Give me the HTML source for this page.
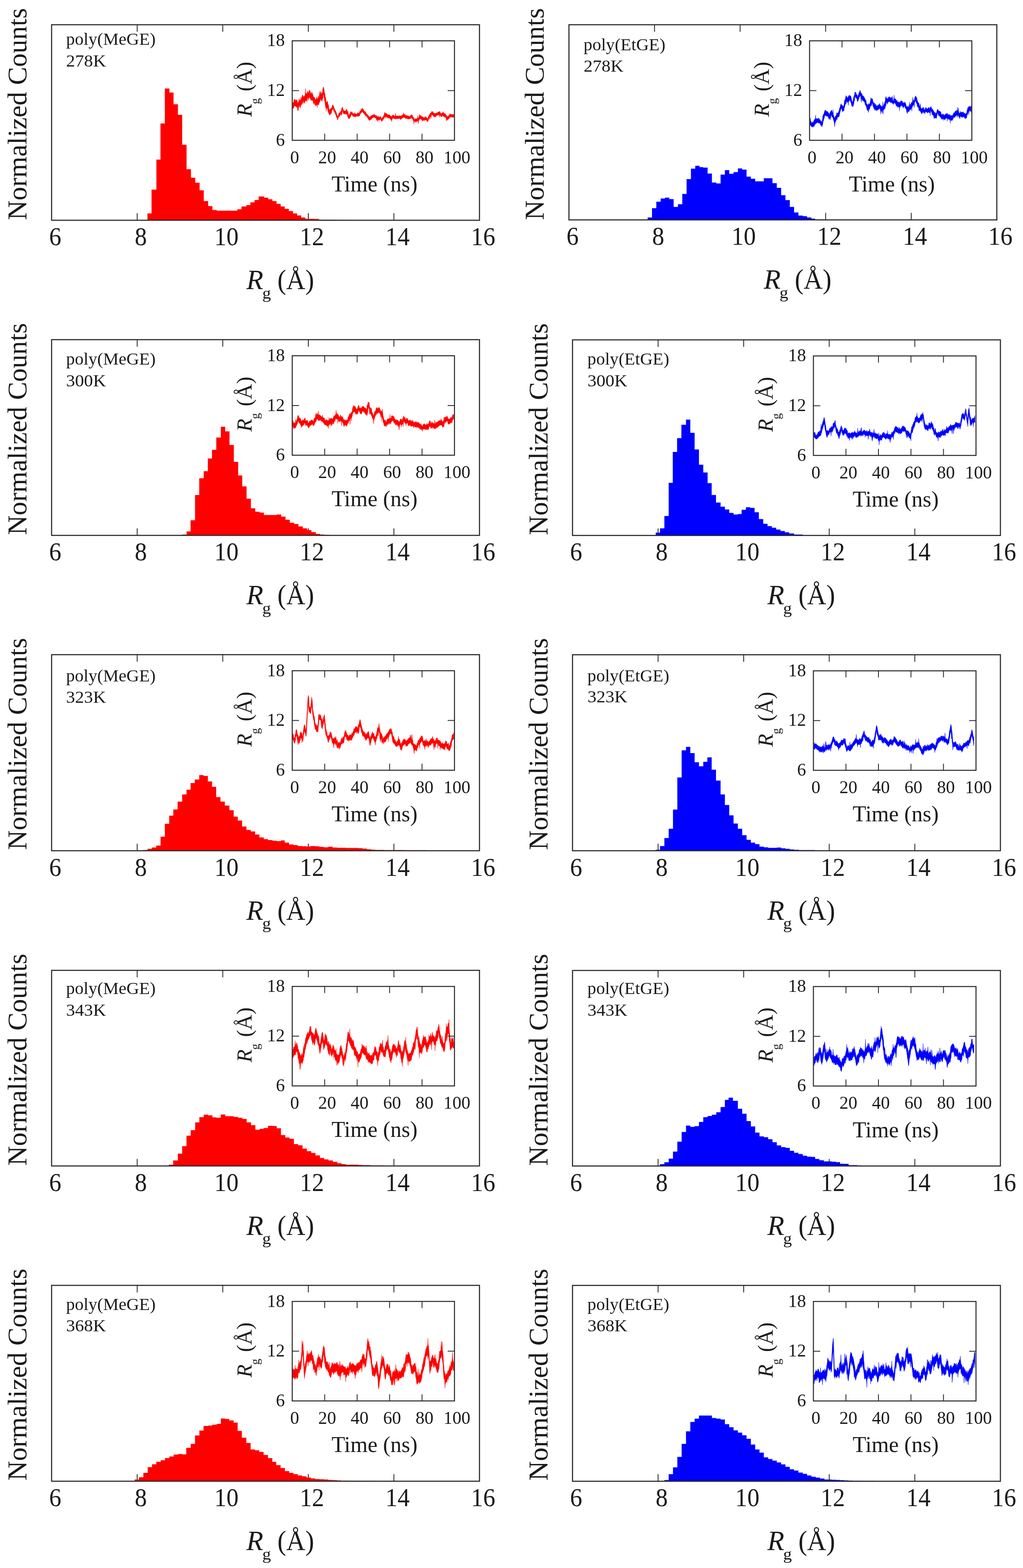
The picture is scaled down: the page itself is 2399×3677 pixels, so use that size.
<!DOCTYPE html>
<html><head><meta charset="utf-8"><title>Rg histograms</title>
<style>html,body{margin:0;padding:0;background:#fff;}body{width:2399px;height:3677px;overflow:hidden;}svg{display:block;}</style>
</head><body>
<svg width="2399" height="3677" viewBox="0 0 2399 3677" font-family="Liberation Serif, Times New Roman, serif" fill="#1a1a1a">
<rect width="2399" height="3677" fill="#fff"/>
<path d="M321.7,516.5v-16.5M321.7,58v16.5M522.4,516.5v-16.5M522.4,58v16.5M723,516.5v-16.5M723,58v16.5M923.7,516.5v-16.5M923.7,58v16.5" stroke="#2b2b2b" stroke-width="2"/>
<path d="M345.8,516.5L345.8,500.4L355.4,500.4L355.4,444.7L366.7,444.7L366.7,374.2L376.3,374.2L376.3,289.5L386.6,289.5L386.6,207.4L397.3,207.4L397.3,217.1L406.9,217.1L406.9,244.4L417.2,244.4L417.2,269.2L427.2,269.2L427.2,339.4L437.5,339.4L437.5,396.7L447.8,396.7L447.8,416.7L457.8,416.7L457.8,428.6L468.1,428.6L468.1,446.3L477.8,446.3L477.8,471.4L488.1,471.4L488.1,483.3L498,483.3L498,492.4L508.3,492.4L508.3,494L518.3,494L518.3,494L528.3,494L528.3,494L538.3,494L538.3,494L548.3,494L548.3,494L556.6,494L556.6,490.7L566.3,490.7L566.3,484.3L577.6,484.3L577.6,481.1L587.2,481.1L587.2,474.6L596.9,474.6L596.9,468.9L606.5,468.9L606.5,460.8L619.4,460.8L619.4,463.4L629.1,463.4L629.1,467.2L638.7,467.2L638.7,471.4L648.4,471.4L648.4,477.9L658.1,477.9L658.1,484.3L667.7,484.3L667.7,489.8L677.4,489.8L677.4,494.9L687,494.9L687,500.4L696.7,500.4L696.7,505.2L706.3,505.2L706.3,510.1L716,510.1L716,513.3L725.7,513.3L725.7,513.2L736,513.2L736,513.5L748,513.5L748,515L770,515L770,515.3L789,515.3L789,515.8L821,515.8L821,516.5Z" fill="#ff0000"/>
<rect x="121" y="58" width="1003.4" height="458.5" fill="none" stroke="#2b2b2b" stroke-width="2.6"/>
<text x="129.5" y="575" font-size="61" text-anchor="middle" textLength="28.5" lengthAdjust="spacingAndGlyphs">6</text>
<text x="330.2" y="575" font-size="61" text-anchor="middle" textLength="28.5" lengthAdjust="spacingAndGlyphs">8</text>
<text x="530.9" y="575" font-size="61" text-anchor="middle" textLength="57" lengthAdjust="spacingAndGlyphs">10</text>
<text x="731.5" y="575" font-size="61" text-anchor="middle" textLength="57" lengthAdjust="spacingAndGlyphs">12</text>
<text x="932.2" y="575" font-size="61" text-anchor="middle" textLength="57" lengthAdjust="spacingAndGlyphs">14</text>
<text x="1132.9" y="575" font-size="61" text-anchor="middle" textLength="57" lengthAdjust="spacingAndGlyphs">16</text>
<text x="577.8" y="678" font-size="65" font-style="italic">R</text>
<text x="614.9" y="699.5" font-size="38" textLength="20.5" lengthAdjust="spacingAndGlyphs">g</text>
<text x="650.6" y="678" font-size="65" textLength="86.2" lengthAdjust="spacingAndGlyphs">(Å)</text>
<text transform="translate(62,515.9) rotate(-90)" font-size="63.7">Normalized Counts</text>
<text x="154.9" y="104.8" font-size="40.5" textLength="210.1" lengthAdjust="spacingAndGlyphs">poly(MeGE)</text>
<text x="155" y="155.5" font-size="40.5" textLength="93.6" lengthAdjust="spacingAndGlyphs">278K</text>
<rect x="685.3" y="95.7" width="380.5" height="233.3" fill="#fff" stroke="none"/>
<path d="M686.6,239.7L687.4,240.5L688.2,242.1L689.0,236.0L689.8,232.5L690.6,232.7L691.4,233.4L692.2,233.8L693.0,236.9L693.8,235.6L694.6,233.0L695.4,235.8L696.2,234.4L697.0,235.6L697.8,239.9L698.6,244.0L699.4,239.6L700.2,239.1L701.0,234.4L701.8,231.0L702.6,236.0L703.4,235.9L704.2,234.9L705.0,232.4L705.8,227.4L706.6,232.9L707.4,230.7L708.2,226.0L709.0,222.8L709.8,222.4L710.6,225.0L711.4,226.1L712.2,226.4L713.0,226.8L713.8,225.5L714.6,223.2L715.4,225.6L716.2,207.5L717.0,220.9L717.8,217.6L718.6,221.3L719.4,218.9L720.2,219.3L721.0,213.5L721.8,217.5L722.6,214.6L723.4,218.3L724.2,219.1L725.0,212.6L725.8,210.6L726.6,214.6L727.4,213.0L728.2,217.7L729.0,218.9L729.8,222.0L730.6,217.0L731.4,216.0L732.2,217.4L733.0,222.8L733.8,220.7L734.6,226.2L735.4,226.8L736.2,226.9L737.0,229.8L737.8,228.1L738.6,230.9L739.4,233.6L740.2,232.8L741.0,233.0L741.8,230.9L742.6,226.5L743.4,230.7L744.2,232.4L745.0,231.0L745.8,227.6L746.6,225.1L747.4,228.2L748.2,228.1L749.0,214.8L749.8,223.5L750.6,222.2L751.4,214.2L752.2,220.0L753.0,215.3L753.8,217.8L754.6,221.5L755.4,219.3L756.2,216.0L757.0,208.4L757.8,204.3L758.6,204.2L759.4,206.7L760.2,210.5L761.0,217.5L761.8,218.4L762.6,227.1L763.4,227.5L764.2,232.2L765.0,238.4L765.8,239.3L766.6,239.8L767.4,239.3L768.2,236.0L769.0,242.9L769.8,246.4L770.6,245.2L771.4,257.4L772.2,257.7L773.0,255.8L773.8,255.8L774.6,257.5L775.4,253.7L776.2,254.4L777.0,253.2L777.8,253.1L778.6,249.7L779.4,246.5L780.2,247.7L781.0,245.4L781.8,249.1L782.6,250.1L783.4,252.7L784.2,254.4L785.0,256.1L785.8,258.6L786.6,259.0L787.4,260.6L788.2,263.3L789.0,264.6L789.8,267.8L790.6,270.0L791.4,272.6L792.2,273.2L793.0,271.2L793.8,268.8L794.6,266.0L795.4,264.7L796.2,264.6L797.0,264.3L797.8,263.5L798.6,260.7L799.4,261.2L800.2,259.1L801.0,256.0L801.8,252.6L802.6,253.0L803.4,250.6L804.2,254.9L805.0,256.7L805.8,258.4L806.6,259.4L807.4,261.3L808.2,259.5L809.0,259.7L809.8,259.2L810.6,260.1L811.4,260.2L812.2,256.9L813.0,255.7L813.8,257.3L814.6,262.7L815.4,263.5L816.2,260.0L817.0,267.5L817.8,270.1L818.6,271.9L819.4,266.3L820.2,268.0L821.0,268.3L821.8,260.9L822.6,265.0L823.4,263.3L824.2,261.8L825.0,262.3L825.8,263.0L826.6,264.9L827.4,265.1L828.2,266.5L829.0,267.3L829.8,265.1L830.6,268.6L831.4,267.1L832.2,263.6L833.0,267.4L833.8,267.6L834.6,267.0L835.4,266.0L836.2,267.9L837.0,267.7L837.8,266.7L838.6,263.9L839.4,264.5L840.2,264.7L841.0,265.9L841.8,266.1L842.6,263.9L843.4,262.2L844.2,260.8L845.0,260.2L845.8,259.3L846.6,255.2L847.4,258.7L848.2,256.8L849.0,253.7L849.8,253.2L850.6,254.9L851.4,256.6L852.2,257.9L853.0,256.9L853.8,259.8L854.6,262.0L855.4,260.8L856.2,261.0L857.0,262.1L857.8,263.9L858.6,264.8L859.4,266.5L860.2,267.2L861.0,269.4L861.8,268.2L862.6,270.2L863.4,270.7L864.2,270.8L865.0,273.8L865.8,275.5L866.6,273.4L867.4,274.0L868.2,273.1L869.0,272.7L869.8,272.4L870.6,270.3L871.4,272.1L872.2,270.1L873.0,270.1L873.8,270.1L874.6,269.3L875.4,270.2L876.2,268.9L877.0,267.4L877.8,267.9L878.6,269.4L879.4,270.2L880.2,269.9L881.0,271.0L881.8,270.8L882.6,271.0L883.4,271.6L884.2,272.3L885.0,273.0L885.8,273.4L886.6,273.3L887.4,274.9L888.2,271.4L889.0,276.2L889.8,274.8L890.6,274.7L891.4,272.9L892.2,273.4L893.0,273.5L893.8,276.6L894.6,278.1L895.4,277.0L896.2,276.9L897.0,274.5L897.8,274.6L898.6,274.3L899.4,271.6L900.2,270.2L901.0,268.2L901.8,263.2L902.6,265.8L903.4,264.5L904.2,265.5L905.0,266.5L905.8,265.8L906.6,266.3L907.4,266.5L908.2,269.6L909.0,267.8L909.8,269.6L910.6,268.9L911.4,269.2L912.2,268.9L913.0,268.8L913.8,269.2L914.6,271.1L915.4,272.5L916.2,272.2L917.0,272.1L917.8,272.6L918.6,273.1L919.4,272.8L920.2,270.2L921.0,270.1L921.8,269.1L922.6,270.8L923.4,270.5L924.2,270.8L925.0,272.5L925.8,273.1L926.6,271.6L927.4,265.7L928.2,270.2L929.0,271.9L929.8,273.3L930.6,271.0L931.4,272.2L932.2,271.0L933.0,271.4L933.8,272.3L934.6,271.8L935.4,271.0L936.2,272.0L937.0,271.3L937.8,271.4L938.6,271.7L939.4,271.7L940.2,272.5L941.0,270.7L941.8,271.4L942.6,270.4L943.4,269.7L944.2,269.9L945.0,268.1L945.8,268.3L946.6,263.9L947.4,268.2L948.2,268.6L949.0,268.8L949.8,268.0L950.6,269.8L951.4,269.9L952.2,271.0L953.0,270.7L953.8,270.6L954.6,272.2L955.4,269.9L956.2,273.1L957.0,272.0L957.8,272.4L958.6,270.8L959.4,272.2L960.2,273.8L961.0,273.6L961.8,272.5L962.6,269.8L963.4,271.9L964.2,269.5L965.0,268.6L965.8,268.8L966.6,270.6L967.4,271.0L968.2,273.9L969.0,275.7L969.8,274.9L970.6,275.5L971.4,279.9L972.2,279.8L973.0,279.3L973.8,277.3L974.6,280.4L975.4,278.0L976.2,280.0L977.0,277.2L977.8,278.4L978.6,279.1L979.4,270.8L980.2,276.7L981.0,277.0L981.8,275.3L982.6,274.9L983.4,267.2L984.2,271.1L985.0,271.5L985.8,270.6L986.6,270.8L987.4,271.0L988.2,274.4L989.0,272.7L989.8,272.5L990.6,273.7L991.4,274.6L992.2,274.4L993.0,275.6L993.8,276.5L994.6,274.8L995.4,276.7L996.2,275.8L997.0,273.1L997.8,273.1L998.6,274.9L999.4,274.0L1000.2,275.1L1001.0,277.0L1001.8,278.5L1002.6,277.5L1003.4,275.9L1004.2,276.0L1005.0,271.9L1005.8,271.7L1006.6,270.2L1007.4,267.7L1008.2,266.6L1009.0,266.5L1009.8,264.3L1010.6,265.0L1011.4,264.6L1012.2,261.4L1013.0,260.9L1013.8,260.7L1014.6,263.1L1015.4,262.9L1016.2,265.2L1017.0,263.8L1017.8,265.3L1018.6,266.2L1019.4,266.5L1020.2,264.9L1021.0,266.0L1021.8,266.0L1022.6,266.1L1023.4,264.6L1024.2,264.7L1025.0,264.5L1025.8,263.6L1026.6,264.1L1027.4,262.9L1028.2,262.0L1029.0,263.3L1029.8,261.5L1030.6,261.0L1031.4,262.2L1032.2,262.2L1033.0,264.5L1033.8,267.8L1034.6,266.6L1035.4,265.6L1036.2,265.0L1037.0,266.0L1037.8,263.8L1038.6,265.0L1039.4,261.5L1040.2,265.1L1041.0,265.6L1041.8,265.2L1042.6,266.8L1043.4,266.6L1044.2,266.1L1045.0,267.8L1045.8,269.4L1046.6,270.1L1047.4,271.4L1048.2,273.2L1049.0,272.6L1049.8,273.6L1050.6,271.9L1051.4,272.6L1052.2,271.2L1053.0,270.2L1053.8,268.6L1054.6,268.4L1055.4,266.6L1056.2,266.8L1057.0,268.9L1057.8,268.7L1058.6,267.1L1059.4,268.3L1060.2,269.2L1061.0,269.1L1061.8,267.6L1062.6,268.6L1063.4,268.7L1064.2,267.3L1064.2,274.5L1063.4,275.5L1062.6,275.2L1061.8,274.9L1061.0,275.5L1060.2,274.9L1059.4,273.9L1058.6,274.8L1057.8,274.2L1057.0,275.3L1056.2,273.9L1055.4,274.7L1054.6,273.9L1053.8,278.7L1053.0,276.3L1052.2,278.1L1051.4,280.0L1050.6,279.7L1049.8,280.9L1049.0,282.3L1048.2,279.9L1047.4,279.0L1046.6,284.2L1045.8,276.0L1045.0,274.2L1044.2,272.8L1043.4,277.0L1042.6,273.1L1041.8,274.0L1041.0,274.4L1040.2,272.3L1039.4,273.1L1038.6,271.0L1037.8,270.3L1037.0,272.8L1036.2,272.2L1035.4,274.0L1034.6,274.4L1033.8,273.0L1033.0,271.3L1032.2,270.9L1031.4,268.1L1030.6,275.0L1029.8,271.4L1029.0,268.4L1028.2,270.2L1027.4,269.8L1026.6,268.9L1025.8,270.7L1025.0,270.4L1024.2,269.9L1023.4,272.0L1022.6,271.8L1021.8,275.3L1021.0,273.3L1020.2,273.5L1019.4,272.8L1018.6,275.5L1017.8,273.9L1017.0,272.7L1016.2,272.4L1015.4,270.3L1014.6,270.7L1013.8,269.7L1013.0,268.5L1012.2,270.0L1011.4,271.9L1010.6,278.4L1009.8,273.6L1009.0,274.0L1008.2,273.7L1007.4,279.8L1006.6,278.0L1005.8,277.4L1005.0,280.5L1004.2,283.4L1003.4,285.5L1002.6,285.6L1001.8,284.3L1001.0,283.2L1000.2,282.5L999.4,281.9L998.6,281.5L997.8,280.7L997.0,281.6L996.2,281.8L995.4,282.9L994.6,282.9L993.8,281.5L993.0,282.4L992.2,282.3L991.4,283.5L990.6,282.2L989.8,284.3L989.0,279.4L988.2,280.7L987.4,279.8L986.6,278.4L985.8,279.0L985.0,279.7L984.2,279.1L983.4,280.9L982.6,283.1L981.8,281.9L981.0,290.3L980.2,284.3L979.4,285.1L978.6,284.8L977.8,283.6L977.0,284.5L976.2,286.6L975.4,285.9L974.6,287.4L973.8,284.5L973.0,284.3L972.2,284.2L971.4,287.2L970.6,291.3L969.8,283.7L969.0,282.6L968.2,279.9L967.4,279.4L966.6,278.3L965.8,277.4L965.0,276.4L964.2,277.6L963.4,277.3L962.6,278.0L961.8,278.2L961.0,279.1L960.2,279.1L959.4,279.5L958.6,277.9L957.8,279.6L957.0,279.1L956.2,279.8L955.4,276.7L954.6,278.6L953.8,277.7L953.0,277.2L952.2,278.3L951.4,277.3L950.6,278.8L949.8,274.8L949.0,276.5L948.2,275.6L947.4,276.2L946.6,274.5L945.8,275.5L945.0,276.2L944.2,277.7L943.4,276.1L942.6,277.0L941.8,279.1L941.0,278.6L940.2,280.7L939.4,280.3L938.6,278.9L937.8,279.0L937.0,277.8L936.2,277.4L935.4,278.6L934.6,278.5L933.8,278.4L933.0,278.8L932.2,278.1L931.4,278.3L930.6,278.3L929.8,278.7L929.0,279.5L928.2,277.7L927.4,278.3L926.6,279.7L925.8,278.2L925.0,278.3L924.2,277.6L923.4,278.6L922.6,276.0L921.8,278.1L921.0,277.5L920.2,276.7L919.4,282.9L918.6,280.0L917.8,285.1L917.0,279.7L916.2,279.8L915.4,280.3L914.6,278.5L913.8,277.8L913.0,275.4L912.2,277.3L911.4,276.1L910.6,277.9L909.8,275.4L909.0,274.6L908.2,276.9L907.4,275.8L906.6,273.9L905.8,273.7L905.0,272.8L904.2,277.9L903.4,272.2L902.6,273.8L901.8,275.1L901.0,277.3L900.2,278.1L899.4,279.0L898.6,280.7L897.8,279.9L897.0,283.3L896.2,283.8L895.4,284.3L894.6,284.5L893.8,282.3L893.0,280.0L892.2,280.1L891.4,279.6L890.6,281.3L889.8,281.2L889.0,283.1L888.2,280.9L887.4,281.0L886.6,280.7L885.8,286.0L885.0,282.2L884.2,280.7L883.4,278.6L882.6,283.1L881.8,277.1L881.0,276.8L880.2,276.0L879.4,277.4L878.6,275.7L877.8,275.0L877.0,274.4L876.2,275.7L875.4,276.4L874.6,275.2L873.8,276.2L873.0,276.3L872.2,277.4L871.4,279.3L870.6,280.0L869.8,280.4L869.0,281.2L868.2,280.4L867.4,282.7L866.6,281.5L865.8,283.1L865.0,281.0L864.2,280.4L863.4,278.8L862.6,276.9L861.8,276.1L861.0,274.9L860.2,274.0L859.4,273.0L858.6,271.5L857.8,270.9L857.0,272.1L856.2,269.9L855.4,269.1L854.6,268.1L853.8,266.5L853.0,265.9L852.2,265.0L851.4,264.5L850.6,263.0L849.8,261.1L849.0,262.6L848.2,263.8L847.4,264.4L846.6,265.3L845.8,264.8L845.0,267.9L844.2,267.7L843.4,271.4L842.6,272.4L841.8,272.5L841.0,271.5L840.2,273.5L839.4,272.0L838.6,272.7L837.8,273.4L837.0,272.1L836.2,273.2L835.4,271.6L834.6,272.3L833.8,274.8L833.0,274.8L832.2,272.5L831.4,273.2L830.6,274.2L829.8,274.1L829.0,272.1L828.2,272.4L827.4,272.3L826.6,272.6L825.8,268.7L825.0,268.6L824.2,269.6L823.4,269.6L822.6,273.0L821.8,273.5L821.0,275.2L820.2,277.2L819.4,277.7L818.6,278.1L817.8,278.4L817.0,277.2L816.2,274.9L815.4,274.4L814.6,270.1L813.8,268.5L813.0,267.4L812.2,268.3L811.4,267.0L810.6,268.5L809.8,266.6L809.0,266.6L808.2,267.3L807.4,268.2L806.6,266.2L805.8,267.4L805.0,265.6L804.2,263.1L803.4,259.3L802.6,260.5L801.8,267.2L801.0,270.6L800.2,269.0L799.4,268.6L798.6,268.1L797.8,269.6L797.0,272.0L796.2,272.0L795.4,274.5L794.6,273.8L793.8,275.7L793.0,276.9L792.2,281.6L791.4,280.6L790.6,277.7L789.8,275.0L789.0,275.2L788.2,272.3L787.4,268.2L786.6,268.5L785.8,265.5L785.0,264.7L784.2,262.2L783.4,261.1L782.6,261.1L781.8,256.7L781.0,254.4L780.2,256.7L779.4,258.0L778.6,258.7L777.8,261.6L777.0,266.1L776.2,267.5L775.4,266.2L774.6,268.2L773.8,268.6L773.0,270.1L772.2,269.0L771.4,265.6L770.6,266.1L769.8,262.8L769.0,261.4L768.2,257.0L767.4,252.7L766.6,254.5L765.8,251.4L765.0,261.2L764.2,253.6L763.4,250.9L762.6,246.3L761.8,238.4L761.0,237.0L760.2,228.1L759.4,228.8L758.6,219.9L757.8,223.8L757.0,232.0L756.2,232.2L755.4,237.9L754.6,236.3L753.8,235.4L753.0,235.7L752.2,233.2L751.4,231.1L750.6,239.0L749.8,237.1L749.0,241.5L748.2,241.6L747.4,246.4L746.6,245.4L745.8,245.3L745.0,245.2L744.2,252.3L743.4,245.0L742.6,244.9L741.8,246.9L741.0,248.9L740.2,248.0L739.4,245.7L738.6,246.0L737.8,244.4L737.0,240.4L736.2,240.5L735.4,244.8L734.6,241.3L733.8,236.0L733.0,236.2L732.2,235.3L731.4,235.2L730.6,232.3L729.8,236.7L729.0,229.9L728.2,234.5L727.4,228.5L726.6,230.6L725.8,224.6L725.0,229.1L724.2,230.6L723.4,234.7L722.6,232.8L721.8,228.7L721.0,228.8L720.2,238.5L719.4,235.1L718.6,236.5L717.8,237.8L717.0,233.8L716.2,236.2L715.4,237.7L714.6,243.0L713.8,239.1L713.0,241.4L712.2,237.2L711.4,237.5L710.6,244.1L709.8,241.0L709.0,236.3L708.2,244.6L707.4,244.3L706.6,246.8L705.8,244.9L705.0,250.0L704.2,254.1L703.4,249.8L702.6,250.5L701.8,244.8L701.0,250.4L700.2,253.0L699.4,259.2L698.6,259.9L697.8,257.6L697.0,251.0L696.2,250.8L695.4,251.8L694.6,250.9L693.8,249.3L693.0,248.0L692.2,250.1L691.4,249.2L690.6,247.3L689.8,248.5L689.0,252.4L688.2,254.1L687.4,254.0L686.6,254.8Z" fill="#ff0000" stroke="#ff0000" stroke-width="0.6"/>
<rect x="685.3" y="95.7" width="380.5" height="233.3" fill="none" stroke="#2b2b2b" stroke-width="2.4"/>
<path d="M761.4,329v-15.5M761.4,95.7v15.5M837.5,329v-15.5M837.5,95.7v15.5M913.6,329v-15.5M913.6,95.7v15.5M989.7,329v-15.5M989.7,95.7v15.5M685.3,212.4h16M1065.8,212.4h-16" stroke="#2b2b2b" stroke-width="2"/>
<text x="691.1" y="382.6" font-size="42" text-anchor="middle">0</text>
<text x="767.2" y="382.6" font-size="42" text-anchor="middle">20</text>
<text x="843.3" y="382.6" font-size="42" text-anchor="middle">40</text>
<text x="919.4" y="382.6" font-size="42" text-anchor="middle">60</text>
<text x="995.5" y="382.6" font-size="42" text-anchor="middle">80</text>
<text x="1071.6" y="382.6" font-size="42" text-anchor="middle">100</text>
<text x="668" y="108.3" font-size="42" text-anchor="end">18</text>
<text x="668" y="225" font-size="42" text-anchor="end">12</text>
<text x="668" y="341.6" font-size="42" text-anchor="end">6</text>
<text x="777.4" y="448.8" font-size="52">Time (ns)</text>
<g transform="translate(590,273.8) rotate(-90)"><text x="0" y="0" font-size="50" font-style="italic">R</text><text x="29.5" y="17.5" font-size="28.5">g</text><text x="59.5" y="0" font-size="50">(Å)</text></g>
<path d="M1534.9,515.7v-16.5M1534.9,58v16.5M1735.6,515.7v-16.5M1735.6,58v16.5M1936.2,515.7v-16.5M1936.2,58v16.5M2136.9,515.7v-16.5M2136.9,58v16.5" stroke="#2b2b2b" stroke-width="2"/>
<path d="M1518.8,515.7L1518.8,509.9L1529,509.9L1529,488.2L1539.1,488.2L1539.1,473.1L1549.3,473.1L1549.3,465.6L1559.4,465.6L1559.4,463.5L1569.5,463.5L1569.5,467L1579.7,467L1579.7,485.3L1589.8,485.3L1589.8,478.9L1600,478.9L1600,454.8L1610.1,454.8L1610.1,420.1L1620.3,420.1L1620.3,395.4L1630.4,395.4L1630.4,388.8L1640.5,388.8L1640.5,392L1649.2,392L1649.2,393.1L1659.4,393.1L1659.4,407L1669.5,407L1669.5,427.9L1679.7,427.9L1679.7,430.2L1689.8,430.2L1689.8,409.4L1699.9,409.4L1699.9,398.9L1710.1,398.9L1710.1,407.6L1720.2,407.6L1720.2,403.6L1730.4,403.6L1730.4,394.9L1740.5,394.9L1740.5,397.8L1750.7,397.8L1750.7,414.3L1760.8,414.3L1760.8,419.2L1770.9,419.2L1770.9,425.3L1781.1,425.3L1781.1,425.3L1791.2,425.3L1791.2,418L1801.4,418L1801.4,418L1811.5,418L1811.5,429.6L1821.6,429.6L1821.6,440.4L1831.8,440.4L1831.8,457.7L1841.9,457.7L1841.9,469.3L1852.1,469.3L1852.1,485.3L1862.2,485.3L1862.2,498.3L1872.4,498.3L1872.4,505.6L1882.5,505.6L1882.5,507L1892.6,507L1892.6,509.9L1902.8,509.9L1902.8,512.8L1911.5,512.8L1911.5,514.8L1934.7,514.8L1934.7,515.7Z" fill="#0000ff"/>
<rect x="1334.2" y="58" width="1003.4" height="457.7" fill="none" stroke="#2b2b2b" stroke-width="2.6"/>
<text x="1342.7" y="574.2" font-size="61" text-anchor="middle" textLength="28.5" lengthAdjust="spacingAndGlyphs">6</text>
<text x="1543.4" y="574.2" font-size="61" text-anchor="middle" textLength="28.5" lengthAdjust="spacingAndGlyphs">8</text>
<text x="1744.1" y="574.2" font-size="61" text-anchor="middle" textLength="57" lengthAdjust="spacingAndGlyphs">10</text>
<text x="1944.7" y="574.2" font-size="61" text-anchor="middle" textLength="57" lengthAdjust="spacingAndGlyphs">12</text>
<text x="2145.4" y="574.2" font-size="61" text-anchor="middle" textLength="57" lengthAdjust="spacingAndGlyphs">14</text>
<text x="2346.1" y="574.2" font-size="61" text-anchor="middle" textLength="57" lengthAdjust="spacingAndGlyphs">16</text>
<text x="1791" y="677.2" font-size="65" font-style="italic">R</text>
<text x="1828.1" y="698.7" font-size="38" textLength="20.5" lengthAdjust="spacingAndGlyphs">g</text>
<text x="1863.8" y="677.2" font-size="65" textLength="86.2" lengthAdjust="spacingAndGlyphs">(Å)</text>
<text transform="translate(1275.2,515.9) rotate(-90)" font-size="63.7">Normalized Counts</text>
<text x="1368.6" y="117.5" font-size="40.5" textLength="191.8" lengthAdjust="spacingAndGlyphs">poly(EtGE)</text>
<text x="1368.7" y="167.9" font-size="40.5" textLength="93.6" lengthAdjust="spacingAndGlyphs">278K</text>
<rect x="1898.5" y="95.7" width="380.5" height="233.3" fill="#fff" stroke="none"/>
<path d="M1899.8,285.9L1900.6,276.8L1901.4,284.3L1902.2,285.5L1903.0,287.2L1903.8,288.5L1904.6,288.3L1905.4,285.2L1906.2,286.0L1907.0,288.0L1907.8,284.8L1908.6,283.6L1909.4,280.2L1910.2,279.7L1911.0,279.3L1911.8,278.9L1912.6,269.7L1913.4,278.9L1914.2,279.4L1915.0,277.4L1915.8,279.8L1916.6,277.6L1917.4,279.2L1918.2,278.3L1919.0,277.1L1919.8,277.5L1920.6,277.6L1921.4,278.6L1922.2,281.8L1923.0,280.1L1923.8,282.5L1924.6,284.0L1925.4,284.3L1926.2,282.8L1927.0,286.7L1927.8,286.2L1928.6,280.7L1929.4,271.0L1930.2,272.0L1931.0,268.0L1931.8,267.1L1932.6,264.9L1933.4,262.1L1934.2,259.4L1935.0,257.6L1935.8,258.2L1936.6,260.9L1937.4,260.9L1938.2,260.8L1939.0,260.3L1939.8,261.5L1940.6,263.7L1941.4,261.6L1942.2,264.8L1943.0,265.6L1943.8,264.5L1944.6,269.4L1945.4,267.9L1946.2,264.8L1947.0,262.8L1947.8,261.0L1948.6,261.0L1949.4,257.9L1950.2,258.7L1951.0,260.1L1951.8,262.7L1952.6,265.3L1953.4,256.9L1954.2,267.3L1955.0,270.9L1955.8,272.9L1956.6,276.3L1957.4,276.9L1958.2,274.3L1959.0,272.4L1959.8,272.3L1960.6,270.4L1961.4,269.5L1962.2,264.1L1963.0,266.5L1963.8,264.6L1964.6,265.8L1965.4,264.9L1966.2,262.2L1967.0,260.8L1967.8,258.3L1968.6,255.1L1969.4,252.5L1970.2,250.5L1971.0,246.2L1971.8,244.5L1972.6,242.9L1973.4,246.6L1974.2,246.4L1975.0,247.5L1975.8,247.1L1976.6,247.4L1977.4,250.6L1978.2,248.9L1979.0,247.3L1979.8,240.5L1980.6,234.2L1981.4,235.8L1982.2,231.6L1983.0,228.2L1983.8,224.7L1984.6,224.2L1985.4,226.6L1986.2,227.2L1987.0,228.9L1987.8,230.7L1988.6,226.6L1989.4,228.1L1990.2,224.1L1991.0,227.1L1991.8,222.1L1992.6,225.4L1993.4,224.1L1994.2,225.0L1995.0,224.9L1995.8,227.5L1996.6,230.2L1997.4,234.6L1998.2,239.2L1999.0,238.7L1999.8,237.6L2000.6,235.6L2001.4,229.4L2002.2,226.2L2003.0,224.2L2003.8,222.3L2004.6,215.6L2005.4,216.0L2006.2,218.2L2007.0,216.0L2007.8,221.1L2008.6,220.7L2009.4,221.2L2010.2,223.5L2011.0,227.9L2011.8,224.9L2012.6,222.5L2013.4,221.9L2014.2,217.4L2015.0,217.5L2015.8,215.1L2016.6,212.0L2017.4,212.3L2018.2,216.1L2019.0,217.4L2019.8,218.7L2020.6,219.3L2021.4,219.8L2022.2,223.5L2023.0,225.3L2023.8,224.1L2024.6,226.9L2025.4,225.1L2026.2,227.9L2027.0,228.6L2027.8,230.0L2028.6,231.9L2029.4,234.2L2030.2,235.0L2031.0,235.2L2031.8,241.8L2032.6,244.9L2033.4,243.7L2034.2,245.1L2035.0,247.0L2035.8,246.6L2036.6,242.1L2037.4,245.4L2038.2,243.4L2039.0,243.8L2039.8,242.7L2040.6,239.0L2041.4,235.6L2042.2,229.3L2043.0,229.5L2043.8,234.1L2044.6,231.5L2045.4,231.4L2046.2,231.8L2047.0,236.9L2047.8,238.8L2048.6,241.5L2049.4,241.5L2050.2,244.2L2051.0,241.1L2051.8,244.2L2052.6,247.4L2053.4,244.2L2054.2,244.2L2055.0,248.0L2055.8,248.7L2056.6,248.3L2057.4,248.4L2058.2,246.7L2059.0,246.7L2059.8,245.6L2060.6,248.7L2061.4,244.1L2062.2,245.4L2063.0,241.8L2063.8,246.7L2064.6,247.5L2065.4,246.6L2066.2,248.6L2067.0,248.7L2067.8,252.1L2068.6,249.0L2069.4,250.2L2070.2,238.7L2071.0,247.6L2071.8,249.8L2072.6,246.4L2073.4,243.2L2074.2,241.7L2075.0,238.4L2075.8,237.8L2076.6,227.2L2077.4,233.3L2078.2,226.1L2079.0,230.2L2079.8,229.8L2080.6,230.4L2081.4,233.3L2082.2,230.8L2083.0,227.6L2083.8,230.5L2084.6,228.3L2085.4,226.1L2086.2,227.8L2087.0,227.8L2087.8,229.6L2088.6,228.4L2089.4,231.1L2090.2,231.0L2091.0,227.1L2091.8,230.4L2092.6,225.5L2093.4,232.5L2094.2,236.5L2095.0,237.2L2095.8,232.0L2096.6,222.7L2097.4,232.2L2098.2,232.6L2099.0,231.1L2099.8,232.1L2100.6,232.0L2101.4,235.0L2102.2,236.1L2103.0,235.0L2103.8,235.7L2104.6,237.9L2105.4,241.3L2106.2,238.8L2107.0,238.8L2107.8,239.3L2108.6,241.1L2109.4,239.3L2110.2,239.0L2111.0,242.6L2111.8,236.4L2112.6,237.1L2113.4,236.2L2114.2,237.5L2115.0,235.8L2115.8,237.2L2116.6,239.6L2117.4,240.9L2118.2,241.7L2119.0,239.2L2119.8,243.3L2120.6,241.1L2121.4,240.3L2122.2,238.5L2123.0,243.3L2123.8,241.8L2124.6,245.5L2125.4,248.8L2126.2,249.9L2127.0,251.5L2127.8,249.6L2128.6,251.4L2129.4,247.7L2130.2,249.5L2131.0,251.8L2131.8,251.6L2132.6,238.9L2133.4,247.2L2134.2,244.0L2135.0,245.5L2135.8,246.2L2136.6,241.0L2137.4,240.2L2138.2,240.0L2139.0,241.2L2139.8,236.8L2140.6,227.7L2141.4,236.2L2142.2,234.2L2143.0,237.6L2143.8,236.0L2144.6,231.5L2145.4,227.8L2146.2,227.3L2147.0,225.3L2147.8,224.7L2148.6,228.6L2149.4,227.9L2150.2,230.5L2151.0,235.5L2151.8,236.7L2152.6,239.6L2153.4,243.1L2154.2,240.4L2155.0,242.4L2155.8,248.6L2156.6,248.0L2157.4,247.8L2158.2,243.0L2159.0,251.9L2159.8,252.4L2160.6,255.3L2161.4,255.2L2162.2,254.1L2163.0,253.6L2163.8,252.7L2164.6,250.9L2165.4,256.7L2166.2,252.0L2167.0,255.3L2167.8,256.3L2168.6,258.6L2169.4,256.5L2170.2,252.8L2171.0,251.8L2171.8,251.7L2172.6,255.5L2173.4,254.2L2174.2,255.0L2175.0,254.9L2175.8,255.1L2176.6,252.9L2177.4,251.7L2178.2,251.7L2179.0,254.2L2179.8,256.1L2180.6,251.9L2181.4,251.7L2182.2,252.6L2183.0,249.1L2183.8,252.5L2184.6,252.7L2185.4,256.6L2186.2,255.7L2187.0,255.0L2187.8,259.4L2188.6,259.0L2189.4,258.9L2190.2,262.0L2191.0,265.1L2191.8,263.1L2192.6,263.0L2193.4,265.4L2194.2,268.5L2195.0,264.4L2195.8,266.5L2196.6,262.1L2197.4,259.0L2198.2,256.3L2199.0,258.5L2199.8,256.3L2200.6,259.2L2201.4,260.4L2202.2,260.5L2203.0,260.5L2203.8,260.3L2204.6,262.7L2205.4,261.7L2206.2,261.8L2207.0,266.0L2207.8,269.0L2208.6,268.6L2209.4,271.5L2210.2,266.5L2211.0,267.4L2211.8,266.9L2212.6,269.0L2213.4,269.6L2214.2,271.1L2215.0,268.6L2215.8,269.9L2216.6,270.1L2217.4,266.2L2218.2,267.3L2219.0,268.6L2219.8,265.0L2220.6,266.5L2221.4,270.7L2222.2,265.2L2223.0,268.1L2223.8,270.2L2224.6,267.9L2225.4,269.6L2226.2,270.7L2227.0,267.8L2227.8,269.8L2228.6,270.1L2229.4,271.1L2230.2,272.5L2231.0,270.5L2231.8,270.7L2232.6,270.3L2233.4,272.7L2234.2,270.6L2235.0,267.0L2235.8,267.6L2236.6,263.6L2237.4,264.2L2238.2,266.4L2239.0,262.4L2239.8,262.0L2240.6,259.5L2241.4,260.3L2242.2,262.5L2243.0,258.7L2243.8,258.6L2244.6,261.0L2245.4,251.0L2246.2,260.5L2247.0,261.4L2247.8,252.7L2248.6,266.2L2249.4,264.5L2250.2,265.0L2251.0,265.8L2251.8,260.7L2252.6,262.5L2253.4,264.4L2254.2,262.3L2255.0,264.9L2255.8,262.4L2256.6,262.9L2257.4,265.1L2258.2,262.4L2259.0,262.1L2259.8,265.1L2260.6,265.3L2261.4,264.6L2262.2,265.6L2263.0,268.0L2263.8,266.9L2264.6,265.7L2265.4,265.8L2266.2,266.8L2267.0,263.5L2267.8,258.7L2268.6,256.3L2269.4,253.2L2270.2,251.3L2271.0,253.4L2271.8,249.2L2272.6,251.2L2273.4,250.2L2274.2,248.3L2275.0,250.0L2275.8,250.2L2276.6,251.1L2277.4,247.8L2277.4,262.8L2276.6,258.4L2275.8,261.5L2275.0,261.5L2274.2,257.5L2273.4,260.4L2272.6,260.0L2271.8,268.4L2271.0,263.3L2270.2,262.8L2269.4,267.2L2268.6,269.6L2267.8,270.3L2267.0,276.4L2266.2,275.8L2265.4,277.6L2264.6,279.4L2263.8,275.3L2263.0,276.2L2262.2,277.8L2261.4,275.5L2260.6,274.0L2259.8,272.4L2259.0,274.9L2258.2,274.0L2257.4,272.4L2256.6,276.5L2255.8,275.3L2255.0,274.8L2254.2,273.5L2253.4,272.9L2252.6,274.2L2251.8,271.0L2251.0,278.9L2250.2,275.5L2249.4,275.8L2248.6,274.6L2247.8,272.6L2247.0,270.8L2246.2,270.5L2245.4,271.6L2244.6,275.8L2243.8,269.1L2243.0,270.1L2242.2,271.2L2241.4,272.7L2240.6,271.9L2239.8,274.8L2239.0,274.7L2238.2,276.5L2237.4,274.2L2236.6,275.2L2235.8,276.0L2235.0,279.9L2234.2,279.5L2233.4,282.3L2232.6,282.8L2231.8,283.7L2231.0,281.5L2230.2,281.5L2229.4,281.1L2228.6,289.3L2227.8,281.2L2227.0,279.8L2226.2,279.0L2225.4,281.7L2224.6,279.1L2223.8,279.1L2223.0,278.9L2222.2,276.0L2221.4,284.3L2220.6,276.8L2219.8,277.6L2219.0,276.6L2218.2,277.6L2217.4,278.7L2216.6,280.4L2215.8,280.6L2215.0,278.9L2214.2,279.6L2213.4,282.7L2212.6,280.6L2211.8,277.0L2211.0,278.8L2210.2,278.3L2209.4,280.9L2208.6,278.8L2207.8,278.3L2207.0,278.2L2206.2,275.9L2205.4,274.3L2204.6,274.6L2203.8,272.4L2203.0,271.3L2202.2,273.1L2201.4,271.1L2200.6,270.7L2199.8,266.3L2199.0,265.6L2198.2,266.3L2197.4,271.7L2196.6,273.8L2195.8,278.0L2195.0,277.5L2194.2,277.1L2193.4,276.4L2192.6,275.6L2191.8,276.4L2191.0,278.7L2190.2,276.7L2189.4,272.8L2188.6,270.7L2187.8,270.1L2187.0,268.9L2186.2,270.1L2185.4,266.3L2184.6,263.4L2183.8,261.0L2183.0,259.3L2182.2,263.7L2181.4,271.8L2180.6,261.5L2179.8,265.3L2179.0,263.9L2178.2,261.8L2177.4,263.2L2176.6,263.0L2175.8,265.8L2175.0,263.4L2174.2,264.0L2173.4,262.9L2172.6,262.8L2171.8,262.9L2171.0,261.3L2170.2,262.1L2169.4,264.9L2168.6,267.4L2167.8,264.3L2167.0,264.6L2166.2,261.3L2165.4,265.7L2164.6,261.7L2163.8,261.7L2163.0,265.4L2162.2,265.0L2161.4,267.5L2160.6,265.7L2159.8,264.2L2159.0,262.5L2158.2,261.4L2157.4,259.8L2156.6,258.7L2155.8,259.2L2155.0,260.7L2154.2,252.9L2153.4,251.1L2152.6,251.9L2151.8,250.9L2151.0,248.7L2150.2,243.0L2149.4,240.4L2148.6,242.9L2147.8,237.1L2147.0,236.4L2146.2,237.4L2145.4,239.4L2144.6,242.4L2143.8,252.4L2143.0,246.8L2142.2,246.0L2141.4,246.0L2140.6,248.5L2139.8,250.6L2139.0,251.8L2138.2,260.6L2137.4,251.4L2136.6,254.7L2135.8,256.7L2135.0,258.2L2134.2,256.1L2133.4,257.7L2132.6,259.5L2131.8,261.7L2131.0,262.7L2130.2,262.2L2129.4,259.1L2128.6,262.5L2127.8,266.6L2127.0,264.5L2126.2,262.5L2125.4,258.1L2124.6,254.8L2123.8,253.1L2123.0,254.9L2122.2,251.2L2121.4,248.9L2120.6,249.5L2119.8,250.9L2119.0,249.3L2118.2,254.0L2117.4,251.5L2116.6,250.3L2115.8,247.7L2115.0,247.8L2114.2,248.4L2113.4,247.9L2112.6,248.2L2111.8,247.9L2111.0,252.2L2110.2,249.1L2109.4,260.5L2108.6,249.1L2107.8,250.6L2107.0,249.5L2106.2,251.5L2105.4,252.1L2104.6,250.7L2103.8,248.9L2103.0,246.6L2102.2,249.6L2101.4,247.6L2100.6,245.5L2099.8,242.5L2099.0,239.9L2098.2,243.7L2097.4,239.2L2096.6,241.6L2095.8,242.4L2095.0,245.3L2094.2,244.0L2093.4,242.9L2092.6,241.6L2091.8,241.8L2091.0,238.2L2090.2,241.1L2089.4,241.2L2088.6,239.7L2087.8,239.3L2087.0,240.2L2086.2,237.2L2085.4,238.5L2084.6,238.4L2083.8,239.5L2083.0,237.8L2082.2,240.9L2081.4,244.4L2080.6,243.1L2079.8,238.1L2079.0,241.5L2078.2,243.4L2077.4,248.5L2076.6,247.6L2075.8,254.3L2075.0,254.1L2074.2,255.1L2073.4,257.4L2072.6,256.7L2071.8,257.6L2071.0,267.7L2070.2,257.5L2069.4,259.6L2068.6,265.8L2067.8,260.9L2067.0,261.1L2066.2,260.0L2065.4,267.8L2064.6,259.7L2063.8,255.7L2063.0,255.0L2062.2,254.1L2061.4,255.9L2060.6,256.3L2059.8,258.1L2059.0,256.0L2058.2,257.5L2057.4,258.8L2056.6,257.5L2055.8,260.7L2055.0,258.4L2054.2,256.0L2053.4,258.1L2052.6,256.6L2051.8,259.7L2051.0,254.2L2050.2,256.3L2049.4,254.3L2048.6,252.5L2047.8,250.3L2047.0,249.2L2046.2,243.0L2045.4,241.4L2044.6,243.8L2043.8,247.3L2043.0,248.1L2042.2,249.2L2041.4,248.5L2040.6,250.2L2039.8,254.4L2039.0,257.0L2038.2,255.2L2037.4,256.1L2036.6,264.1L2035.8,260.1L2035.0,259.4L2034.2,258.9L2033.4,257.0L2032.6,255.5L2031.8,251.1L2031.0,249.3L2030.2,247.7L2029.4,245.4L2028.6,245.2L2027.8,240.4L2027.0,239.1L2026.2,238.8L2025.4,237.3L2024.6,235.9L2023.8,236.4L2023.0,236.4L2022.2,235.0L2021.4,231.6L2020.6,233.3L2019.8,240.2L2019.0,232.7L2018.2,225.9L2017.4,223.1L2016.6,226.8L2015.8,226.3L2015.0,228.5L2014.2,232.2L2013.4,231.9L2012.6,236.2L2011.8,236.5L2011.0,238.8L2010.2,236.9L2009.4,230.1L2008.6,231.1L2007.8,230.9L2007.0,228.1L2006.2,229.2L2005.4,224.4L2004.6,227.8L2003.8,237.0L2003.0,237.7L2002.2,243.9L2001.4,247.2L2000.6,249.9L1999.8,249.7L1999.0,248.8L1998.2,250.0L1997.4,248.7L1996.6,244.5L1995.8,240.7L1995.0,239.0L1994.2,237.7L1993.4,234.6L1992.6,234.3L1991.8,236.2L1991.0,237.9L1990.2,236.1L1989.4,247.6L1988.6,239.2L1987.8,239.1L1987.0,240.4L1986.2,238.6L1985.4,235.0L1984.6,244.2L1983.8,235.6L1983.0,244.0L1982.2,245.6L1981.4,248.6L1980.6,252.5L1979.8,254.5L1979.0,260.7L1978.2,259.9L1977.4,258.9L1976.6,261.0L1975.8,258.0L1975.0,263.0L1974.2,256.1L1973.4,254.7L1972.6,253.3L1971.8,256.8L1971.0,259.2L1970.2,263.4L1969.4,265.4L1968.6,269.9L1967.8,272.6L1967.0,275.0L1966.2,273.4L1965.4,274.3L1964.6,274.3L1963.8,276.6L1963.0,281.4L1962.2,276.7L1961.4,279.5L1960.6,283.0L1959.8,284.5L1959.0,286.4L1958.2,288.8L1957.4,297.4L1956.6,290.6L1955.8,284.7L1955.0,283.5L1954.2,280.1L1953.4,277.4L1952.6,275.1L1951.8,275.1L1951.0,274.8L1950.2,269.4L1949.4,271.4L1948.6,271.6L1947.8,281.3L1947.0,275.5L1946.2,275.8L1945.4,280.1L1944.6,280.3L1943.8,278.5L1943.0,276.0L1942.2,275.9L1941.4,273.0L1940.6,272.6L1939.8,272.2L1939.0,271.5L1938.2,272.9L1937.4,272.0L1936.6,270.4L1935.8,271.7L1935.0,270.0L1934.2,270.6L1933.4,275.8L1932.6,278.0L1931.8,279.7L1931.0,283.8L1930.2,285.6L1929.4,292.5L1928.6,293.2L1927.8,297.5L1927.0,297.1L1926.2,292.7L1925.4,295.2L1924.6,292.4L1923.8,293.1L1923.0,289.6L1922.2,289.6L1921.4,288.5L1920.6,288.4L1919.8,288.6L1919.0,289.3L1918.2,286.2L1917.4,286.8L1916.6,288.0L1915.8,289.2L1915.0,286.3L1914.2,289.4L1913.4,288.6L1912.6,291.2L1911.8,292.0L1911.0,288.4L1910.2,296.4L1909.4,294.6L1908.6,294.2L1907.8,297.3L1907.0,297.4L1906.2,298.3L1905.4,297.0L1904.6,297.6L1903.8,297.8L1903.0,297.5L1902.2,294.9L1901.4,295.0L1900.6,294.0L1899.8,293.8Z" fill="#0000ff" stroke="#0000ff" stroke-width="0.6"/>
<rect x="1898.5" y="95.7" width="380.5" height="233.3" fill="none" stroke="#2b2b2b" stroke-width="2.4"/>
<path d="M1974.6,329v-15.5M1974.6,95.7v15.5M2050.7,329v-15.5M2050.7,95.7v15.5M2126.8,329v-15.5M2126.8,95.7v15.5M2202.9,329v-15.5M2202.9,95.7v15.5M1898.5,212.4h16M2279,212.4h-16" stroke="#2b2b2b" stroke-width="2"/>
<text x="1904.3" y="382.6" font-size="42" text-anchor="middle">0</text>
<text x="1980.4" y="382.6" font-size="42" text-anchor="middle">20</text>
<text x="2056.5" y="382.6" font-size="42" text-anchor="middle">40</text>
<text x="2132.6" y="382.6" font-size="42" text-anchor="middle">60</text>
<text x="2208.7" y="382.6" font-size="42" text-anchor="middle">80</text>
<text x="2284.8" y="382.6" font-size="42" text-anchor="middle">100</text>
<text x="1881.2" y="108.3" font-size="42" text-anchor="end">18</text>
<text x="1881.2" y="225" font-size="42" text-anchor="end">12</text>
<text x="1881.2" y="341.6" font-size="42" text-anchor="end">6</text>
<text x="1990.6" y="448.8" font-size="52">Time (ns)</text>
<g transform="translate(1803.2,273.8) rotate(-90)"><text x="0" y="0" font-size="50" font-style="italic">R</text><text x="29.5" y="17.5" font-size="28.5">g</text><text x="59.5" y="0" font-size="50">(Å)</text></g>
<path d="M321.7,1255.5v-16.5M321.7,796.5v16.5M522.4,1255.5v-16.5M522.4,796.5v16.5M723,1255.5v-16.5M723,796.5v16.5M923.7,1255.5v-16.5M923.7,796.5v16.5" stroke="#2b2b2b" stroke-width="2"/>
<path d="M427.5,1255.5L427.5,1253.5L437.7,1253.5L437.7,1246.2L446.9,1246.2L446.9,1220.1L457.4,1220.1L457.4,1160.7L467.2,1160.7L467.2,1121.6L477.7,1121.6L477.7,1105.1L487.5,1105.1L487.5,1075.3L497.1,1075.3L497.1,1055L507.2,1055L507.2,1026L517.9,1026L517.9,1000.8L528.1,1000.8L528.1,1011.5L538.2,1011.5L538.2,1043.4L548.4,1043.4L548.4,1083.1L558.5,1083.1L558.5,1115L568.1,1115L568.1,1140.5L578.2,1140.5L578.2,1169.4L588.4,1169.4L588.4,1192L598.5,1192L598.5,1199.9L608.6,1199.9L608.6,1201.9L618.8,1201.9L618.8,1207.7L628.9,1207.7L628.9,1207.7L639.1,1207.7L639.1,1207.7L649.2,1207.7L649.2,1206.5L659.3,1206.5L659.3,1211.5L669.5,1211.5L669.5,1218.7L679.6,1218.7L679.6,1225.9L689.8,1225.9L689.8,1228.8L699.9,1228.8L699.9,1234.6L710.1,1234.6L710.1,1239L720.2,1239L720.2,1243.3L730.3,1243.3L730.3,1247.7L740.5,1247.7L740.5,1252L750.6,1252L750.6,1253.5L760.8,1253.5L760.8,1254.3L773.8,1254.3L773.8,1255.5Z" fill="#ff0000"/>
<rect x="121" y="796.5" width="1003.4" height="459" fill="none" stroke="#2b2b2b" stroke-width="2.6"/>
<text x="129.5" y="1314" font-size="61" text-anchor="middle" textLength="28.5" lengthAdjust="spacingAndGlyphs">6</text>
<text x="330.2" y="1314" font-size="61" text-anchor="middle" textLength="28.5" lengthAdjust="spacingAndGlyphs">8</text>
<text x="530.9" y="1314" font-size="61" text-anchor="middle" textLength="57" lengthAdjust="spacingAndGlyphs">10</text>
<text x="731.5" y="1314" font-size="61" text-anchor="middle" textLength="57" lengthAdjust="spacingAndGlyphs">12</text>
<text x="932.2" y="1314" font-size="61" text-anchor="middle" textLength="57" lengthAdjust="spacingAndGlyphs">14</text>
<text x="1132.9" y="1314" font-size="61" text-anchor="middle" textLength="57" lengthAdjust="spacingAndGlyphs">16</text>
<text x="577.8" y="1417" font-size="65" font-style="italic">R</text>
<text x="614.9" y="1438.5" font-size="38" textLength="20.5" lengthAdjust="spacingAndGlyphs">g</text>
<text x="650.6" y="1417" font-size="65" textLength="86.2" lengthAdjust="spacingAndGlyphs">(Å)</text>
<text transform="translate(62,1254.4) rotate(-90)" font-size="63.7">Normalized Counts</text>
<text x="154.9" y="855.3" font-size="40.5" textLength="210.1" lengthAdjust="spacingAndGlyphs">poly(MeGE)</text>
<text x="155" y="905.9" font-size="40.5" textLength="93.6" lengthAdjust="spacingAndGlyphs">300K</text>
<rect x="685.3" y="834.2" width="380.5" height="233.3" fill="#fff" stroke="none"/>
<path d="M686.6,987.7L687.4,986.5L688.2,992.8L689.0,992.7L689.8,989.7L690.6,993.3L691.4,991.9L692.2,993.1L693.0,982.8L693.8,989.1L694.6,988.6L695.4,986.0L696.2,983.3L697.0,981.8L697.8,976.4L698.6,974.4L699.4,973.7L700.2,974.9L701.0,980.4L701.8,978.5L702.6,980.6L703.4,983.0L704.2,979.5L705.0,982.3L705.8,985.5L706.6,986.1L707.4,987.5L708.2,988.3L709.0,985.4L709.8,984.3L710.6,983.9L711.4,986.3L712.2,985.2L713.0,984.9L713.8,981.0L714.6,981.4L715.4,979.3L716.2,984.3L717.0,987.6L717.8,987.7L718.6,985.0L719.4,986.6L720.2,986.3L721.0,985.4L721.8,987.0L722.6,993.8L723.4,991.3L724.2,993.3L725.0,988.3L725.8,987.3L726.6,987.5L727.4,987.3L728.2,986.4L729.0,987.9L729.8,983.6L730.6,986.6L731.4,984.9L732.2,984.3L733.0,985.6L733.8,987.0L734.6,989.1L735.4,985.3L736.2,982.2L737.0,983.0L737.8,979.0L738.6,981.1L739.4,978.4L740.2,969.4L741.0,974.9L741.8,973.6L742.6,969.4L743.4,968.4L744.2,970.3L745.0,973.1L745.8,971.6L746.6,963.5L747.4,973.4L748.2,973.0L749.0,973.2L749.8,972.3L750.6,975.2L751.4,973.9L752.2,974.8L753.0,977.6L753.8,976.5L754.6,978.7L755.4,975.6L756.2,973.3L757.0,978.9L757.8,979.1L758.6,980.9L759.4,978.8L760.2,980.6L761.0,980.6L761.8,984.8L762.6,987.2L763.4,985.6L764.2,983.7L765.0,984.6L765.8,986.7L766.6,983.6L767.4,985.1L768.2,986.0L769.0,986.5L769.8,986.8L770.6,984.9L771.4,978.9L772.2,985.8L773.0,984.2L773.8,980.2L774.6,981.1L775.4,982.0L776.2,983.7L777.0,979.8L777.8,980.5L778.6,982.0L779.4,982.3L780.2,982.9L781.0,980.4L781.8,978.9L782.6,976.0L783.4,975.3L784.2,973.4L785.0,976.6L785.8,975.0L786.6,971.6L787.4,970.9L788.2,961.4L789.0,969.7L789.8,969.9L790.6,972.6L791.4,969.3L792.2,972.5L793.0,972.9L793.8,972.5L794.6,978.7L795.4,975.5L796.2,979.0L797.0,977.5L797.8,976.8L798.6,971.9L799.4,974.8L800.2,976.3L801.0,977.3L801.8,980.0L802.6,975.4L803.4,980.1L804.2,978.7L805.0,981.6L805.8,985.5L806.6,983.3L807.4,986.1L808.2,985.3L809.0,984.1L809.8,985.6L810.6,986.2L811.4,985.6L812.2,984.4L813.0,986.1L813.8,985.6L814.6,983.6L815.4,984.6L816.2,977.8L817.0,977.4L817.8,976.0L818.6,974.3L819.4,970.6L820.2,969.7L821.0,971.9L821.8,970.4L822.6,968.6L823.4,966.8L824.2,967.7L825.0,965.9L825.8,964.2L826.6,957.7L827.4,954.5L828.2,954.5L829.0,950.5L829.8,951.5L830.6,954.1L831.4,953.2L832.2,951.3L833.0,952.8L833.8,959.1L834.6,955.2L835.4,959.2L836.2,959.6L837.0,959.2L837.8,958.2L838.6,955.8L839.4,954.0L840.2,950.4L841.0,949.6L841.8,952.4L842.6,956.3L843.4,956.4L844.2,955.7L845.0,955.8L845.8,958.7L846.6,956.3L847.4,957.9L848.2,954.8L849.0,953.5L849.8,952.7L850.6,954.1L851.4,953.0L852.2,952.0L853.0,953.2L853.8,956.4L854.6,954.9L855.4,957.0L856.2,956.0L857.0,957.7L857.8,957.7L858.6,957.6L859.4,961.4L860.2,958.4L861.0,948.9L861.8,951.0L862.6,945.3L863.4,942.7L864.2,942.7L865.0,943.6L865.8,944.6L866.6,952.1L867.4,955.1L868.2,955.5L869.0,957.2L869.8,957.9L870.6,956.9L871.4,959.1L872.2,964.6L873.0,968.1L873.8,967.4L874.6,971.3L875.4,975.0L876.2,973.7L877.0,971.0L877.8,968.7L878.6,964.1L879.4,965.3L880.2,964.2L881.0,962.0L881.8,958.2L882.6,956.3L883.4,957.2L884.2,954.9L885.0,959.6L885.8,958.2L886.6,955.9L887.4,957.1L888.2,955.5L889.0,957.3L889.8,955.0L890.6,959.2L891.4,959.2L892.2,962.7L893.0,967.1L893.8,963.5L894.6,962.2L895.4,966.5L896.2,964.9L897.0,959.5L897.8,969.8L898.6,975.9L899.4,977.9L900.2,984.1L901.0,982.8L901.8,987.4L902.6,985.3L903.4,985.1L904.2,985.8L905.0,988.9L905.8,990.9L906.6,987.3L907.4,985.0L908.2,982.7L909.0,982.2L909.8,982.2L910.6,982.9L911.4,981.4L912.2,983.0L913.0,981.0L913.8,980.5L914.6,971.5L915.4,982.6L916.2,980.9L917.0,981.4L917.8,974.4L918.6,975.7L919.4,978.6L920.2,974.1L921.0,974.9L921.8,975.2L922.6,977.4L923.4,976.7L924.2,977.0L925.0,980.5L925.8,983.8L926.6,982.5L927.4,984.8L928.2,986.4L929.0,983.5L929.8,984.7L930.6,984.2L931.4,986.2L932.2,986.2L933.0,984.4L933.8,986.0L934.6,987.9L935.4,988.7L936.2,990.8L937.0,987.1L937.8,986.6L938.6,982.2L939.4,983.9L940.2,982.0L941.0,983.0L941.8,983.4L942.6,986.6L943.4,984.2L944.2,980.4L945.0,981.6L945.8,978.3L946.6,975.0L947.4,977.1L948.2,978.8L949.0,981.6L949.8,978.1L950.6,983.4L951.4,982.8L952.2,985.7L953.0,980.4L953.8,980.8L954.6,980.2L955.4,981.7L956.2,982.8L957.0,985.7L957.8,985.4L958.6,988.4L959.4,985.6L960.2,986.3L961.0,985.4L961.8,983.9L962.6,985.3L963.4,988.7L964.2,986.0L965.0,988.6L965.8,988.4L966.6,984.5L967.4,987.2L968.2,989.8L969.0,987.1L969.8,991.4L970.6,991.0L971.4,989.4L972.2,990.6L973.0,989.4L973.8,990.9L974.6,987.4L975.4,989.7L976.2,990.6L977.0,992.8L977.8,988.1L978.6,991.6L979.4,991.2L980.2,990.3L981.0,991.1L981.8,990.1L982.6,991.7L983.4,992.9L984.2,994.4L985.0,993.9L985.8,993.4L986.6,996.2L987.4,995.1L988.2,995.1L989.0,998.9L989.8,999.1L990.6,999.2L991.4,997.3L992.2,996.1L993.0,994.4L993.8,995.5L994.6,993.3L995.4,993.8L996.2,994.5L997.0,996.4L997.8,996.7L998.6,995.0L999.4,996.4L1000.2,995.7L1001.0,992.4L1001.8,997.0L1002.6,994.1L1003.4,994.8L1004.2,996.0L1005.0,992.5L1005.8,991.8L1006.6,990.0L1007.4,985.8L1008.2,987.4L1009.0,986.8L1009.8,990.5L1010.6,993.7L1011.4,993.4L1012.2,989.3L1013.0,991.3L1013.8,989.9L1014.6,991.4L1015.4,994.1L1016.2,992.2L1017.0,991.7L1017.8,993.2L1018.6,995.5L1019.4,984.7L1020.2,995.0L1021.0,993.6L1021.8,989.5L1022.6,991.3L1023.4,992.5L1024.2,989.4L1025.0,992.2L1025.8,988.3L1026.6,989.6L1027.4,988.7L1028.2,986.9L1029.0,986.2L1029.8,989.0L1030.6,985.4L1031.4,984.8L1032.2,988.0L1033.0,987.1L1033.8,981.9L1034.6,985.5L1035.4,987.1L1036.2,983.5L1037.0,988.5L1037.8,988.4L1038.6,987.8L1039.4,989.1L1040.2,986.0L1041.0,977.9L1041.8,983.9L1042.6,979.7L1043.4,978.0L1044.2,977.4L1045.0,978.8L1045.8,978.5L1046.6,976.2L1047.4,978.0L1048.2,977.9L1049.0,975.0L1049.8,978.7L1050.6,982.4L1051.4,981.9L1052.2,981.7L1053.0,982.4L1053.8,984.2L1054.6,981.6L1055.4,981.3L1056.2,980.8L1057.0,977.8L1057.8,981.5L1058.6,980.7L1059.4,976.6L1060.2,979.7L1061.0,976.3L1061.8,972.1L1062.6,971.5L1063.4,971.9L1064.2,972.8L1064.2,983.7L1063.4,982.1L1062.6,982.3L1061.8,985.3L1061.0,984.5L1060.2,991.5L1059.4,987.8L1058.6,992.2L1057.8,990.2L1057.0,992.6L1056.2,991.3L1055.4,992.0L1054.6,994.1L1053.8,994.6L1053.0,995.3L1052.2,993.9L1051.4,994.6L1050.6,994.3L1049.8,989.9L1049.0,987.8L1048.2,987.8L1047.4,987.4L1046.6,987.7L1045.8,992.1L1045.0,991.3L1044.2,989.2L1043.4,988.8L1042.6,993.7L1041.8,994.4L1041.0,1001.7L1040.2,997.9L1039.4,1001.1L1038.6,1000.6L1037.8,1002.4L1037.0,999.8L1036.2,996.4L1035.4,997.8L1034.6,996.2L1033.8,996.7L1033.0,997.6L1032.2,997.8L1031.4,996.3L1030.6,997.0L1029.8,1000.1L1029.0,998.6L1028.2,999.6L1027.4,1001.5L1026.6,1001.7L1025.8,1000.4L1025.0,1003.5L1024.2,1002.3L1023.4,1001.4L1022.6,1004.9L1021.8,1003.3L1021.0,1004.3L1020.2,1006.4L1019.4,1003.6L1018.6,1006.2L1017.8,1004.9L1017.0,1002.7L1016.2,1002.4L1015.4,1004.0L1014.6,1005.6L1013.8,1001.0L1013.0,1000.6L1012.2,1003.4L1011.4,1005.7L1010.6,1004.7L1009.8,1002.9L1009.0,1000.4L1008.2,999.5L1007.4,1001.1L1006.6,999.6L1005.8,1005.2L1005.0,1004.7L1004.2,1008.9L1003.4,1004.6L1002.6,1005.9L1001.8,1008.6L1001.0,1006.9L1000.2,1007.4L999.4,1006.7L998.6,1006.8L997.8,1008.3L997.0,1007.0L996.2,1004.8L995.4,1006.4L994.6,1005.2L993.8,1007.3L993.0,1006.6L992.2,1005.6L991.4,1006.5L990.6,1011.8L989.8,1009.6L989.0,1007.8L988.2,1006.8L987.4,1007.1L986.6,1007.4L985.8,1007.1L985.0,1004.7L984.2,1002.3L983.4,1006.4L982.6,1000.7L981.8,1004.3L981.0,1001.1L980.2,1002.1L979.4,1002.2L978.6,1003.2L977.8,999.2L977.0,1001.0L976.2,1002.7L975.4,1001.4L974.6,1001.7L973.8,1000.6L973.0,1001.7L972.2,999.1L971.4,997.7L970.6,1002.7L969.8,1002.9L969.0,999.5L968.2,999.1L967.4,998.3L966.6,999.3L965.8,999.5L965.0,999.9L964.2,1000.3L963.4,999.9L962.6,998.0L961.8,997.1L961.0,997.3L960.2,996.8L959.4,999.2L958.6,998.3L957.8,998.0L957.0,997.2L956.2,994.1L955.4,991.9L954.6,991.8L953.8,992.1L953.0,994.6L952.2,998.9L951.4,991.1L950.6,993.6L949.8,992.5L949.0,989.8L948.2,990.6L947.4,988.9L946.6,986.1L945.8,1000.8L945.0,991.5L944.2,995.0L943.4,995.6L942.6,996.9L941.8,1001.2L941.0,993.4L940.2,996.8L939.4,994.2L938.6,993.1L937.8,997.9L937.0,996.7L936.2,1008.7L935.4,1003.3L934.6,1000.5L933.8,999.6L933.0,996.4L932.2,994.7L931.4,999.6L930.6,995.8L929.8,995.8L929.0,995.2L928.2,996.2L927.4,997.3L926.6,994.3L925.8,993.3L925.0,992.1L924.2,991.6L923.4,991.3L922.6,988.8L921.8,986.7L921.0,985.7L920.2,987.0L919.4,987.3L918.6,989.7L917.8,987.6L917.0,989.4L916.2,995.2L915.4,993.8L914.6,990.5L913.8,992.9L913.0,994.0L912.2,995.6L911.4,992.4L910.6,991.1L909.8,995.8L909.0,997.5L908.2,995.5L907.4,994.9L906.6,996.8L905.8,1001.5L905.0,998.9L904.2,999.2L903.4,998.0L902.6,999.7L901.8,999.5L901.0,997.4L900.2,996.0L899.4,990.0L898.6,991.5L897.8,984.3L897.0,981.7L896.2,978.1L895.4,988.3L894.6,972.4L893.8,976.4L893.0,979.1L892.2,973.2L891.4,970.9L890.6,970.6L889.8,967.7L889.0,968.0L888.2,966.9L887.4,968.0L886.6,967.3L885.8,968.6L885.0,971.2L884.2,968.7L883.4,967.7L882.6,973.1L881.8,972.4L881.0,973.0L880.2,976.3L879.4,977.0L878.6,980.4L877.8,983.0L877.0,984.9L876.2,994.0L875.4,985.2L874.6,982.0L873.8,982.1L873.0,980.2L872.2,976.5L871.4,976.7L870.6,972.5L869.8,970.6L869.0,970.2L868.2,971.7L867.4,966.2L866.6,972.1L865.8,958.4L865.0,958.7L864.2,955.1L863.4,956.0L862.6,965.9L861.8,969.6L861.0,974.1L860.2,972.5L859.4,974.5L858.6,969.9L857.8,970.6L857.0,971.9L856.2,970.5L855.4,967.5L854.6,966.4L853.8,968.0L853.0,964.5L852.2,966.3L851.4,964.0L850.6,963.4L849.8,965.3L849.0,966.5L848.2,970.4L847.4,970.3L846.6,970.9L845.8,970.6L845.0,970.2L844.2,967.3L843.4,966.7L842.6,965.0L841.8,964.5L841.0,962.6L840.2,961.9L839.4,970.1L838.6,965.3L837.8,972.2L837.0,971.8L836.2,971.5L835.4,970.7L834.6,968.9L833.8,971.5L833.0,968.3L832.2,965.1L831.4,967.0L830.6,964.9L829.8,966.4L829.0,963.5L828.2,969.6L827.4,966.8L826.6,972.8L825.8,977.5L825.0,978.1L824.2,987.2L823.4,977.3L822.6,981.3L821.8,982.7L821.0,995.4L820.2,985.0L819.4,983.5L818.6,987.5L817.8,988.6L817.0,992.7L816.2,992.8L815.4,993.7L814.6,994.3L813.8,998.1L813.0,1000.1L812.2,999.1L811.4,995.4L810.6,998.1L809.8,996.3L809.0,996.2L808.2,996.3L807.4,1001.1L806.6,999.3L805.8,999.1L805.0,993.3L804.2,992.9L803.4,989.3L802.6,988.1L801.8,990.4L801.0,998.5L800.2,987.7L799.4,986.4L798.6,985.4L797.8,990.1L797.0,986.9L796.2,988.0L795.4,988.3L794.6,989.1L793.8,985.9L793.0,981.3L792.2,992.6L791.4,983.5L790.6,982.0L789.8,982.4L789.0,983.1L788.2,982.9L787.4,981.7L786.6,981.8L785.8,986.9L785.0,989.2L784.2,985.9L783.4,988.5L782.6,995.0L781.8,993.0L781.0,993.7L780.2,992.0L779.4,993.2L778.6,997.8L777.8,992.5L777.0,996.6L776.2,999.5L775.4,995.5L774.6,994.1L773.8,992.1L773.0,996.6L772.2,995.1L771.4,997.2L770.6,998.3L769.8,1005.4L769.0,995.6L768.2,999.3L767.4,1000.2L766.6,995.8L765.8,998.8L765.0,997.7L764.2,995.8L763.4,996.3L762.6,997.0L761.8,995.8L761.0,996.2L760.2,993.6L759.4,992.7L758.6,992.7L757.8,988.2L757.0,990.8L756.2,988.7L755.4,988.5L754.6,987.0L753.8,988.2L753.0,986.2L752.2,987.2L751.4,984.4L750.6,984.0L749.8,985.0L749.0,986.6L748.2,987.1L747.4,986.8L746.6,985.6L745.8,984.5L745.0,981.5L744.2,983.9L743.4,980.8L742.6,984.9L741.8,985.6L741.0,988.9L740.2,989.4L739.4,989.3L738.6,992.2L737.8,993.7L737.0,996.2L736.2,997.3L735.4,999.5L734.6,997.8L733.8,996.3L733.0,996.0L732.2,995.2L731.4,994.8L730.6,996.9L729.8,996.0L729.0,997.5L728.2,997.0L727.4,998.8L726.6,999.2L725.8,999.2L725.0,1003.3L724.2,1002.1L723.4,1004.3L722.6,1002.0L721.8,1000.9L721.0,996.8L720.2,998.4L719.4,997.3L718.6,996.8L717.8,998.1L717.0,996.9L716.2,997.5L715.4,992.1L714.6,992.2L713.8,993.0L713.0,995.2L712.2,997.1L711.4,995.3L710.6,998.4L709.8,997.1L709.0,999.5L708.2,1000.0L707.4,1002.3L706.6,1001.8L705.8,995.5L705.0,998.1L704.2,994.3L703.4,993.9L702.6,992.8L701.8,992.1L701.0,991.5L700.2,988.8L699.4,987.4L698.6,988.2L697.8,992.7L697.0,994.7L696.2,995.7L695.4,998.2L694.6,999.3L693.8,1002.8L693.0,1003.8L692.2,1001.0L691.4,1004.6L690.6,1004.5L689.8,1004.3L689.0,1004.5L688.2,1004.9L687.4,999.1L686.6,1001.8Z" fill="#ff0000" stroke="#ff0000" stroke-width="0.6"/>
<rect x="685.3" y="834.2" width="380.5" height="233.3" fill="none" stroke="#2b2b2b" stroke-width="2.4"/>
<path d="M761.4,1067.5v-15.5M761.4,834.2v15.5M837.5,1067.5v-15.5M837.5,834.2v15.5M913.6,1067.5v-15.5M913.6,834.2v15.5M989.7,1067.5v-15.5M989.7,834.2v15.5M685.3,950.9h16M1065.8,950.9h-16" stroke="#2b2b2b" stroke-width="2"/>
<text x="691.1" y="1121.1" font-size="42" text-anchor="middle">0</text>
<text x="767.2" y="1121.1" font-size="42" text-anchor="middle">20</text>
<text x="843.3" y="1121.1" font-size="42" text-anchor="middle">40</text>
<text x="919.4" y="1121.1" font-size="42" text-anchor="middle">60</text>
<text x="995.5" y="1121.1" font-size="42" text-anchor="middle">80</text>
<text x="1071.6" y="1121.1" font-size="42" text-anchor="middle">100</text>
<text x="668" y="846.8" font-size="42" text-anchor="end">18</text>
<text x="668" y="963.5" font-size="42" text-anchor="end">12</text>
<text x="668" y="1080.1" font-size="42" text-anchor="end">6</text>
<text x="777.4" y="1187.3" font-size="52">Time (ns)</text>
<g transform="translate(590,1012.3) rotate(-90)"><text x="0" y="0" font-size="50" font-style="italic">R</text><text x="29.5" y="17.5" font-size="28.5">g</text><text x="59.5" y="0" font-size="50">(Å)</text></g>
<path d="M1543.3,1255.7v-16.5M1543.3,797v16.5M1744,1255.7v-16.5M1744,797v16.5M1944.6,1255.7v-16.5M1944.6,797v16.5M2145.3,1255.7v-16.5M2145.3,797v16.5" stroke="#2b2b2b" stroke-width="2"/>
<path d="M1537.7,1255.7L1537.7,1249L1547.8,1249L1547.8,1238.9L1558,1238.9L1558,1209.9L1568.1,1209.9L1568.1,1132.3L1577.7,1132.3L1577.7,1059.8L1587.8,1059.8L1587.8,1027.4L1597.9,1027.4L1597.9,996.1L1608.7,996.1L1608.7,983.9L1618.8,983.9L1618.8,1014.9L1628.9,1014.9L1628.9,1054L1639.1,1054L1639.1,1089.7L1649.2,1089.7L1649.2,1107.9L1659.4,1107.9L1659.4,1133.1L1668.9,1133.1L1668.9,1160.7L1679.1,1160.7L1679.1,1178.6L1689.8,1178.6L1689.8,1188.2L1699.9,1188.2L1699.9,1194.8L1710.1,1194.8L1710.1,1202.7L1720.2,1202.7L1720.2,1206.4L1730.4,1206.4L1730.4,1205.6L1739.1,1205.6L1739.1,1195.4L1749.2,1195.4L1749.2,1189.6L1759.3,1189.6L1759.3,1191.1L1769.5,1191.1L1769.5,1201.2L1779.6,1201.2L1779.6,1217.2L1789.8,1217.2L1789.8,1228.2L1799.9,1228.2L1799.9,1233.7L1810.1,1233.7L1810.1,1237.4L1820.2,1237.4L1820.2,1241.8L1830.3,1241.8L1830.3,1245.3L1840.5,1245.3L1840.5,1248.2L1850.6,1248.2L1850.6,1251.1L1862.2,1251.1L1862.2,1253.4L1882.5,1253.4L1882.5,1255.7Z" fill="#0000ff"/>
<rect x="1342.6" y="797" width="1003.4" height="458.7" fill="none" stroke="#2b2b2b" stroke-width="2.6"/>
<text x="1351.1" y="1314.2" font-size="61" text-anchor="middle" textLength="28.5" lengthAdjust="spacingAndGlyphs">6</text>
<text x="1551.8" y="1314.2" font-size="61" text-anchor="middle" textLength="28.5" lengthAdjust="spacingAndGlyphs">8</text>
<text x="1752.5" y="1314.2" font-size="61" text-anchor="middle" textLength="57" lengthAdjust="spacingAndGlyphs">10</text>
<text x="1953.1" y="1314.2" font-size="61" text-anchor="middle" textLength="57" lengthAdjust="spacingAndGlyphs">12</text>
<text x="2153.8" y="1314.2" font-size="61" text-anchor="middle" textLength="57" lengthAdjust="spacingAndGlyphs">14</text>
<text x="2354.5" y="1314.2" font-size="61" text-anchor="middle" textLength="57" lengthAdjust="spacingAndGlyphs">16</text>
<text x="1799.4" y="1417.2" font-size="65" font-style="italic">R</text>
<text x="1836.5" y="1438.7" font-size="38" textLength="20.5" lengthAdjust="spacingAndGlyphs">g</text>
<text x="1872.2" y="1417.2" font-size="65" textLength="86.2" lengthAdjust="spacingAndGlyphs">(Å)</text>
<text transform="translate(1283.6,1254.9) rotate(-90)" font-size="63.7">Normalized Counts</text>
<text x="1377.6" y="855.3" font-size="40.5" textLength="191.8" lengthAdjust="spacingAndGlyphs">poly(EtGE)</text>
<text x="1377.7" y="905.9" font-size="40.5" textLength="93.6" lengthAdjust="spacingAndGlyphs">300K</text>
<rect x="1907.5" y="834.7" width="381.3" height="233.3" fill="#fff" stroke="none"/>
<path d="M1908.8,1015.3L1909.6,1012.8L1910.4,1013.9L1911.2,1014.7L1912.0,1016.9L1912.8,1020.4L1913.6,1020.6L1914.4,1021.5L1915.2,1019.1L1916.0,1019.9L1916.8,1016.9L1917.6,1016.6L1918.4,1013.1L1919.2,1013.5L1920.0,1011.9L1920.8,1014.1L1921.6,1010.3L1922.4,1011.2L1923.2,1011.8L1924.0,1009.3L1924.8,1003.6L1925.6,995.1L1926.4,1000.6L1927.2,1000.8L1928.0,994.0L1928.8,992.0L1929.6,988.6L1930.4,986.9L1931.2,984.4L1932.0,980.2L1932.8,978.3L1933.6,981.8L1934.4,986.3L1935.2,992.3L1936.0,997.2L1936.8,999.4L1937.6,1008.0L1938.4,1010.7L1939.2,1009.0L1940.0,1011.8L1940.8,1009.3L1941.6,1009.8L1942.4,1010.0L1943.2,1010.5L1944.0,1010.5L1944.8,1005.6L1945.6,1005.2L1946.4,1003.1L1947.2,1003.5L1948.0,1005.3L1948.8,1000.2L1949.6,1000.1L1950.4,1002.0L1951.2,1000.3L1952.0,1001.4L1952.8,999.4L1953.6,993.7L1954.4,991.3L1955.2,992.4L1956.0,992.8L1956.8,990.6L1957.6,987.5L1958.4,985.0L1959.2,990.8L1960.0,996.7L1960.8,999.5L1961.6,1002.9L1962.4,1003.6L1963.2,1006.3L1964.0,1005.5L1964.8,1007.4L1965.6,1014.0L1966.4,1012.3L1967.2,1014.3L1968.0,1012.3L1968.8,1009.2L1969.6,1007.5L1970.4,1007.2L1971.2,1003.1L1972.0,1000.1L1972.8,998.0L1973.6,999.8L1974.4,1004.4L1975.2,1002.9L1976.0,1009.5L1976.8,1008.2L1977.6,1009.9L1978.4,1009.1L1979.2,1007.6L1980.0,1003.7L1980.8,1005.0L1981.6,1005.0L1982.4,1003.4L1983.2,1006.7L1984.0,1003.7L1984.8,1006.8L1985.6,1007.9L1986.4,1009.4L1987.2,1009.6L1988.0,1014.6L1988.8,1018.1L1989.6,1015.2L1990.4,1015.2L1991.2,1014.4L1992.0,1017.8L1992.8,1014.6L1993.6,1016.8L1994.4,1016.2L1995.2,1016.1L1996.0,1017.1L1996.8,1014.0L1997.6,1015.2L1998.4,1013.1L1999.2,1016.5L2000.0,1013.3L2000.8,1015.0L2001.6,1016.0L2002.4,1013.6L2003.2,1012.4L2004.0,1010.2L2004.8,1011.4L2005.6,1014.3L2006.4,1013.8L2007.2,1015.4L2008.0,1015.1L2008.8,1014.6L2009.6,1017.3L2010.4,1016.0L2011.2,1003.6L2012.0,1014.8L2012.8,1012.8L2013.6,1014.0L2014.4,1009.5L2015.2,1010.7L2016.0,1011.8L2016.8,1011.9L2017.6,1010.3L2018.4,1008.5L2019.2,1004.2L2020.0,1002.4L2020.8,1012.2L2021.6,1012.5L2022.4,1013.0L2023.2,1010.3L2024.0,1011.3L2024.8,1009.9L2025.6,1008.6L2026.4,1008.9L2027.2,1008.5L2028.0,1009.2L2028.8,1010.5L2029.6,1010.2L2030.4,1012.7L2031.2,1010.8L2032.0,1013.1L2032.8,1009.0L2033.6,1011.7L2034.4,1012.7L2035.2,1012.0L2036.0,1010.0L2036.8,1012.1L2037.6,1011.5L2038.4,1012.0L2039.2,1005.5L2040.0,1008.7L2040.8,1012.7L2041.6,1013.4L2042.4,1014.0L2043.2,1014.2L2044.0,1013.9L2044.8,1013.4L2045.6,1013.5L2046.4,1016.9L2047.2,1015.8L2048.0,1015.6L2048.8,1012.8L2049.6,1006.2L2050.4,1014.7L2051.2,1015.9L2052.0,1016.9L2052.8,1014.4L2053.6,1015.1L2054.4,1019.6L2055.2,1017.6L2056.0,1016.4L2056.8,1016.9L2057.6,1018.2L2058.4,1017.4L2059.2,1019.6L2060.0,1022.8L2060.8,1014.7L2061.6,1024.8L2062.4,1022.5L2063.2,1022.2L2064.0,1018.1L2064.8,1018.5L2065.6,1022.1L2066.4,1021.2L2067.2,1019.7L2068.0,1019.7L2068.8,1018.6L2069.6,1015.8L2070.4,1013.8L2071.2,1015.1L2072.0,1014.0L2072.8,1014.3L2073.6,1014.2L2074.4,1015.8L2075.2,1018.1L2076.0,1019.2L2076.8,1019.1L2077.6,1016.5L2078.4,1016.8L2079.2,1017.5L2080.0,1016.3L2080.8,1018.5L2081.6,1009.7L2082.4,1019.0L2083.2,1018.2L2084.0,1018.7L2084.8,1018.3L2085.6,1020.3L2086.4,1017.7L2087.2,1017.7L2088.0,1022.7L2088.8,1018.2L2089.6,1018.9L2090.4,1016.8L2091.2,1012.4L2092.0,1014.1L2092.8,1015.9L2093.6,1012.2L2094.4,1014.5L2095.2,1009.9L2096.0,1011.6L2096.8,1007.9L2097.6,1003.1L2098.4,1004.4L2099.2,1001.7L2100.0,999.6L2100.8,998.9L2101.6,1000.9L2102.4,1000.7L2103.2,1001.0L2104.0,1003.6L2104.8,1003.5L2105.6,1002.3L2106.4,1002.7L2107.2,1006.3L2108.0,1007.1L2108.8,1002.8L2109.6,1002.1L2110.4,1006.0L2111.2,1006.2L2112.0,1006.3L2112.8,1006.8L2113.6,1002.8L2114.4,1004.3L2115.2,1002.4L2116.0,998.4L2116.8,1000.5L2117.6,999.2L2118.4,1000.5L2119.2,998.3L2120.0,1003.1L2120.8,1001.1L2121.6,1000.0L2122.4,1003.6L2123.2,1003.5L2124.0,1004.9L2124.8,1008.4L2125.6,1009.8L2126.4,1010.0L2127.2,1009.7L2128.0,1012.4L2128.8,1009.3L2129.6,1011.0L2130.4,1011.8L2131.2,1011.9L2132.0,1013.9L2132.8,1014.9L2133.6,1016.0L2134.4,1018.2L2135.2,1017.0L2136.0,1012.4L2136.8,1008.1L2137.6,1001.7L2138.4,1000.3L2139.2,1001.0L2140.0,995.6L2140.8,995.4L2141.6,993.1L2142.4,989.7L2143.2,990.4L2144.0,987.4L2144.8,987.2L2145.6,982.0L2146.4,977.8L2147.2,979.7L2148.0,977.5L2148.8,974.4L2149.6,979.1L2150.4,967.9L2151.2,979.0L2152.0,977.0L2152.8,981.5L2153.6,979.5L2154.4,981.4L2155.2,980.7L2156.0,979.9L2156.8,979.0L2157.6,977.4L2158.4,975.0L2159.2,972.0L2160.0,974.5L2160.8,972.5L2161.6,970.0L2162.4,972.3L2163.2,970.4L2164.0,967.0L2164.8,971.7L2165.6,972.0L2166.4,978.9L2167.2,985.0L2168.0,988.7L2168.8,993.4L2169.6,993.4L2170.4,995.8L2171.2,998.8L2172.0,997.6L2172.8,995.8L2173.6,994.8L2174.4,999.8L2175.2,997.2L2176.0,998.7L2176.8,998.1L2177.6,995.4L2178.4,991.0L2179.2,991.8L2180.0,994.8L2180.8,991.4L2181.6,994.7L2182.4,994.4L2183.2,991.0L2184.0,988.3L2184.8,991.4L2185.6,993.3L2186.4,992.1L2187.2,995.7L2188.0,995.5L2188.8,1001.2L2189.6,1002.9L2190.4,1005.0L2191.2,1009.3L2192.0,1009.2L2192.8,1004.9L2193.6,1003.9L2194.4,1010.0L2195.2,1013.6L2196.0,1013.4L2196.8,1014.2L2197.6,1014.6L2198.4,1015.9L2199.2,1017.0L2200.0,1012.4L2200.8,1015.1L2201.6,1013.1L2202.4,1012.8L2203.2,1015.9L2204.0,1013.4L2204.8,1012.2L2205.6,1012.7L2206.4,1009.5L2207.2,1011.0L2208.0,1012.3L2208.8,1011.8L2209.6,1009.1L2210.4,1006.4L2211.2,1007.4L2212.0,1011.9L2212.8,1011.3L2213.6,1010.1L2214.4,1006.1L2215.2,1007.7L2216.0,1009.9L2216.8,1009.1L2217.6,1007.2L2218.4,1006.8L2219.2,1003.2L2220.0,999.6L2220.8,1006.9L2221.6,1002.9L2222.4,1004.3L2223.2,1002.3L2224.0,1005.4L2224.8,1000.8L2225.6,999.7L2226.4,998.8L2227.2,999.8L2228.0,999.4L2228.8,994.8L2229.6,997.5L2230.4,995.9L2231.2,999.0L2232.0,998.8L2232.8,996.7L2233.6,998.6L2234.4,996.5L2235.2,996.4L2236.0,997.9L2236.8,996.3L2237.6,996.3L2238.4,995.6L2239.2,993.7L2240.0,994.0L2240.8,990.1L2241.6,991.0L2242.4,988.9L2243.2,992.3L2244.0,991.7L2244.8,991.5L2245.6,992.7L2246.4,992.1L2247.2,991.7L2248.0,993.4L2248.8,993.0L2249.6,991.3L2250.4,991.9L2251.2,997.5L2252.0,993.1L2252.8,987.5L2253.6,983.1L2254.4,978.1L2255.2,972.3L2256.0,971.4L2256.8,969.7L2257.6,968.8L2258.4,970.6L2259.2,971.2L2260.0,969.6L2260.8,973.9L2261.6,973.5L2262.4,968.7L2263.2,964.2L2264.0,961.0L2264.8,957.8L2265.6,961.4L2266.4,969.6L2267.2,971.0L2268.0,979.4L2268.8,980.3L2269.6,975.8L2270.4,967.6L2271.2,958.8L2272.0,959.4L2272.8,955.9L2273.6,966.6L2274.4,971.7L2275.2,977.4L2276.0,978.0L2276.8,981.6L2277.6,986.4L2278.4,984.1L2279.2,983.9L2280.0,980.7L2280.8,981.1L2281.6,980.8L2282.4,980.0L2283.2,981.5L2284.0,979.9L2284.8,979.0L2285.6,974.4L2286.4,979.9L2286.4,990.6L2285.6,990.5L2284.8,991.2L2284.0,989.9L2283.2,992.5L2282.4,1001.1L2281.6,991.9L2280.8,989.7L2280.0,991.6L2279.2,994.0L2278.4,996.7L2277.6,998.1L2276.8,995.6L2276.0,992.8L2275.2,999.0L2274.4,986.2L2273.6,984.0L2272.8,977.4L2272.0,971.8L2271.2,980.4L2270.4,989.0L2269.6,1000.9L2268.8,995.0L2268.0,990.9L2267.2,986.5L2266.4,982.1L2265.6,975.6L2264.8,974.6L2264.0,971.6L2263.2,978.9L2262.4,984.0L2261.6,986.4L2260.8,982.4L2260.0,983.5L2259.2,982.2L2258.4,980.8L2257.6,981.5L2256.8,979.3L2256.0,985.4L2255.2,989.4L2254.4,992.3L2253.6,999.3L2252.8,999.4L2252.0,1005.2L2251.2,1006.6L2250.4,1004.5L2249.6,1000.3L2248.8,1000.1L2248.0,1001.7L2247.2,1004.8L2246.4,1002.9L2245.6,1005.8L2244.8,1001.6L2244.0,1001.6L2243.2,1002.0L2242.4,1001.6L2241.6,999.6L2240.8,1002.1L2240.0,1004.0L2239.2,1003.1L2238.4,1005.3L2237.6,1009.6L2236.8,1006.3L2236.0,1017.4L2235.2,1007.5L2234.4,1006.4L2233.6,1006.5L2232.8,1017.9L2232.0,1011.4L2231.2,1007.5L2230.4,1007.7L2229.6,1010.8L2228.8,1006.5L2228.0,1010.2L2227.2,1008.7L2226.4,1007.0L2225.6,1010.9L2224.8,1012.7L2224.0,1015.5L2223.2,1014.9L2222.4,1016.0L2221.6,1013.8L2220.8,1016.1L2220.0,1015.9L2219.2,1014.9L2218.4,1014.3L2217.6,1017.2L2216.8,1022.9L2216.0,1018.4L2215.2,1020.2L2214.4,1020.7L2213.6,1020.9L2212.8,1021.5L2212.0,1021.2L2211.2,1018.9L2210.4,1019.5L2209.6,1020.5L2208.8,1022.4L2208.0,1023.1L2207.2,1019.5L2206.4,1022.1L2205.6,1026.8L2204.8,1025.3L2204.0,1025.2L2203.2,1026.3L2202.4,1023.2L2201.6,1024.7L2200.8,1026.1L2200.0,1034.5L2199.2,1024.1L2198.4,1028.1L2197.6,1024.5L2196.8,1025.4L2196.0,1025.0L2195.2,1024.2L2194.4,1020.3L2193.6,1018.6L2192.8,1019.3L2192.0,1017.3L2191.2,1021.3L2190.4,1018.5L2189.6,1015.7L2188.8,1011.8L2188.0,1010.2L2187.2,1007.6L2186.4,1007.0L2185.6,1005.1L2184.8,1001.8L2184.0,1001.5L2183.2,1003.5L2182.4,1006.5L2181.6,1007.2L2180.8,1003.4L2180.0,1004.8L2179.2,1006.2L2178.4,1004.2L2177.6,1004.6L2176.8,1010.2L2176.0,1005.9L2175.2,1010.2L2174.4,1008.4L2173.6,1009.0L2172.8,1004.9L2172.0,1006.8L2171.2,1006.4L2170.4,1009.1L2169.6,1004.0L2168.8,1006.1L2168.0,1003.5L2167.2,999.9L2166.4,996.0L2165.6,990.0L2164.8,982.2L2164.0,981.1L2163.2,982.8L2162.4,990.6L2161.6,983.0L2160.8,986.7L2160.0,984.3L2159.2,987.0L2158.4,986.6L2157.6,988.7L2156.8,990.7L2156.0,990.6L2155.2,991.7L2154.4,992.9L2153.6,991.8L2152.8,990.1L2152.0,990.3L2151.2,988.0L2150.4,987.5L2149.6,990.4L2148.8,989.5L2148.0,989.1L2147.2,991.1L2146.4,991.0L2145.6,996.6L2144.8,999.4L2144.0,1001.4L2143.2,1003.7L2142.4,1002.7L2141.6,1007.5L2140.8,1009.4L2140.0,1015.2L2139.2,1013.9L2138.4,1014.3L2137.6,1017.0L2136.8,1021.4L2136.0,1034.1L2135.2,1027.8L2134.4,1029.4L2133.6,1026.5L2132.8,1026.7L2132.0,1026.8L2131.2,1022.8L2130.4,1020.9L2129.6,1024.3L2128.8,1021.4L2128.0,1027.1L2127.2,1021.0L2126.4,1018.6L2125.6,1026.8L2124.8,1018.7L2124.0,1017.0L2123.2,1012.5L2122.4,1011.1L2121.6,1011.4L2120.8,1009.7L2120.0,1013.4L2119.2,1010.2L2118.4,1012.1L2117.6,1010.7L2116.8,1012.0L2116.0,1009.5L2115.2,1014.5L2114.4,1015.3L2113.6,1015.7L2112.8,1017.0L2112.0,1017.1L2111.2,1017.5L2110.4,1014.2L2109.6,1015.7L2108.8,1016.0L2108.0,1018.3L2107.2,1016.1L2106.4,1014.9L2105.6,1015.1L2104.8,1015.4L2104.0,1013.3L2103.2,1012.9L2102.4,1013.2L2101.6,1014.7L2100.8,1010.1L2100.0,1012.8L2099.2,1011.8L2098.4,1016.5L2097.6,1015.1L2096.8,1018.4L2096.0,1021.0L2095.2,1030.7L2094.4,1024.2L2093.6,1022.7L2092.8,1025.7L2092.0,1026.1L2091.2,1023.1L2090.4,1025.7L2089.6,1029.6L2088.8,1029.6L2088.0,1033.6L2087.2,1038.2L2086.4,1029.7L2085.6,1028.6L2084.8,1031.0L2084.0,1029.7L2083.2,1028.2L2082.4,1027.4L2081.6,1029.0L2080.8,1026.7L2080.0,1028.2L2079.2,1027.1L2078.4,1028.4L2077.6,1030.1L2076.8,1030.7L2076.0,1027.6L2075.2,1027.9L2074.4,1027.0L2073.6,1026.9L2072.8,1024.2L2072.0,1025.9L2071.2,1024.8L2070.4,1024.9L2069.6,1027.6L2068.8,1027.0L2068.0,1031.5L2067.2,1032.9L2066.4,1032.9L2065.6,1030.2L2064.8,1032.3L2064.0,1031.8L2063.2,1032.8L2062.4,1033.8L2061.6,1043.9L2060.8,1033.1L2060.0,1033.1L2059.2,1031.9L2058.4,1027.3L2057.6,1027.4L2056.8,1028.8L2056.0,1029.1L2055.2,1029.9L2054.4,1027.6L2053.6,1028.1L2052.8,1025.7L2052.0,1027.7L2051.2,1027.9L2050.4,1023.2L2049.6,1023.2L2048.8,1025.0L2048.0,1024.5L2047.2,1026.6L2046.4,1027.6L2045.6,1034.4L2044.8,1031.8L2044.0,1022.9L2043.2,1022.5L2042.4,1025.3L2041.6,1021.5L2040.8,1023.4L2040.0,1020.6L2039.2,1019.3L2038.4,1022.0L2037.6,1020.2L2036.8,1023.1L2036.0,1030.3L2035.2,1021.8L2034.4,1021.9L2033.6,1022.2L2032.8,1019.6L2032.0,1022.3L2031.2,1022.0L2030.4,1021.9L2029.6,1019.4L2028.8,1025.7L2028.0,1019.7L2027.2,1019.5L2026.4,1018.9L2025.6,1017.7L2024.8,1018.0L2024.0,1022.5L2023.2,1021.6L2022.4,1020.9L2021.6,1020.7L2020.8,1019.8L2020.0,1022.6L2019.2,1023.4L2018.4,1019.6L2017.6,1021.4L2016.8,1019.9L2016.0,1021.9L2015.2,1021.4L2014.4,1019.7L2013.6,1023.5L2012.8,1024.8L2012.0,1022.4L2011.2,1023.4L2010.4,1026.2L2009.6,1025.8L2008.8,1024.8L2008.0,1026.6L2007.2,1025.6L2006.4,1025.9L2005.6,1022.4L2004.8,1020.5L2004.0,1022.8L2003.2,1023.7L2002.4,1024.8L2001.6,1024.7L2000.8,1025.6L2000.0,1030.3L1999.2,1025.0L1998.4,1025.4L1997.6,1030.3L1996.8,1027.6L1996.0,1025.1L1995.2,1026.4L1994.4,1025.6L1993.6,1025.8L1992.8,1026.8L1992.0,1033.2L1991.2,1028.2L1990.4,1026.6L1989.6,1027.8L1988.8,1028.6L1988.0,1026.7L1987.2,1023.3L1986.4,1022.2L1985.6,1023.6L1984.8,1018.4L1984.0,1018.8L1983.2,1016.8L1982.4,1016.8L1981.6,1016.3L1980.8,1017.0L1980.0,1016.8L1979.2,1021.2L1978.4,1019.0L1977.6,1019.6L1976.8,1021.5L1976.0,1019.2L1975.2,1016.1L1974.4,1015.5L1973.6,1008.9L1972.8,1009.8L1972.0,1013.8L1971.2,1016.2L1970.4,1020.5L1969.6,1020.2L1968.8,1024.3L1968.0,1027.7L1967.2,1029.5L1966.4,1024.1L1965.6,1023.1L1964.8,1021.9L1964.0,1018.8L1963.2,1016.3L1962.4,1015.1L1961.6,1016.9L1960.8,1012.6L1960.0,1009.6L1959.2,1003.8L1958.4,1001.8L1957.6,999.0L1956.8,1002.1L1956.0,1004.6L1955.2,1002.8L1954.4,1005.2L1953.6,1009.4L1952.8,1009.5L1952.0,1013.9L1951.2,1010.7L1950.4,1012.0L1949.6,1013.6L1948.8,1022.7L1948.0,1014.8L1947.2,1012.2L1946.4,1013.4L1945.6,1013.5L1944.8,1017.8L1944.0,1019.2L1943.2,1018.6L1942.4,1020.0L1941.6,1020.0L1940.8,1022.3L1940.0,1023.9L1939.2,1026.6L1938.4,1022.9L1937.6,1020.7L1936.8,1015.4L1936.0,1012.1L1935.2,1009.0L1934.4,1003.4L1933.6,997.8L1932.8,991.5L1932.0,996.2L1931.2,998.0L1930.4,1000.1L1929.6,1004.6L1928.8,1005.5L1928.0,1009.2L1927.2,1012.5L1926.4,1015.3L1925.6,1018.1L1924.8,1021.1L1924.0,1022.5L1923.2,1021.5L1922.4,1021.4L1921.6,1023.5L1920.8,1023.3L1920.0,1025.1L1919.2,1025.7L1918.4,1026.6L1917.6,1027.6L1916.8,1028.9L1916.0,1029.6L1915.2,1028.4L1914.4,1030.2L1913.6,1029.6L1912.8,1028.5L1912.0,1029.0L1911.2,1024.3L1910.4,1027.6L1909.6,1023.7L1908.8,1025.7Z" fill="#0000ff" stroke="#0000ff" stroke-width="0.6"/>
<rect x="1907.5" y="834.7" width="381.3" height="233.3" fill="none" stroke="#2b2b2b" stroke-width="2.4"/>
<path d="M1983.8,1068v-15.5M1983.8,834.7v15.5M2060,1068v-15.5M2060,834.7v15.5M2136.3,1068v-15.5M2136.3,834.7v15.5M2212.5,1068v-15.5M2212.5,834.7v15.5M1907.5,951.4h16M2288.8,951.4h-16" stroke="#2b2b2b" stroke-width="2"/>
<text x="1913.3" y="1121.6" font-size="42" text-anchor="middle">0</text>
<text x="1989.6" y="1121.6" font-size="42" text-anchor="middle">20</text>
<text x="2065.8" y="1121.6" font-size="42" text-anchor="middle">40</text>
<text x="2142.1" y="1121.6" font-size="42" text-anchor="middle">60</text>
<text x="2218.3" y="1121.6" font-size="42" text-anchor="middle">80</text>
<text x="2294.6" y="1121.6" font-size="42" text-anchor="middle">100</text>
<text x="1890.2" y="847.3" font-size="42" text-anchor="end">18</text>
<text x="1890.2" y="964" font-size="42" text-anchor="end">12</text>
<text x="1890.2" y="1080.6" font-size="42" text-anchor="end">6</text>
<text x="1999.6" y="1187.8" font-size="52">Time (ns)</text>
<g transform="translate(1812.2,1012.8) rotate(-90)"><text x="0" y="0" font-size="50" font-style="italic">R</text><text x="29.5" y="17.5" font-size="28.5">g</text><text x="59.5" y="0" font-size="50">(Å)</text></g>
<path d="M321.7,1995v-16.5M321.7,1535.2v16.5M522.4,1995v-16.5M522.4,1535.2v16.5M723,1995v-16.5M723,1535.2v16.5M923.7,1995v-16.5M923.7,1535.2v16.5" stroke="#2b2b2b" stroke-width="2"/>
<path d="M335.9,1995L335.9,1993.3L346.1,1993.3L346.1,1990.4L356.2,1990.4L356.2,1987.5L366.4,1987.5L366.4,1983.1L376.5,1983.1L376.5,1962L386.6,1962L386.6,1931.8L396.8,1931.8L396.8,1912.7L406.4,1912.7L406.4,1898.2L416.5,1898.2L416.5,1879.7L427.2,1879.7L427.2,1862.9L437.4,1862.9L437.4,1851.9L446.9,1851.9L446.9,1836.2L456.8,1836.2L456.8,1828.1L467.2,1828.1L467.2,1817.4L477.3,1817.4L477.3,1819.4L487.5,1819.4L487.5,1832.4L497.3,1832.4L497.3,1844.9L506.9,1844.9L506.9,1869.2L517,1869.2L517,1879.7L527.2,1879.7L527.2,1888.9L537.9,1888.9L537.9,1900L548,1900L548,1915L557.6,1915L557.6,1924.3L567.8,1924.3L567.8,1938.2L577.9,1938.2L577.9,1946.3L588,1946.3L588,1949.8L598.2,1949.8L598.2,1957L608.3,1957L608.3,1963.7L618.5,1963.7L618.5,1967.8L628.6,1967.8L628.6,1970.1L638.7,1970.1L638.7,1971.5L648.9,1971.5L648.9,1972.4L659,1972.4L659,1970.7L667.7,1970.7L667.7,1975.9L677.9,1975.9L677.9,1980.2L688,1980.2L688,1981.7L698.2,1981.7L698.2,1984L708.3,1984L708.3,1984.6L718.4,1984.6L718.4,1985.1L728.6,1985.1L728.6,1984L738.7,1984L738.7,1984.6L748.9,1984.6L748.9,1986L759,1986L759,1986.9L770,1986.9L770,1985.5L780,1985.5L780,1987.5L790,1987.5L790,1988L800,1988L800,1988L810,1988L810,1988.5L820,1988.5L820,1988.5L830,1988.5L830,1988.5L840,1988.5L840,1989L850,1989L850,1990L860,1990L860,1991.5L870,1991.5L870,1992.5L880,1992.5L880,1993L900,1993L900,1993.5L950,1993.5L950,1993.8L1000,1993.8L1000,1994L1040,1994L1040,1994.2L1070,1994.2L1070,1995Z" fill="#ff0000"/>
<rect x="121" y="1535.2" width="1003.4" height="459.8" fill="none" stroke="#2b2b2b" stroke-width="2.6"/>
<text x="129.5" y="2053.5" font-size="61" text-anchor="middle" textLength="28.5" lengthAdjust="spacingAndGlyphs">6</text>
<text x="330.2" y="2053.5" font-size="61" text-anchor="middle" textLength="28.5" lengthAdjust="spacingAndGlyphs">8</text>
<text x="530.9" y="2053.5" font-size="61" text-anchor="middle" textLength="57" lengthAdjust="spacingAndGlyphs">10</text>
<text x="731.5" y="2053.5" font-size="61" text-anchor="middle" textLength="57" lengthAdjust="spacingAndGlyphs">12</text>
<text x="932.2" y="2053.5" font-size="61" text-anchor="middle" textLength="57" lengthAdjust="spacingAndGlyphs">14</text>
<text x="1132.9" y="2053.5" font-size="61" text-anchor="middle" textLength="57" lengthAdjust="spacingAndGlyphs">16</text>
<text x="577.8" y="2156.5" font-size="65" font-style="italic">R</text>
<text x="614.9" y="2178" font-size="38" textLength="20.5" lengthAdjust="spacingAndGlyphs">g</text>
<text x="650.6" y="2156.5" font-size="65" textLength="86.2" lengthAdjust="spacingAndGlyphs">(Å)</text>
<text transform="translate(62,1993.1) rotate(-90)" font-size="63.7">Normalized Counts</text>
<text x="154.9" y="1597.5" font-size="40.5" textLength="210.1" lengthAdjust="spacingAndGlyphs">poly(MeGE)</text>
<text x="155" y="1647.9" font-size="40.5" textLength="93.6" lengthAdjust="spacingAndGlyphs">323K</text>
<rect x="685.3" y="1572.9" width="380.5" height="233.3" fill="#fff" stroke="none"/>
<path d="M686.6,1720.4L687.4,1721.7L688.2,1723.3L689.0,1728.6L689.8,1730.0L690.6,1730.7L691.4,1728.9L692.2,1721.2L693.0,1721.0L693.8,1712.9L694.6,1710.4L695.4,1710.8L696.2,1713.6L697.0,1717.8L697.8,1723.8L698.6,1722.8L699.4,1723.5L700.2,1731.9L701.0,1727.1L701.8,1726.5L702.6,1725.9L703.4,1721.9L704.2,1717.2L705.0,1718.8L705.8,1715.1L706.6,1719.0L707.4,1720.0L708.2,1718.6L709.0,1725.1L709.8,1727.4L710.6,1719.7L711.4,1712.5L712.2,1706.6L713.0,1702.5L713.8,1698.7L714.6,1700.5L715.4,1701.4L716.2,1708.8L717.0,1710.8L717.8,1708.2L718.6,1693.9L719.4,1680.8L720.2,1667.7L721.0,1651.9L721.8,1639.4L722.6,1632.0L723.4,1630.4L724.2,1634.9L725.0,1654.5L725.8,1658.0L726.6,1657.3L727.4,1661.6L728.2,1658.4L729.0,1653.1L729.8,1646.5L730.6,1634.3L731.4,1638.3L732.2,1641.9L733.0,1651.0L733.8,1664.3L734.6,1668.1L735.4,1673.5L736.2,1677.7L737.0,1680.3L737.8,1683.9L738.6,1692.9L739.4,1698.1L740.2,1699.0L741.0,1697.6L741.8,1700.3L742.6,1703.1L743.4,1700.3L744.2,1702.1L745.0,1701.4L745.8,1695.7L746.6,1682.4L747.4,1674.2L748.2,1676.1L749.0,1675.4L749.8,1677.8L750.6,1677.7L751.4,1676.0L752.2,1676.8L753.0,1682.1L753.8,1685.2L754.6,1689.5L755.4,1684.3L756.2,1692.6L757.0,1690.0L757.8,1685.9L758.6,1682.5L759.4,1679.5L760.2,1676.9L761.0,1675.5L761.8,1685.7L762.6,1694.3L763.4,1698.0L764.2,1708.9L765.0,1711.2L765.8,1716.1L766.6,1716.3L767.4,1721.1L768.2,1724.9L769.0,1727.9L769.8,1725.1L770.6,1724.4L771.4,1724.9L772.2,1722.6L773.0,1721.5L773.8,1717.7L774.6,1715.7L775.4,1716.8L776.2,1717.9L777.0,1718.8L777.8,1724.0L778.6,1726.2L779.4,1729.9L780.2,1731.0L781.0,1732.4L781.8,1733.7L782.6,1729.8L783.4,1734.6L784.2,1728.9L785.0,1730.8L785.8,1730.1L786.6,1731.2L787.4,1726.2L788.2,1731.4L789.0,1734.8L789.8,1736.8L790.6,1740.7L791.4,1733.8L792.2,1743.2L793.0,1744.5L793.8,1740.5L794.6,1740.5L795.4,1739.3L796.2,1740.9L797.0,1742.9L797.8,1742.7L798.6,1736.9L799.4,1737.4L800.2,1733.1L801.0,1730.1L801.8,1731.2L802.6,1734.8L803.4,1731.1L804.2,1727.8L805.0,1727.8L805.8,1727.2L806.6,1727.9L807.4,1721.7L808.2,1716.8L809.0,1714.8L809.8,1715.4L810.6,1712.1L811.4,1713.9L812.2,1717.4L813.0,1719.7L813.8,1722.3L814.6,1722.9L815.4,1723.5L816.2,1724.3L817.0,1726.4L817.8,1728.2L818.6,1724.9L819.4,1724.1L820.2,1723.4L821.0,1722.3L821.8,1723.9L822.6,1722.4L823.4,1723.3L824.2,1723.8L825.0,1718.3L825.8,1721.1L826.6,1719.8L827.4,1716.8L828.2,1714.9L829.0,1713.3L829.8,1708.0L830.6,1710.3L831.4,1709.0L832.2,1707.3L833.0,1706.8L833.8,1703.2L834.6,1703.3L835.4,1704.6L836.2,1703.8L837.0,1704.0L837.8,1705.1L838.6,1707.9L839.4,1707.1L840.2,1698.2L841.0,1703.6L841.8,1698.7L842.6,1693.3L843.4,1689.7L844.2,1687.1L845.0,1688.8L845.8,1693.3L846.6,1696.5L847.4,1699.9L848.2,1703.6L849.0,1706.4L849.8,1709.6L850.6,1713.2L851.4,1713.6L852.2,1715.2L853.0,1716.9L853.8,1715.8L854.6,1717.2L855.4,1717.5L856.2,1720.7L857.0,1724.0L857.8,1719.5L858.6,1724.3L859.4,1720.1L860.2,1723.0L861.0,1720.0L861.8,1717.5L862.6,1716.2L863.4,1717.1L864.2,1714.5L865.0,1718.4L865.8,1724.9L866.6,1728.6L867.4,1732.2L868.2,1724.9L869.0,1733.0L869.8,1727.3L870.6,1724.1L871.4,1720.1L872.2,1721.2L873.0,1717.5L873.8,1715.6L874.6,1719.2L875.4,1719.8L876.2,1721.5L877.0,1719.2L877.8,1727.0L878.6,1726.4L879.4,1726.2L880.2,1729.1L881.0,1728.1L881.8,1723.9L882.6,1722.5L883.4,1716.3L884.2,1714.6L885.0,1705.4L885.8,1709.4L886.6,1707.6L887.4,1706.4L888.2,1700.5L889.0,1696.6L889.8,1705.8L890.6,1708.4L891.4,1714.4L892.2,1718.4L893.0,1717.6L893.8,1721.7L894.6,1719.9L895.4,1721.0L896.2,1725.2L897.0,1725.9L897.8,1731.7L898.6,1732.6L899.4,1729.1L900.2,1729.0L901.0,1728.6L901.8,1727.0L902.6,1728.7L903.4,1725.0L904.2,1727.2L905.0,1724.2L905.8,1720.4L906.6,1723.7L907.4,1721.4L908.2,1718.5L909.0,1720.3L909.8,1717.5L910.6,1715.1L911.4,1716.5L912.2,1713.3L913.0,1710.2L913.8,1711.9L914.6,1708.4L915.4,1709.0L916.2,1708.8L917.0,1708.0L917.8,1710.8L918.6,1712.6L919.4,1718.8L920.2,1716.2L921.0,1726.2L921.8,1725.3L922.6,1726.6L923.4,1727.7L924.2,1728.3L925.0,1733.7L925.8,1734.5L926.6,1735.3L927.4,1735.7L928.2,1741.0L929.0,1738.5L929.8,1741.2L930.6,1741.1L931.4,1737.4L932.2,1736.6L933.0,1737.0L933.8,1733.7L934.6,1726.7L935.4,1734.0L936.2,1732.5L937.0,1735.4L937.8,1735.8L938.6,1741.7L939.4,1743.7L940.2,1742.8L941.0,1747.9L941.8,1740.7L942.6,1743.9L943.4,1739.5L944.2,1737.4L945.0,1734.8L945.8,1734.9L946.6,1733.0L947.4,1734.4L948.2,1735.2L949.0,1732.3L949.8,1733.0L950.6,1737.1L951.4,1736.0L952.2,1736.5L953.0,1737.6L953.8,1737.4L954.6,1734.1L955.4,1738.1L956.2,1734.6L957.0,1731.8L957.8,1734.4L958.6,1730.5L959.4,1731.1L960.2,1728.8L961.0,1733.1L961.8,1723.7L962.6,1730.0L963.4,1730.1L964.2,1722.8L965.0,1731.9L965.8,1735.6L966.6,1722.9L967.4,1736.6L968.2,1735.7L969.0,1743.2L969.8,1743.7L970.6,1743.9L971.4,1746.7L972.2,1743.9L973.0,1746.7L973.8,1746.0L974.6,1745.9L975.4,1747.9L976.2,1749.9L977.0,1747.8L977.8,1743.8L978.6,1742.6L979.4,1741.4L980.2,1736.0L981.0,1736.2L981.8,1737.1L982.6,1735.2L983.4,1733.1L984.2,1733.3L985.0,1729.4L985.8,1730.1L986.6,1730.1L987.4,1724.7L988.2,1727.5L989.0,1728.0L989.8,1725.3L990.6,1726.1L991.4,1729.6L992.2,1735.6L993.0,1738.7L993.8,1737.3L994.6,1738.5L995.4,1736.5L996.2,1734.8L997.0,1736.4L997.8,1738.9L998.6,1738.7L999.4,1731.3L1000.2,1738.5L1001.0,1738.7L1001.8,1735.7L1002.6,1738.7L1003.4,1738.8L1004.2,1739.5L1005.0,1741.6L1005.8,1737.8L1006.6,1739.0L1007.4,1736.8L1008.2,1736.9L1009.0,1734.7L1009.8,1733.3L1010.6,1732.0L1011.4,1730.9L1012.2,1732.6L1013.0,1731.6L1013.8,1731.4L1014.6,1726.0L1015.4,1730.8L1016.2,1733.8L1017.0,1735.3L1017.8,1733.0L1018.6,1738.6L1019.4,1737.7L1020.2,1737.0L1021.0,1736.0L1021.8,1735.4L1022.6,1731.5L1023.4,1731.8L1024.2,1730.0L1025.0,1730.1L1025.8,1730.9L1026.6,1735.3L1027.4,1735.8L1028.2,1734.9L1029.0,1735.0L1029.8,1738.2L1030.6,1736.1L1031.4,1737.1L1032.2,1736.8L1033.0,1739.1L1033.8,1741.2L1034.6,1741.3L1035.4,1743.9L1036.2,1745.1L1037.0,1742.7L1037.8,1740.5L1038.6,1743.2L1039.4,1744.5L1040.2,1744.4L1041.0,1744.1L1041.8,1744.5L1042.6,1743.0L1043.4,1743.3L1044.2,1741.4L1045.0,1736.8L1045.8,1738.4L1046.6,1737.4L1047.4,1739.7L1048.2,1743.8L1049.0,1744.9L1049.8,1744.1L1050.6,1744.7L1051.4,1744.6L1052.2,1741.7L1053.0,1751.1L1053.8,1749.1L1054.6,1746.6L1055.4,1745.0L1056.2,1740.7L1057.0,1737.2L1057.8,1736.4L1058.6,1733.1L1059.4,1729.5L1060.2,1723.5L1061.0,1722.2L1061.8,1724.2L1062.6,1721.5L1063.4,1720.8L1064.2,1718.1L1064.2,1732.9L1063.4,1733.9L1062.6,1734.0L1061.8,1735.1L1061.0,1736.2L1060.2,1738.4L1059.4,1740.6L1058.6,1748.9L1057.8,1751.6L1057.0,1752.4L1056.2,1755.7L1055.4,1758.9L1054.6,1760.1L1053.8,1761.1L1053.0,1760.5L1052.2,1759.2L1051.4,1757.5L1050.6,1757.7L1049.8,1755.5L1049.0,1757.2L1048.2,1755.5L1047.4,1753.5L1046.6,1751.9L1045.8,1749.7L1045.0,1750.6L1044.2,1752.8L1043.4,1760.1L1042.6,1755.7L1041.8,1756.1L1041.0,1757.7L1040.2,1756.7L1039.4,1756.6L1038.6,1756.0L1037.8,1754.2L1037.0,1753.0L1036.2,1755.6L1035.4,1755.4L1034.6,1752.5L1033.8,1753.3L1033.0,1750.6L1032.2,1758.8L1031.4,1747.6L1030.6,1749.9L1029.8,1748.0L1029.0,1749.7L1028.2,1746.1L1027.4,1744.4L1026.6,1755.6L1025.8,1745.1L1025.0,1743.1L1024.2,1742.8L1023.4,1744.5L1022.6,1743.2L1021.8,1746.6L1021.0,1752.7L1020.2,1753.2L1019.4,1750.0L1018.6,1748.3L1017.8,1758.6L1017.0,1751.2L1016.2,1746.1L1015.4,1741.1L1014.6,1742.1L1013.8,1743.8L1013.0,1743.3L1012.2,1743.5L1011.4,1745.1L1010.6,1746.3L1009.8,1746.4L1009.0,1748.4L1008.2,1746.9L1007.4,1748.3L1006.6,1746.9L1005.8,1747.5L1005.0,1752.9L1004.2,1752.3L1003.4,1749.3L1002.6,1746.9L1001.8,1748.3L1001.0,1750.2L1000.2,1748.1L999.4,1746.0L998.6,1750.3L997.8,1750.3L997.0,1749.4L996.2,1758.1L995.4,1746.9L994.6,1752.5L993.8,1747.5L993.0,1748.6L992.2,1748.2L991.4,1744.5L990.6,1741.2L989.8,1737.0L989.0,1739.3L988.2,1740.0L987.4,1737.8L986.6,1743.0L985.8,1741.9L985.0,1742.6L984.2,1755.2L983.4,1746.7L982.6,1745.6L981.8,1747.3L981.0,1748.0L980.2,1752.6L979.4,1752.8L978.6,1754.6L977.8,1758.6L977.0,1761.8L976.2,1760.9L975.4,1759.0L974.6,1757.7L973.8,1759.9L973.0,1759.9L972.2,1755.5L971.4,1768.0L970.6,1763.2L969.8,1756.0L969.0,1754.6L968.2,1750.7L967.4,1748.8L966.6,1745.3L965.8,1747.8L965.0,1745.2L964.2,1745.1L963.4,1742.8L962.6,1741.3L961.8,1741.5L961.0,1742.9L960.2,1742.2L959.4,1744.9L958.6,1742.5L957.8,1745.8L957.0,1744.6L956.2,1748.9L955.4,1750.0L954.6,1747.5L953.8,1749.0L953.0,1749.6L952.2,1751.5L951.4,1746.7L950.6,1747.3L949.8,1742.4L949.0,1745.5L948.2,1746.5L947.4,1744.2L946.6,1747.3L945.8,1747.5L945.0,1749.3L944.2,1749.7L943.4,1754.4L942.6,1757.1L941.8,1760.4L941.0,1757.5L940.2,1757.8L939.4,1758.9L938.6,1753.9L937.8,1750.6L937.0,1750.1L936.2,1745.9L935.4,1748.6L934.6,1748.0L933.8,1745.0L933.0,1749.3L932.2,1747.5L931.4,1750.8L930.6,1751.6L929.8,1749.9L929.0,1749.6L928.2,1750.6L927.4,1747.4L926.6,1748.4L925.8,1745.2L925.0,1745.5L924.2,1740.9L923.4,1744.4L922.6,1742.5L921.8,1740.8L921.0,1740.5L920.2,1736.2L919.4,1730.7L918.6,1726.3L917.8,1721.2L917.0,1721.1L916.2,1720.8L915.4,1720.4L914.6,1719.4L913.8,1724.2L913.0,1722.5L912.2,1727.4L911.4,1728.5L910.6,1739.3L909.8,1728.9L909.0,1729.2L908.2,1732.7L907.4,1731.1L906.6,1734.9L905.8,1732.8L905.0,1738.0L904.2,1738.4L903.4,1740.2L902.6,1740.6L901.8,1741.5L901.0,1739.6L900.2,1738.4L899.4,1742.9L898.6,1744.9L897.8,1741.6L897.0,1740.5L896.2,1738.6L895.4,1743.0L894.6,1733.4L893.8,1732.0L893.0,1735.9L892.2,1740.5L891.4,1728.7L890.6,1733.1L889.8,1719.2L889.0,1717.5L888.2,1711.4L887.4,1725.9L886.6,1721.2L885.8,1725.4L885.0,1724.1L884.2,1731.4L883.4,1731.9L882.6,1734.3L881.8,1739.3L881.0,1738.6L880.2,1747.3L879.4,1741.5L878.6,1739.7L877.8,1738.9L877.0,1733.2L876.2,1735.7L875.4,1731.7L874.6,1730.4L873.8,1730.0L873.0,1731.6L872.2,1732.0L871.4,1734.0L870.6,1737.8L869.8,1742.0L869.0,1743.2L868.2,1748.3L867.4,1748.5L866.6,1742.6L865.8,1737.3L865.0,1732.4L864.2,1731.2L863.4,1731.5L862.6,1728.5L861.8,1731.2L861.0,1732.1L860.2,1733.9L859.4,1732.8L858.6,1736.7L857.8,1736.7L857.0,1733.0L856.2,1731.7L855.4,1732.7L854.6,1727.0L853.8,1728.3L853.0,1727.6L852.2,1726.1L851.4,1725.1L850.6,1726.7L849.8,1723.7L849.0,1719.6L848.2,1717.6L847.4,1717.3L846.6,1710.4L845.8,1707.6L845.0,1706.1L844.2,1704.1L843.4,1703.6L842.6,1706.8L841.8,1714.9L841.0,1719.2L840.2,1720.6L839.4,1720.6L838.6,1717.4L837.8,1716.9L837.0,1715.4L836.2,1720.3L835.4,1715.9L834.6,1715.8L833.8,1718.2L833.0,1717.1L832.2,1719.0L831.4,1719.6L830.6,1724.5L829.8,1723.5L829.0,1726.1L828.2,1727.2L827.4,1729.4L826.6,1731.3L825.8,1730.7L825.0,1734.6L824.2,1736.0L823.4,1736.5L822.6,1735.5L821.8,1735.8L821.0,1735.2L820.2,1732.4L819.4,1737.0L818.6,1736.7L817.8,1738.7L817.0,1734.8L816.2,1735.2L815.4,1737.7L814.6,1735.2L813.8,1734.7L813.0,1734.8L812.2,1730.3L811.4,1728.3L810.6,1725.6L809.8,1728.4L809.0,1725.9L808.2,1729.2L807.4,1735.2L806.6,1740.8L805.8,1742.9L805.0,1743.0L804.2,1740.5L803.4,1743.1L802.6,1744.8L801.8,1745.5L801.0,1743.0L800.2,1744.5L799.4,1748.2L798.6,1749.9L797.8,1754.0L797.0,1754.4L796.2,1757.6L795.4,1749.4L794.6,1751.6L793.8,1754.1L793.0,1755.1L792.2,1755.1L791.4,1749.6L790.6,1753.9L789.8,1752.0L789.0,1746.6L788.2,1744.6L787.4,1746.5L786.6,1746.5L785.8,1741.1L785.0,1743.5L784.2,1743.7L783.4,1746.3L782.6,1753.9L781.8,1744.7L781.0,1744.7L780.2,1743.1L779.4,1742.0L778.6,1741.1L777.8,1735.6L777.0,1731.9L776.2,1730.9L775.4,1728.2L774.6,1727.0L773.8,1729.6L773.0,1733.7L772.2,1734.8L771.4,1735.5L770.6,1739.7L769.8,1741.4L769.0,1739.0L768.2,1734.2L767.4,1730.9L766.6,1729.2L765.8,1726.9L765.0,1723.4L764.2,1724.7L763.4,1719.9L762.6,1712.7L761.8,1705.8L761.0,1697.6L760.2,1688.9L759.4,1694.1L758.6,1698.7L757.8,1699.4L757.0,1702.7L756.2,1707.3L755.4,1709.5L754.6,1706.7L753.8,1704.6L753.0,1696.5L752.2,1689.5L751.4,1689.2L750.6,1686.9L749.8,1688.5L749.0,1686.4L748.2,1688.8L747.4,1698.5L746.6,1705.6L745.8,1717.0L745.0,1716.6L744.2,1716.2L743.4,1714.5L742.6,1716.8L741.8,1714.5L741.0,1711.6L740.2,1711.4L739.4,1710.0L738.6,1709.0L737.8,1702.7L737.0,1699.8L736.2,1691.2L735.4,1688.5L734.6,1684.6L733.8,1678.0L733.0,1675.1L732.2,1665.9L731.4,1655.9L730.6,1657.2L729.8,1663.3L729.0,1670.3L728.2,1674.1L727.4,1673.4L726.6,1671.5L725.8,1668.6L725.0,1669.9L724.2,1665.9L723.4,1657.2L722.6,1648.5L721.8,1665.0L721.0,1678.8L720.2,1693.2L719.4,1709.0L718.6,1721.0L717.8,1727.2L717.0,1726.3L716.2,1721.0L715.4,1718.5L714.6,1716.5L713.8,1712.2L713.0,1721.1L712.2,1723.1L711.4,1730.5L710.6,1736.7L709.8,1738.2L709.0,1736.3L708.2,1742.2L707.4,1729.5L706.6,1733.2L705.8,1728.3L705.0,1731.3L704.2,1736.9L703.4,1733.9L702.6,1740.6L701.8,1742.7L701.0,1743.8L700.2,1742.7L699.4,1739.5L698.6,1747.0L697.8,1738.2L697.0,1733.7L696.2,1729.1L695.4,1724.7L694.6,1725.5L693.8,1727.3L693.0,1736.9L692.2,1738.1L691.4,1742.2L690.6,1743.0L689.8,1743.2L689.0,1739.6L688.2,1737.0L687.4,1735.2L686.6,1733.2Z" fill="#ff0000" stroke="#ff0000" stroke-width="0.6"/>
<rect x="685.3" y="1572.9" width="380.5" height="233.3" fill="none" stroke="#2b2b2b" stroke-width="2.4"/>
<path d="M761.4,1806.2v-15.5M761.4,1572.9v15.5M837.5,1806.2v-15.5M837.5,1572.9v15.5M913.6,1806.2v-15.5M913.6,1572.9v15.5M989.7,1806.2v-15.5M989.7,1572.9v15.5M685.3,1689.6h16M1065.8,1689.6h-16" stroke="#2b2b2b" stroke-width="2"/>
<text x="691.1" y="1859.8" font-size="42" text-anchor="middle">0</text>
<text x="767.2" y="1859.8" font-size="42" text-anchor="middle">20</text>
<text x="843.3" y="1859.8" font-size="42" text-anchor="middle">40</text>
<text x="919.4" y="1859.8" font-size="42" text-anchor="middle">60</text>
<text x="995.5" y="1859.8" font-size="42" text-anchor="middle">80</text>
<text x="1071.6" y="1859.8" font-size="42" text-anchor="middle">100</text>
<text x="668" y="1585.5" font-size="42" text-anchor="end">18</text>
<text x="668" y="1702.2" font-size="42" text-anchor="end">12</text>
<text x="668" y="1818.8" font-size="42" text-anchor="end">6</text>
<text x="777.4" y="1926" font-size="52">Time (ns)</text>
<g transform="translate(590,1751) rotate(-90)"><text x="0" y="0" font-size="50" font-style="italic">R</text><text x="29.5" y="17.5" font-size="28.5">g</text><text x="59.5" y="0" font-size="50">(Å)</text></g>
<path d="M1543.3,1995v-16.5M1543.3,1535.4v16.5M1744,1995v-16.5M1744,1535.4v16.5M1944.6,1995v-16.5M1944.6,1535.4v16.5M2145.3,1995v-16.5M2145.3,1535.4v16.5" stroke="#2b2b2b" stroke-width="2"/>
<path d="M1537.7,1995L1537.7,1992.7L1547.8,1992.7L1547.8,1984L1558,1984L1558,1965.2L1568.1,1965.2L1568.1,1943.4L1578.2,1943.4L1578.2,1898.5L1588.4,1898.5L1588.4,1823.2L1598.5,1823.2L1598.5,1759.4L1608.7,1759.4L1608.7,1751.6L1618.8,1751.6L1618.8,1766.1L1628.9,1766.1L1628.9,1787.5L1639.1,1787.5L1639.1,1797.1L1649.2,1797.1L1649.2,1786.4L1658.8,1786.4L1658.8,1775.9L1668.9,1775.9L1668.9,1804.9L1679.1,1804.9L1679.1,1830.4L1689.8,1830.4L1689.8,1862.9L1699.9,1862.9L1699.9,1887.8L1710.1,1887.8L1710.1,1912.1L1720.2,1912.1L1720.2,1931.3L1730.4,1931.3L1730.4,1943.4L1740.5,1943.4L1740.5,1958.5L1750.7,1958.5L1750.7,1969.5L1760.8,1969.5L1760.8,1975.9L1770.9,1975.9L1770.9,1979.6L1781.1,1979.6L1781.1,1985.4L1791.2,1985.4L1791.2,1986.9L1801.4,1986.9L1801.4,1988.3L1811.5,1988.3L1811.5,1988.3L1821.6,1988.3L1821.6,1987.5L1831.8,1987.5L1831.8,1989.2L1841.9,1989.2L1841.9,1990.4L1852.1,1990.4L1852.1,1992.1L1862.2,1992.1L1862.2,1992.7L1873.8,1992.7L1873.8,1993.6L1911.5,1993.6L1911.5,1995Z" fill="#0000ff"/>
<rect x="1342.6" y="1535.4" width="1003.4" height="459.6" fill="none" stroke="#2b2b2b" stroke-width="2.6"/>
<text x="1351.1" y="2053.5" font-size="61" text-anchor="middle" textLength="28.5" lengthAdjust="spacingAndGlyphs">6</text>
<text x="1551.8" y="2053.5" font-size="61" text-anchor="middle" textLength="28.5" lengthAdjust="spacingAndGlyphs">8</text>
<text x="1752.5" y="2053.5" font-size="61" text-anchor="middle" textLength="57" lengthAdjust="spacingAndGlyphs">10</text>
<text x="1953.1" y="2053.5" font-size="61" text-anchor="middle" textLength="57" lengthAdjust="spacingAndGlyphs">12</text>
<text x="2153.8" y="2053.5" font-size="61" text-anchor="middle" textLength="57" lengthAdjust="spacingAndGlyphs">14</text>
<text x="2354.5" y="2053.5" font-size="61" text-anchor="middle" textLength="57" lengthAdjust="spacingAndGlyphs">16</text>
<text x="1799.4" y="2156.5" font-size="65" font-style="italic">R</text>
<text x="1836.5" y="2178" font-size="38" textLength="20.5" lengthAdjust="spacingAndGlyphs">g</text>
<text x="1872.2" y="2156.5" font-size="65" textLength="86.2" lengthAdjust="spacingAndGlyphs">(Å)</text>
<text transform="translate(1283.6,1993.3) rotate(-90)" font-size="63.7">Normalized Counts</text>
<text x="1377.6" y="1597.5" font-size="40.5" textLength="191.8" lengthAdjust="spacingAndGlyphs">poly(EtGE)</text>
<text x="1377.7" y="1647.4" font-size="40.5" textLength="93.6" lengthAdjust="spacingAndGlyphs">323K</text>
<rect x="1907.5" y="1573.1" width="381.3" height="233.3" fill="#fff" stroke="none"/>
<path d="M1908.8,1747.4L1909.6,1741.1L1910.4,1746.1L1911.2,1744.3L1912.0,1743.2L1912.8,1745.0L1913.6,1746.5L1914.4,1743.8L1915.2,1746.5L1916.0,1746.5L1916.8,1747.6L1917.6,1749.7L1918.4,1747.5L1919.2,1749.4L1920.0,1749.7L1920.8,1750.9L1921.6,1751.4L1922.4,1749.5L1923.2,1752.7L1924.0,1751.0L1924.8,1751.9L1925.6,1752.6L1926.4,1751.1L1927.2,1752.9L1928.0,1750.3L1928.8,1748.0L1929.6,1753.0L1930.4,1748.5L1931.2,1754.2L1932.0,1743.4L1932.8,1746.8L1933.6,1755.5L1934.4,1752.7L1935.2,1751.5L1936.0,1739.2L1936.8,1738.6L1937.6,1747.9L1938.4,1746.4L1939.2,1747.6L1940.0,1749.9L1940.8,1747.6L1941.6,1747.0L1942.4,1744.8L1943.2,1747.0L1944.0,1748.7L1944.8,1746.4L1945.6,1745.3L1946.4,1745.9L1947.2,1747.9L1948.0,1743.8L1948.8,1742.1L1949.6,1740.6L1950.4,1739.1L1951.2,1735.6L1952.0,1733.1L1952.8,1729.8L1953.6,1727.9L1954.4,1727.3L1955.2,1728.1L1956.0,1730.9L1956.8,1731.7L1957.6,1734.8L1958.4,1734.6L1959.2,1737.1L1960.0,1738.9L1960.8,1738.2L1961.6,1738.6L1962.4,1736.9L1963.2,1740.5L1964.0,1739.4L1964.8,1741.2L1965.6,1743.9L1966.4,1743.9L1967.2,1743.1L1968.0,1743.1L1968.8,1741.9L1969.6,1741.4L1970.4,1740.4L1971.2,1739.7L1972.0,1737.9L1972.8,1735.1L1973.6,1734.8L1974.4,1736.5L1975.2,1737.0L1976.0,1735.5L1976.8,1735.3L1977.6,1734.6L1978.4,1731.8L1979.2,1731.7L1980.0,1733.9L1980.8,1731.8L1981.6,1735.3L1982.4,1731.9L1983.2,1740.4L1984.0,1745.5L1984.8,1746.0L1985.6,1751.5L1986.4,1753.8L1987.2,1749.1L1988.0,1749.2L1988.8,1747.9L1989.6,1749.6L1990.4,1747.6L1991.2,1749.5L1992.0,1750.8L1992.8,1739.8L1993.6,1748.4L1994.4,1748.4L1995.2,1745.2L1996.0,1745.2L1996.8,1748.1L1997.6,1744.5L1998.4,1743.1L1999.2,1743.5L2000.0,1741.2L2000.8,1740.1L2001.6,1738.4L2002.4,1738.8L2003.2,1736.2L2004.0,1735.7L2004.8,1732.8L2005.6,1733.6L2006.4,1730.2L2007.2,1733.8L2008.0,1722.1L2008.8,1732.1L2009.6,1733.8L2010.4,1734.9L2011.2,1733.6L2012.0,1734.7L2012.8,1734.8L2013.6,1737.1L2014.4,1734.9L2015.2,1730.9L2016.0,1732.4L2016.8,1732.0L2017.6,1735.5L2018.4,1733.2L2019.2,1731.4L2020.0,1732.9L2020.8,1727.6L2021.6,1725.6L2022.4,1724.1L2023.2,1721.7L2024.0,1720.9L2024.8,1714.2L2025.6,1718.4L2026.4,1718.2L2027.2,1713.4L2028.0,1723.7L2028.8,1722.3L2029.6,1723.5L2030.4,1724.7L2031.2,1725.9L2032.0,1727.4L2032.8,1727.4L2033.6,1728.0L2034.4,1730.2L2035.2,1728.8L2036.0,1730.8L2036.8,1730.6L2037.6,1727.8L2038.4,1732.5L2039.2,1732.5L2040.0,1734.9L2040.8,1733.4L2041.6,1736.0L2042.4,1739.4L2043.2,1741.9L2044.0,1738.5L2044.8,1739.6L2045.6,1735.4L2046.4,1736.6L2047.2,1735.0L2048.0,1737.7L2048.8,1735.6L2049.6,1732.1L2050.4,1729.8L2051.2,1726.4L2052.0,1719.6L2052.8,1715.8L2053.6,1711.7L2054.4,1706.2L2055.2,1700.8L2056.0,1702.6L2056.8,1703.9L2057.6,1707.4L2058.4,1712.5L2059.2,1716.5L2060.0,1720.4L2060.8,1724.2L2061.6,1724.6L2062.4,1724.9L2063.2,1722.7L2064.0,1721.6L2064.8,1723.1L2065.6,1725.1L2066.4,1721.6L2067.2,1726.6L2068.0,1727.6L2068.8,1726.2L2069.6,1729.4L2070.4,1728.3L2071.2,1731.0L2072.0,1732.9L2072.8,1730.8L2073.6,1730.0L2074.4,1728.9L2075.2,1729.2L2076.0,1730.8L2076.8,1731.4L2077.6,1731.3L2078.4,1732.7L2079.2,1734.4L2080.0,1735.5L2080.8,1735.5L2081.6,1736.5L2082.4,1740.1L2083.2,1739.4L2084.0,1738.8L2084.8,1737.8L2085.6,1735.8L2086.4,1735.3L2087.2,1736.1L2088.0,1732.5L2088.8,1733.3L2089.6,1736.6L2090.4,1733.4L2091.2,1736.9L2092.0,1736.8L2092.8,1735.1L2093.6,1734.4L2094.4,1735.5L2095.2,1733.0L2096.0,1729.8L2096.8,1726.6L2097.6,1726.9L2098.4,1728.9L2099.2,1730.5L2100.0,1729.3L2100.8,1731.9L2101.6,1733.5L2102.4,1733.7L2103.2,1734.6L2104.0,1738.5L2104.8,1738.5L2105.6,1739.3L2106.4,1741.9L2107.2,1739.9L2108.0,1737.7L2108.8,1741.2L2109.6,1734.7L2110.4,1737.3L2111.2,1735.2L2112.0,1734.5L2112.8,1740.0L2113.6,1738.8L2114.4,1739.8L2115.2,1739.6L2116.0,1740.0L2116.8,1736.8L2117.6,1740.9L2118.4,1738.9L2119.2,1744.9L2120.0,1745.1L2120.8,1737.4L2121.6,1743.5L2122.4,1741.8L2123.2,1746.6L2124.0,1746.8L2124.8,1747.2L2125.6,1745.7L2126.4,1745.0L2127.2,1750.2L2128.0,1749.4L2128.8,1747.9L2129.6,1747.9L2130.4,1747.5L2131.2,1749.7L2132.0,1750.7L2132.8,1752.2L2133.6,1754.4L2134.4,1752.3L2135.2,1748.1L2136.0,1750.0L2136.8,1751.6L2137.6,1750.9L2138.4,1748.1L2139.2,1746.8L2140.0,1747.0L2140.8,1745.4L2141.6,1747.2L2142.4,1745.8L2143.2,1749.2L2144.0,1746.9L2144.8,1746.0L2145.6,1747.1L2146.4,1745.0L2147.2,1733.3L2148.0,1744.5L2148.8,1741.7L2149.6,1741.3L2150.4,1743.4L2151.2,1741.0L2152.0,1739.0L2152.8,1741.8L2153.6,1743.4L2154.4,1731.9L2155.2,1742.6L2156.0,1742.1L2156.8,1746.1L2157.6,1748.6L2158.4,1748.0L2159.2,1750.7L2160.0,1751.4L2160.8,1752.7L2161.6,1756.2L2162.4,1756.9L2163.2,1757.9L2164.0,1754.2L2164.8,1749.6L2165.6,1752.4L2166.4,1750.3L2167.2,1750.8L2168.0,1747.0L2168.8,1749.4L2169.6,1746.4L2170.4,1750.5L2171.2,1751.1L2172.0,1748.6L2172.8,1749.4L2173.6,1751.6L2174.4,1746.9L2175.2,1745.6L2176.0,1749.7L2176.8,1750.6L2177.6,1746.6L2178.4,1748.5L2179.2,1747.7L2180.0,1747.9L2180.8,1745.4L2181.6,1747.3L2182.4,1745.4L2183.2,1744.0L2184.0,1745.9L2184.8,1744.1L2185.6,1741.4L2186.4,1743.8L2187.2,1742.2L2188.0,1743.8L2188.8,1745.7L2189.6,1744.6L2190.4,1744.4L2191.2,1747.4L2192.0,1746.7L2192.8,1749.5L2193.6,1748.3L2194.4,1745.2L2195.2,1740.3L2196.0,1741.2L2196.8,1731.5L2197.6,1739.4L2198.4,1733.7L2199.2,1731.2L2200.0,1729.9L2200.8,1729.7L2201.6,1732.2L2202.4,1729.3L2203.2,1729.9L2204.0,1727.8L2204.8,1729.2L2205.6,1730.5L2206.4,1725.4L2207.2,1727.0L2208.0,1725.8L2208.8,1726.1L2209.6,1728.9L2210.4,1726.6L2211.2,1724.8L2212.0,1727.0L2212.8,1727.2L2213.6,1726.6L2214.4,1727.4L2215.2,1730.3L2216.0,1719.0L2216.8,1728.1L2217.6,1731.9L2218.4,1732.5L2219.2,1731.8L2220.0,1732.1L2220.8,1733.3L2221.6,1734.7L2222.4,1735.6L2223.2,1732.7L2224.0,1732.5L2224.8,1726.8L2225.6,1723.4L2226.4,1713.9L2227.2,1712.0L2228.0,1707.7L2228.8,1703.7L2229.6,1698.1L2230.4,1700.6L2231.2,1703.3L2232.0,1712.3L2232.8,1717.3L2233.6,1726.9L2234.4,1737.8L2235.2,1742.1L2236.0,1740.8L2236.8,1740.8L2237.6,1740.5L2238.4,1742.1L2239.2,1740.4L2240.0,1739.3L2240.8,1738.4L2241.6,1741.6L2242.4,1741.9L2243.2,1746.0L2244.0,1746.6L2244.8,1744.2L2245.6,1746.2L2246.4,1746.4L2247.2,1745.6L2248.0,1750.1L2248.8,1750.4L2249.6,1751.9L2250.4,1742.9L2251.2,1745.5L2252.0,1747.8L2252.8,1749.4L2253.6,1748.3L2254.4,1749.4L2255.2,1751.1L2256.0,1749.9L2256.8,1748.0L2257.6,1746.8L2258.4,1747.7L2259.2,1742.4L2260.0,1743.8L2260.8,1743.1L2261.6,1742.0L2262.4,1743.0L2263.2,1742.9L2264.0,1742.6L2264.8,1739.7L2265.6,1739.9L2266.4,1739.7L2267.2,1738.8L2268.0,1738.2L2268.8,1735.6L2269.6,1736.3L2270.4,1739.1L2271.2,1735.5L2272.0,1734.5L2272.8,1734.9L2273.6,1729.5L2274.4,1728.5L2275.2,1726.7L2276.0,1722.0L2276.8,1722.2L2277.6,1718.1L2278.4,1713.2L2279.2,1710.7L2280.0,1713.1L2280.8,1716.6L2281.6,1722.3L2282.4,1727.0L2283.2,1727.7L2284.0,1732.0L2284.0,1743.5L2283.2,1749.3L2282.4,1738.1L2281.6,1735.2L2280.8,1732.2L2280.0,1729.8L2279.2,1723.3L2278.4,1727.3L2277.6,1729.6L2276.8,1733.9L2276.0,1737.4L2275.2,1743.0L2274.4,1739.1L2273.6,1743.8L2272.8,1744.0L2272.0,1750.1L2271.2,1747.8L2270.4,1747.9L2269.6,1748.3L2268.8,1745.1L2268.0,1755.5L2267.2,1750.4L2266.4,1749.4L2265.6,1747.6L2264.8,1749.9L2264.0,1751.8L2263.2,1750.5L2262.4,1752.2L2261.6,1751.8L2260.8,1752.1L2260.0,1754.5L2259.2,1754.2L2258.4,1756.7L2257.6,1762.6L2256.8,1761.0L2256.0,1758.3L2255.2,1764.3L2254.4,1760.5L2253.6,1759.4L2252.8,1760.3L2252.0,1758.3L2251.2,1757.6L2250.4,1758.6L2249.6,1760.6L2248.8,1758.9L2248.0,1759.2L2247.2,1757.3L2246.4,1760.3L2245.6,1758.5L2244.8,1756.2L2244.0,1758.3L2243.2,1757.1L2242.4,1753.2L2241.6,1752.1L2240.8,1750.0L2240.0,1750.1L2239.2,1750.1L2238.4,1752.3L2237.6,1750.6L2236.8,1751.3L2236.0,1750.9L2235.2,1753.0L2234.4,1759.0L2233.6,1744.7L2232.8,1741.4L2232.0,1730.5L2231.2,1732.4L2230.4,1716.3L2229.6,1716.3L2228.8,1719.9L2228.0,1722.3L2227.2,1729.3L2226.4,1733.6L2225.6,1740.1L2224.8,1744.0L2224.0,1743.6L2223.2,1744.4L2222.4,1747.5L2221.6,1746.6L2220.8,1745.6L2220.0,1742.7L2219.2,1742.6L2218.4,1742.3L2217.6,1739.9L2216.8,1739.8L2216.0,1738.1L2215.2,1740.2L2214.4,1742.0L2213.6,1739.9L2212.8,1736.5L2212.0,1734.9L2211.2,1737.6L2210.4,1739.1L2209.6,1737.2L2208.8,1736.1L2208.0,1735.7L2207.2,1735.6L2206.4,1737.6L2205.6,1738.3L2204.8,1739.6L2204.0,1738.1L2203.2,1738.6L2202.4,1742.5L2201.6,1741.7L2200.8,1741.0L2200.0,1743.8L2199.2,1745.9L2198.4,1745.7L2197.6,1751.2L2196.8,1751.3L2196.0,1754.1L2195.2,1755.3L2194.4,1758.3L2193.6,1759.9L2192.8,1757.0L2192.0,1764.8L2191.2,1756.2L2190.4,1757.0L2189.6,1753.9L2188.8,1755.2L2188.0,1753.7L2187.2,1752.5L2186.4,1754.5L2185.6,1754.2L2184.8,1755.7L2184.0,1758.9L2183.2,1757.1L2182.4,1756.1L2181.6,1759.3L2180.8,1758.4L2180.0,1759.1L2179.2,1759.7L2178.4,1760.2L2177.6,1757.1L2176.8,1760.0L2176.0,1759.9L2175.2,1755.6L2174.4,1758.3L2173.6,1758.5L2172.8,1760.8L2172.0,1761.4L2171.2,1761.8L2170.4,1759.5L2169.6,1759.4L2168.8,1760.1L2168.0,1762.2L2167.2,1763.9L2166.4,1768.6L2165.6,1762.8L2164.8,1771.2L2164.0,1766.0L2163.2,1769.7L2162.4,1767.3L2161.6,1768.1L2160.8,1766.9L2160.0,1762.7L2159.2,1762.1L2158.4,1759.6L2157.6,1758.8L2156.8,1757.4L2156.0,1756.1L2155.2,1751.7L2154.4,1751.2L2153.6,1754.9L2152.8,1754.1L2152.0,1751.5L2151.2,1752.4L2150.4,1754.0L2149.6,1752.4L2148.8,1753.4L2148.0,1753.6L2147.2,1755.0L2146.4,1753.0L2145.6,1757.7L2144.8,1756.3L2144.0,1757.1L2143.2,1760.0L2142.4,1755.9L2141.6,1767.1L2140.8,1755.4L2140.0,1758.5L2139.2,1756.9L2138.4,1766.4L2137.6,1762.1L2136.8,1761.1L2136.0,1759.0L2135.2,1760.9L2134.4,1763.8L2133.6,1765.6L2132.8,1760.6L2132.0,1757.7L2131.2,1760.1L2130.4,1758.2L2129.6,1757.0L2128.8,1760.0L2128.0,1758.7L2127.2,1759.8L2126.4,1754.3L2125.6,1756.0L2124.8,1760.3L2124.0,1757.6L2123.2,1754.2L2122.4,1753.6L2121.6,1755.5L2120.8,1755.1L2120.0,1755.1L2119.2,1754.4L2118.4,1750.9L2117.6,1754.2L2116.8,1755.0L2116.0,1753.5L2115.2,1751.5L2114.4,1750.5L2113.6,1748.4L2112.8,1750.2L2112.0,1746.4L2111.2,1744.6L2110.4,1747.4L2109.6,1748.3L2108.8,1750.1L2108.0,1748.8L2107.2,1749.5L2106.4,1750.7L2105.6,1750.5L2104.8,1749.8L2104.0,1747.7L2103.2,1747.3L2102.4,1745.9L2101.6,1746.5L2100.8,1742.4L2100.0,1743.6L2099.2,1741.4L2098.4,1738.8L2097.6,1740.7L2096.8,1739.2L2096.0,1740.9L2095.2,1742.5L2094.4,1745.5L2093.6,1746.6L2092.8,1746.2L2092.0,1748.9L2091.2,1747.6L2090.4,1745.5L2089.6,1745.3L2088.8,1744.6L2088.0,1745.6L2087.2,1746.9L2086.4,1748.1L2085.6,1745.8L2084.8,1750.6L2084.0,1750.8L2083.2,1751.9L2082.4,1750.1L2081.6,1746.9L2080.8,1748.2L2080.0,1748.6L2079.2,1746.3L2078.4,1744.2L2077.6,1744.0L2076.8,1741.4L2076.0,1742.9L2075.2,1741.9L2074.4,1738.6L2073.6,1738.8L2072.8,1742.6L2072.0,1743.1L2071.2,1738.9L2070.4,1742.5L2069.6,1743.2L2068.8,1741.3L2068.0,1738.5L2067.2,1738.7L2066.4,1733.2L2065.6,1735.5L2064.8,1734.2L2064.0,1735.5L2063.2,1735.7L2062.4,1735.8L2061.6,1734.4L2060.8,1733.3L2060.0,1736.4L2059.2,1729.5L2058.4,1726.6L2057.6,1724.0L2056.8,1723.4L2056.0,1713.6L2055.2,1717.6L2054.4,1720.5L2053.6,1725.5L2052.8,1733.0L2052.0,1737.3L2051.2,1742.7L2050.4,1743.6L2049.6,1745.1L2048.8,1745.9L2048.0,1755.2L2047.2,1750.2L2046.4,1750.0L2045.6,1749.3L2044.8,1751.5L2044.0,1749.9L2043.2,1749.8L2042.4,1751.2L2041.6,1748.6L2040.8,1745.9L2040.0,1750.3L2039.2,1742.4L2038.4,1744.0L2037.6,1741.4L2036.8,1740.0L2036.0,1739.6L2035.2,1741.5L2034.4,1741.4L2033.6,1739.1L2032.8,1739.1L2032.0,1736.2L2031.2,1737.2L2030.4,1736.0L2029.6,1738.6L2028.8,1733.0L2028.0,1733.4L2027.2,1729.5L2026.4,1728.0L2025.6,1727.1L2024.8,1729.2L2024.0,1734.8L2023.2,1737.8L2022.4,1738.5L2021.6,1739.2L2020.8,1741.6L2020.0,1744.6L2019.2,1743.2L2018.4,1745.3L2017.6,1753.8L2016.8,1743.7L2016.0,1746.2L2015.2,1746.0L2014.4,1745.8L2013.6,1745.7L2012.8,1746.4L2012.0,1746.4L2011.2,1751.6L2010.4,1746.6L2009.6,1744.5L2008.8,1741.6L2008.0,1740.8L2007.2,1742.9L2006.4,1744.1L2005.6,1743.5L2004.8,1746.1L2004.0,1746.6L2003.2,1748.0L2002.4,1748.3L2001.6,1749.2L2000.8,1750.7L2000.0,1750.8L1999.2,1754.2L1998.4,1755.7L1997.6,1755.2L1996.8,1757.8L1996.0,1757.2L1995.2,1759.5L1994.4,1760.4L1993.6,1761.9L1992.8,1761.0L1992.0,1761.1L1991.2,1759.4L1990.4,1758.0L1989.6,1758.4L1988.8,1757.9L1988.0,1759.5L1987.2,1760.0L1986.4,1761.2L1985.6,1763.6L1984.8,1758.7L1984.0,1758.1L1983.2,1752.4L1982.4,1752.2L1981.6,1747.3L1980.8,1746.1L1980.0,1745.1L1979.2,1742.3L1978.4,1742.0L1977.6,1744.5L1976.8,1746.9L1976.0,1748.0L1975.2,1747.5L1974.4,1747.1L1973.6,1747.4L1972.8,1746.2L1972.0,1749.1L1971.2,1751.3L1970.4,1752.9L1969.6,1753.6L1968.8,1753.7L1968.0,1754.9L1967.2,1755.6L1966.4,1760.0L1965.6,1754.1L1964.8,1752.6L1964.0,1751.6L1963.2,1751.6L1962.4,1749.1L1961.6,1749.2L1960.8,1748.0L1960.0,1748.9L1959.2,1748.7L1958.4,1748.3L1957.6,1747.0L1956.8,1746.2L1956.0,1740.9L1955.2,1739.5L1954.4,1738.9L1953.6,1739.8L1952.8,1743.6L1952.0,1743.5L1951.2,1747.7L1950.4,1748.8L1949.6,1754.8L1948.8,1753.6L1948.0,1762.1L1947.2,1757.1L1946.4,1753.6L1945.6,1755.3L1944.8,1758.4L1944.0,1759.6L1943.2,1759.9L1942.4,1755.7L1941.6,1756.4L1940.8,1756.6L1940.0,1758.6L1939.2,1757.4L1938.4,1757.1L1937.6,1760.8L1936.8,1759.3L1936.0,1757.0L1935.2,1760.3L1934.4,1763.1L1933.6,1764.2L1932.8,1761.4L1932.0,1761.0L1931.2,1764.3L1930.4,1766.2L1929.6,1761.8L1928.8,1760.8L1928.0,1763.0L1927.2,1764.6L1926.4,1762.6L1925.6,1762.1L1924.8,1764.2L1924.0,1763.4L1923.2,1762.1L1922.4,1760.8L1921.6,1764.5L1920.8,1760.4L1920.0,1761.0L1919.2,1759.7L1918.4,1757.9L1917.6,1758.6L1916.8,1758.0L1916.0,1758.4L1915.2,1756.3L1914.4,1755.2L1913.6,1755.6L1912.8,1754.6L1912.0,1752.7L1911.2,1755.4L1910.4,1758.0L1909.6,1756.9L1908.8,1756.5Z" fill="#0000ff" stroke="#0000ff" stroke-width="0.6"/>
<rect x="1907.5" y="1573.1" width="381.3" height="233.3" fill="none" stroke="#2b2b2b" stroke-width="2.4"/>
<path d="M1983.8,1806.4v-15.5M1983.8,1573.1v15.5M2060,1806.4v-15.5M2060,1573.1v15.5M2136.3,1806.4v-15.5M2136.3,1573.1v15.5M2212.5,1806.4v-15.5M2212.5,1573.1v15.5M1907.5,1689.8h16M2288.8,1689.8h-16" stroke="#2b2b2b" stroke-width="2"/>
<text x="1913.3" y="1860" font-size="42" text-anchor="middle">0</text>
<text x="1989.6" y="1860" font-size="42" text-anchor="middle">20</text>
<text x="2065.8" y="1860" font-size="42" text-anchor="middle">40</text>
<text x="2142.1" y="1860" font-size="42" text-anchor="middle">60</text>
<text x="2218.3" y="1860" font-size="42" text-anchor="middle">80</text>
<text x="2294.6" y="1860" font-size="42" text-anchor="middle">100</text>
<text x="1890.2" y="1585.7" font-size="42" text-anchor="end">18</text>
<text x="1890.2" y="1702.4" font-size="42" text-anchor="end">12</text>
<text x="1890.2" y="1819" font-size="42" text-anchor="end">6</text>
<text x="1999.6" y="1926.2" font-size="52">Time (ns)</text>
<g transform="translate(1812.2,1751.2) rotate(-90)"><text x="0" y="0" font-size="50" font-style="italic">R</text><text x="29.5" y="17.5" font-size="28.5">g</text><text x="59.5" y="0" font-size="50">(Å)</text></g>
<path d="M321.7,2734.2v-16.5M321.7,2275.5v16.5M522.4,2734.2v-16.5M522.4,2275.5v16.5M723,2734.2v-16.5M723,2275.5v16.5M923.7,2734.2v-16.5M923.7,2275.5v16.5" stroke="#2b2b2b" stroke-width="2"/>
<path d="M395.9,2734.2L395.9,2731.3L406.1,2731.3L406.1,2721.2L417.1,2721.2L417.1,2705.2L427.2,2705.2L427.2,2687.8L437.4,2687.8L437.4,2663.2L447.2,2663.2L447.2,2650.2L457.7,2650.2L457.7,2631.9L467.5,2631.9L467.5,2619.7L477.7,2619.7L477.7,2613.9L487.8,2613.9L487.8,2615.4L498.2,2615.4L498.2,2620.3L507.5,2620.3L507.5,2621.2L517.6,2621.2L517.6,2613.4L528.4,2613.4L528.4,2617.4L537.9,2617.4L537.9,2617.4L548.1,2617.4L548.1,2619.2L558.2,2619.2L558.2,2621.2L568.4,2621.2L568.4,2624.1L578.5,2624.1L578.5,2631.9L588.6,2631.9L588.6,2638.6L598.8,2638.6L598.8,2649.3L608.9,2649.3L608.9,2647.3L618.2,2647.3L618.2,2645.2L628.6,2645.2L628.6,2640L638.5,2640L638.5,2640.6L648.9,2640.6L648.9,2645.8L658.8,2645.8L658.8,2661.8L668.9,2661.8L668.9,2667.6L679,2667.6L679,2670.5L689.2,2670.5L689.2,2682.9L699.3,2682.9L699.3,2685.8L709.5,2685.8L709.5,2693.6L719.6,2693.6L719.6,2699.4L730,2699.4L730,2703.8L739.9,2703.8L739.9,2709.6L750.3,2709.6L750.3,2715.4L760.2,2715.4L760.2,2718.8L770.3,2718.8L770.3,2721.2L780.5,2721.2L780.5,2724.6L790.9,2724.6L790.9,2727.8L801,2727.8L801,2729.9L811.2,2729.9L811.2,2731.3L830,2731.3L830,2731.2L840,2731.2L840,2731.7L850,2731.7L850,2732.2L870,2732.2L870,2732.7L900,2732.7L900,2733.2L950,2733.2L950,2733.5L990,2733.5L990,2734.2Z" fill="#ff0000"/>
<rect x="121" y="2275.5" width="1003.4" height="458.7" fill="none" stroke="#2b2b2b" stroke-width="2.6"/>
<text x="129.5" y="2792.7" font-size="61" text-anchor="middle" textLength="28.5" lengthAdjust="spacingAndGlyphs">6</text>
<text x="330.2" y="2792.7" font-size="61" text-anchor="middle" textLength="28.5" lengthAdjust="spacingAndGlyphs">8</text>
<text x="530.9" y="2792.7" font-size="61" text-anchor="middle" textLength="57" lengthAdjust="spacingAndGlyphs">10</text>
<text x="731.5" y="2792.7" font-size="61" text-anchor="middle" textLength="57" lengthAdjust="spacingAndGlyphs">12</text>
<text x="932.2" y="2792.7" font-size="61" text-anchor="middle" textLength="57" lengthAdjust="spacingAndGlyphs">14</text>
<text x="1132.9" y="2792.7" font-size="61" text-anchor="middle" textLength="57" lengthAdjust="spacingAndGlyphs">16</text>
<text x="577.8" y="2895.7" font-size="65" font-style="italic">R</text>
<text x="614.9" y="2917.2" font-size="38" textLength="20.5" lengthAdjust="spacingAndGlyphs">g</text>
<text x="650.6" y="2895.7" font-size="65" textLength="86.2" lengthAdjust="spacingAndGlyphs">(Å)</text>
<text transform="translate(62,2733.4) rotate(-90)" font-size="63.7">Normalized Counts</text>
<text x="154.9" y="2331" font-size="40.5" textLength="210.1" lengthAdjust="spacingAndGlyphs">poly(MeGE)</text>
<text x="155" y="2382" font-size="40.5" textLength="93.6" lengthAdjust="spacingAndGlyphs">343K</text>
<rect x="685.3" y="2313.2" width="380.5" height="233.3" fill="#fff" stroke="none"/>
<path d="M686.6,2461.3L687.4,2461.2L688.2,2455.0L689.0,2457.6L689.8,2454.8L690.6,2453.5L691.4,2455.5L692.2,2440.4L693.0,2447.2L693.8,2450.7L694.6,2449.9L695.4,2445.4L696.2,2444.9L697.0,2450.4L697.8,2451.2L698.6,2459.1L699.4,2461.2L700.2,2460.4L701.0,2466.5L701.8,2468.8L702.6,2467.3L703.4,2471.6L704.2,2472.9L705.0,2477.1L705.8,2475.4L706.6,2471.3L707.4,2478.4L708.2,2469.5L709.0,2474.5L709.8,2473.1L710.6,2467.4L711.4,2453.2L712.2,2461.3L713.0,2456.6L713.8,2448.2L714.6,2446.7L715.4,2445.0L716.2,2435.8L717.0,2434.0L717.8,2433.1L718.6,2428.3L719.4,2424.7L720.2,2426.7L721.0,2419.9L721.8,2421.8L722.6,2424.3L723.4,2424.3L724.2,2420.2L725.0,2418.7L725.8,2414.7L726.6,2407.9L727.4,2407.4L728.2,2406.0L729.0,2408.0L729.8,2418.0L730.6,2420.0L731.4,2419.5L732.2,2422.1L733.0,2421.5L733.8,2424.4L734.6,2424.8L735.4,2422.9L736.2,2428.2L737.0,2427.5L737.8,2426.2L738.6,2421.2L739.4,2414.9L740.2,2412.2L741.0,2410.6L741.8,2414.0L742.6,2417.8L743.4,2421.4L744.2,2425.4L745.0,2423.0L745.8,2430.0L746.6,2431.1L747.4,2428.1L748.2,2435.7L749.0,2447.2L749.8,2447.4L750.6,2450.6L751.4,2444.2L752.2,2439.4L753.0,2432.7L753.8,2430.3L754.6,2423.5L755.4,2421.0L756.2,2420.2L757.0,2422.9L757.8,2429.1L758.6,2434.0L759.4,2440.1L760.2,2441.2L761.0,2438.2L761.8,2430.6L762.6,2424.6L763.4,2424.0L764.2,2428.7L765.0,2427.9L765.8,2428.5L766.6,2435.7L767.4,2434.6L768.2,2447.7L769.0,2445.0L769.8,2441.4L770.6,2452.7L771.4,2442.2L772.2,2449.7L773.0,2450.9L773.8,2448.1L774.6,2447.5L775.4,2453.8L776.2,2452.3L777.0,2458.7L777.8,2463.6L778.6,2458.4L779.4,2458.6L780.2,2453.4L781.0,2450.0L781.8,2452.0L782.6,2454.0L783.4,2455.8L784.2,2460.3L785.0,2462.2L785.8,2462.8L786.6,2463.8L787.4,2467.2L788.2,2459.0L789.0,2471.9L789.8,2471.0L790.6,2471.8L791.4,2474.9L792.2,2474.0L793.0,2473.6L793.8,2473.5L794.6,2474.3L795.4,2472.3L796.2,2466.9L797.0,2457.6L797.8,2457.2L798.6,2452.5L799.4,2451.1L800.2,2452.8L801.0,2457.4L801.8,2458.5L802.6,2465.2L803.4,2466.4L804.2,2477.6L805.0,2473.0L805.8,2482.1L806.6,2475.4L807.4,2473.8L808.2,2469.2L809.0,2468.3L809.8,2470.3L810.6,2460.7L811.4,2456.9L812.2,2446.6L813.0,2447.2L813.8,2438.2L814.6,2430.5L815.4,2423.8L816.2,2419.5L817.0,2419.3L817.8,2422.0L818.6,2426.5L819.4,2427.7L820.2,2412.4L821.0,2430.2L821.8,2432.5L822.6,2431.9L823.4,2432.7L824.2,2434.2L825.0,2441.4L825.8,2436.8L826.6,2443.4L827.4,2438.3L828.2,2443.4L829.0,2440.2L829.8,2446.3L830.6,2450.6L831.4,2458.9L832.2,2454.2L833.0,2455.2L833.8,2459.9L834.6,2458.3L835.4,2462.6L836.2,2463.4L837.0,2469.4L837.8,2465.6L838.6,2465.7L839.4,2472.0L840.2,2472.2L841.0,2475.1L841.8,2471.5L842.6,2471.1L843.4,2471.6L844.2,2470.8L845.0,2467.5L845.8,2463.9L846.6,2460.4L847.4,2460.0L848.2,2456.5L849.0,2447.9L849.8,2451.1L850.6,2453.5L851.4,2450.8L852.2,2455.9L853.0,2452.3L853.8,2453.9L854.6,2457.6L855.4,2456.8L856.2,2453.4L857.0,2456.9L857.8,2460.3L858.6,2459.9L859.4,2451.7L860.2,2465.5L861.0,2470.8L861.8,2466.3L862.6,2472.5L863.4,2470.4L864.2,2469.6L865.0,2473.5L865.8,2468.5L866.6,2475.0L867.4,2472.8L868.2,2477.7L869.0,2475.8L869.8,2474.2L870.6,2475.2L871.4,2474.2L872.2,2477.1L873.0,2473.1L873.8,2471.0L874.6,2468.7L875.4,2470.5L876.2,2466.9L877.0,2465.7L877.8,2459.7L878.6,2454.9L879.4,2453.4L880.2,2456.6L881.0,2457.2L881.8,2455.6L882.6,2464.4L883.4,2466.4L884.2,2465.0L885.0,2468.7L885.8,2476.7L886.6,2467.5L887.4,2468.4L888.2,2466.6L889.0,2455.1L889.8,2455.4L890.6,2453.3L891.4,2448.2L892.2,2446.5L893.0,2445.5L893.8,2452.0L894.6,2448.3L895.4,2450.7L896.2,2446.2L897.0,2439.1L897.8,2453.5L898.6,2455.2L899.4,2455.5L900.2,2464.1L901.0,2463.3L901.8,2461.8L902.6,2458.0L903.4,2452.1L904.2,2452.0L905.0,2446.6L905.8,2442.4L906.6,2445.9L907.4,2442.9L908.2,2441.4L909.0,2439.1L909.8,2428.0L910.6,2442.6L911.4,2452.3L912.2,2452.1L913.0,2461.5L913.8,2459.5L914.6,2462.4L915.4,2459.9L916.2,2471.2L917.0,2466.8L917.8,2464.4L918.6,2464.0L919.4,2459.7L920.2,2452.9L921.0,2451.6L921.8,2449.6L922.6,2449.1L923.4,2447.7L924.2,2453.2L925.0,2448.4L925.8,2452.4L926.6,2452.2L927.4,2452.0L928.2,2458.1L929.0,2456.8L929.8,2457.5L930.6,2461.7L931.4,2458.3L932.2,2453.7L933.0,2449.1L933.8,2442.8L934.6,2439.1L935.4,2445.2L936.2,2450.7L937.0,2449.6L937.8,2451.3L938.6,2449.7L939.4,2456.1L940.2,2462.1L941.0,2464.3L941.8,2464.4L942.6,2469.3L943.4,2468.0L944.2,2464.3L945.0,2464.0L945.8,2461.2L946.6,2453.1L947.4,2452.4L948.2,2442.8L949.0,2439.6L949.8,2442.7L950.6,2441.7L951.4,2431.7L952.2,2446.9L953.0,2448.4L953.8,2456.1L954.6,2461.2L955.4,2462.2L956.2,2466.7L957.0,2472.0L957.8,2469.8L958.6,2473.9L959.4,2469.6L960.2,2472.3L961.0,2470.4L961.8,2468.0L962.6,2470.3L963.4,2468.9L964.2,2464.1L965.0,2464.5L965.8,2459.9L966.6,2458.1L967.4,2454.6L968.2,2457.1L969.0,2444.7L969.8,2448.5L970.6,2443.0L971.4,2444.5L972.2,2439.4L973.0,2435.7L973.8,2430.8L974.6,2425.3L975.4,2418.6L976.2,2414.2L977.0,2414.0L977.8,2407.4L978.6,2409.5L979.4,2416.7L980.2,2425.2L981.0,2434.1L981.8,2436.4L982.6,2429.5L983.4,2439.5L984.2,2443.4L985.0,2445.9L985.8,2449.6L986.6,2450.2L987.4,2447.3L988.2,2452.2L989.0,2456.6L989.8,2443.4L990.6,2438.9L991.4,2437.6L992.2,2432.7L993.0,2427.3L993.8,2432.7L994.6,2432.3L995.4,2432.4L996.2,2430.6L997.0,2431.3L997.8,2430.5L998.6,2437.4L999.4,2436.4L1000.2,2442.0L1001.0,2445.2L1001.8,2446.1L1002.6,2444.4L1003.4,2441.4L1004.2,2441.2L1005.0,2439.0L1005.8,2426.5L1006.6,2432.5L1007.4,2429.5L1008.2,2433.8L1009.0,2428.6L1009.8,2423.4L1010.6,2427.5L1011.4,2431.2L1012.2,2432.4L1013.0,2428.2L1013.8,2420.1L1014.6,2423.9L1015.4,2429.6L1016.2,2429.5L1017.0,2428.4L1017.8,2429.3L1018.6,2431.5L1019.4,2433.3L1020.2,2433.5L1021.0,2429.8L1021.8,2427.6L1022.6,2425.2L1023.4,2416.8L1024.2,2418.3L1025.0,2416.6L1025.8,2417.8L1026.6,2411.0L1027.4,2408.5L1028.2,2406.4L1029.0,2401.4L1029.8,2405.5L1030.6,2413.4L1031.4,2417.7L1032.2,2423.7L1033.0,2427.1L1033.8,2427.9L1034.6,2432.4L1035.4,2437.2L1036.2,2438.2L1037.0,2429.3L1037.8,2440.0L1038.6,2441.8L1039.4,2447.3L1040.2,2445.9L1041.0,2448.0L1041.8,2445.7L1042.6,2442.9L1043.4,2435.5L1044.2,2424.7L1045.0,2422.7L1045.8,2416.5L1046.6,2400.5L1047.4,2407.9L1048.2,2409.8L1049.0,2407.0L1049.8,2405.7L1050.6,2399.0L1051.4,2400.8L1052.2,2399.6L1053.0,2391.1L1053.8,2416.4L1054.6,2421.7L1055.4,2432.6L1056.2,2435.6L1057.0,2446.5L1057.8,2445.3L1058.6,2432.2L1059.4,2437.8L1060.2,2434.9L1061.0,2440.8L1061.8,2434.0L1062.6,2432.3L1063.4,2441.7L1064.2,2444.7L1064.2,2458.1L1063.4,2458.7L1062.6,2457.0L1061.8,2456.1L1061.0,2453.4L1060.2,2455.2L1059.4,2459.0L1058.6,2455.6L1057.8,2459.6L1057.0,2462.8L1056.2,2463.1L1055.4,2458.7L1054.6,2446.6L1053.8,2443.5L1053.0,2432.0L1052.2,2423.7L1051.4,2422.7L1050.6,2425.5L1049.8,2425.3L1049.0,2430.7L1048.2,2440.6L1047.4,2432.5L1046.6,2435.5L1045.8,2443.2L1045.0,2443.2L1044.2,2446.5L1043.4,2458.7L1042.6,2462.9L1041.8,2467.0L1041.0,2466.3L1040.2,2464.3L1039.4,2463.5L1038.6,2458.1L1037.8,2456.9L1037.0,2454.5L1036.2,2456.5L1035.4,2453.0L1034.6,2450.1L1033.8,2448.3L1033.0,2446.8L1032.2,2445.9L1031.4,2436.7L1030.6,2435.3L1029.8,2431.6L1029.0,2423.1L1028.2,2421.3L1027.4,2432.5L1026.6,2432.6L1025.8,2436.7L1025.0,2441.9L1024.2,2439.1L1023.4,2440.9L1022.6,2442.3L1021.8,2451.8L1021.0,2448.4L1020.2,2464.3L1019.4,2445.1L1018.6,2449.3L1017.8,2450.4L1017.0,2443.3L1016.2,2444.2L1015.4,2441.4L1014.6,2440.7L1013.8,2442.8L1013.0,2446.2L1012.2,2461.9L1011.4,2443.7L1010.6,2445.1L1009.8,2451.2L1009.0,2442.8L1008.2,2450.1L1007.4,2447.7L1006.6,2448.8L1005.8,2454.3L1005.0,2454.6L1004.2,2459.6L1003.4,2460.4L1002.6,2461.5L1001.8,2468.1L1001.0,2464.4L1000.2,2466.4L999.4,2459.4L998.6,2457.2L997.8,2453.8L997.0,2450.3L996.2,2450.1L995.4,2451.6L994.6,2450.7L993.8,2457.2L993.0,2452.4L992.2,2456.6L991.4,2457.9L990.6,2464.6L989.8,2467.5L989.0,2472.5L988.2,2468.8L987.4,2468.8L986.6,2468.4L985.8,2469.2L985.0,2467.5L984.2,2467.2L983.4,2481.6L982.6,2463.2L981.8,2455.4L981.0,2456.6L980.2,2448.3L979.4,2439.8L978.6,2436.9L977.8,2424.9L977.0,2436.2L976.2,2436.3L975.4,2438.0L974.6,2442.9L973.8,2462.3L973.0,2453.8L972.2,2459.2L971.4,2461.0L970.6,2464.4L969.8,2468.4L969.0,2469.9L968.2,2472.9L967.4,2474.6L966.6,2475.9L965.8,2478.7L965.0,2484.2L964.2,2486.4L963.4,2487.6L962.6,2487.4L961.8,2488.1L961.0,2489.2L960.2,2489.1L959.4,2490.3L958.6,2486.8L957.8,2484.8L957.0,2499.0L956.2,2487.8L955.4,2485.2L954.6,2480.4L953.8,2473.0L953.0,2473.5L952.2,2465.9L951.4,2468.9L950.6,2459.4L949.8,2457.8L949.0,2466.0L948.2,2469.5L947.4,2473.6L946.6,2477.7L945.8,2481.7L945.0,2483.3L944.2,2490.2L943.4,2501.8L942.6,2485.9L941.8,2492.8L941.0,2484.5L940.2,2482.9L939.4,2477.4L938.6,2468.9L937.8,2467.6L937.0,2469.9L936.2,2467.5L935.4,2465.7L934.6,2465.5L933.8,2461.3L933.0,2464.4L932.2,2474.6L931.4,2475.8L930.6,2474.5L929.8,2480.1L929.0,2471.6L928.2,2474.5L927.4,2468.1L926.6,2468.0L925.8,2469.1L925.0,2466.5L924.2,2466.1L923.4,2464.8L922.6,2468.4L921.8,2469.4L921.0,2470.9L920.2,2476.5L919.4,2484.5L918.6,2482.6L917.8,2486.4L917.0,2492.5L916.2,2487.1L915.4,2488.9L914.6,2487.2L913.8,2479.4L913.0,2480.5L912.2,2474.7L911.4,2469.3L910.6,2465.5L909.8,2460.2L909.0,2460.6L908.2,2459.5L907.4,2461.1L906.6,2464.6L905.8,2459.0L905.0,2466.3L904.2,2478.7L903.4,2472.8L902.6,2479.7L901.8,2477.2L901.0,2478.2L900.2,2478.0L899.4,2476.6L898.6,2473.7L897.8,2472.4L897.0,2464.7L896.2,2467.8L895.4,2465.7L894.6,2469.2L893.8,2468.2L893.0,2463.0L892.2,2463.1L891.4,2472.8L890.6,2471.1L889.8,2477.8L889.0,2478.7L888.2,2488.0L887.4,2487.3L886.6,2484.6L885.8,2500.0L885.0,2490.1L884.2,2485.8L883.4,2485.2L882.6,2483.6L881.8,2475.6L881.0,2473.4L880.2,2475.6L879.4,2473.5L878.6,2473.0L877.8,2478.2L877.0,2486.2L876.2,2485.4L875.4,2485.9L874.6,2487.6L873.8,2493.1L873.0,2494.2L872.2,2496.0L871.4,2494.2L870.6,2494.6L869.8,2493.4L869.0,2492.6L868.2,2492.9L867.4,2491.8L866.6,2491.0L865.8,2491.0L865.0,2489.4L864.2,2487.7L863.4,2492.7L862.6,2484.6L861.8,2483.0L861.0,2486.3L860.2,2483.4L859.4,2484.0L858.6,2481.3L857.8,2478.6L857.0,2473.0L856.2,2474.8L855.4,2473.8L854.6,2474.7L853.8,2470.2L853.0,2473.1L852.2,2471.0L851.4,2470.9L850.6,2467.0L849.8,2469.2L849.0,2470.0L848.2,2472.7L847.4,2479.7L846.6,2479.5L845.8,2482.7L845.0,2485.0L844.2,2482.8L843.4,2489.3L842.6,2490.8L841.8,2486.1L841.0,2491.3L840.2,2487.5L839.4,2502.6L838.6,2481.3L837.8,2482.3L837.0,2487.0L836.2,2479.9L835.4,2481.0L834.6,2475.5L833.8,2475.7L833.0,2476.8L832.2,2469.4L831.4,2475.9L830.6,2472.0L829.8,2464.1L829.0,2461.1L828.2,2462.1L827.4,2462.6L826.6,2459.8L825.8,2459.3L825.0,2456.3L824.2,2458.9L823.4,2451.8L822.6,2452.7L821.8,2453.3L821.0,2446.6L820.2,2446.6L819.4,2446.9L818.6,2441.5L817.8,2441.9L817.0,2440.3L816.2,2441.3L815.4,2446.3L814.6,2456.4L813.8,2462.8L813.0,2467.0L812.2,2470.2L811.4,2477.9L810.6,2483.8L809.8,2488.0L809.0,2483.8L808.2,2483.6L807.4,2491.9L806.6,2495.4L805.8,2501.0L805.0,2495.9L804.2,2497.5L803.4,2487.1L802.6,2481.4L801.8,2481.9L801.0,2476.4L800.2,2474.4L799.4,2471.9L798.6,2476.9L797.8,2480.6L797.0,2481.9L796.2,2488.3L795.4,2489.9L794.6,2491.9L793.8,2493.0L793.0,2492.2L792.2,2496.9L791.4,2491.2L790.6,2489.4L789.8,2498.6L789.0,2486.3L788.2,2486.3L787.4,2488.8L786.6,2483.2L785.8,2485.9L785.0,2477.2L784.2,2480.0L783.4,2474.3L782.6,2481.0L781.8,2465.9L781.0,2470.3L780.2,2473.0L779.4,2473.1L778.6,2475.3L777.8,2478.1L777.0,2475.0L776.2,2471.8L775.4,2472.3L774.6,2463.7L773.8,2462.9L773.0,2476.0L772.2,2471.2L771.4,2472.5L770.6,2472.4L769.8,2467.5L769.0,2463.9L768.2,2462.9L767.4,2452.3L766.6,2452.3L765.8,2449.2L765.0,2447.5L764.2,2451.0L763.4,2445.1L762.6,2447.6L761.8,2453.1L761.0,2456.6L760.2,2457.1L759.4,2461.4L758.6,2460.5L757.8,2447.3L757.0,2445.1L756.2,2440.3L755.4,2448.6L754.6,2446.0L753.8,2448.4L753.0,2457.6L752.2,2458.7L751.4,2465.6L750.6,2469.8L749.8,2470.6L749.0,2463.6L748.2,2457.5L747.4,2449.4L746.6,2452.3L745.8,2448.9L745.0,2448.3L744.2,2442.3L743.4,2439.3L742.6,2438.7L741.8,2433.0L741.0,2434.7L740.2,2436.2L739.4,2441.4L738.6,2446.8L737.8,2449.2L737.0,2451.7L736.2,2448.2L735.4,2444.3L734.6,2445.0L733.8,2445.1L733.0,2450.4L732.2,2442.9L731.4,2439.4L730.6,2439.4L729.8,2431.0L729.0,2426.8L728.2,2424.9L727.4,2428.7L726.6,2429.7L725.8,2429.7L725.0,2435.0L724.2,2434.4L723.4,2437.1L722.6,2439.6L721.8,2438.8L721.0,2443.9L720.2,2445.9L719.4,2447.5L718.6,2448.2L717.8,2453.0L717.0,2455.4L716.2,2461.1L715.4,2461.8L714.6,2468.3L713.8,2471.6L713.0,2479.6L712.2,2477.8L711.4,2487.0L710.6,2488.0L709.8,2490.7L709.0,2494.3L708.2,2492.0L707.4,2494.3L706.6,2489.3L705.8,2491.7L705.0,2495.1L704.2,2507.6L703.4,2508.0L702.6,2494.1L701.8,2488.0L701.0,2494.2L700.2,2481.4L699.4,2483.7L698.6,2478.9L697.8,2471.8L697.0,2465.2L696.2,2466.9L695.4,2466.1L694.6,2466.9L693.8,2468.3L693.0,2474.2L692.2,2470.4L691.4,2474.6L690.6,2473.6L689.8,2472.7L689.0,2477.8L688.2,2475.0L687.4,2480.5L686.6,2481.6Z" fill="#ff0000" stroke="#ff0000" stroke-width="0.6"/>
<rect x="685.3" y="2313.2" width="380.5" height="233.3" fill="none" stroke="#2b2b2b" stroke-width="2.4"/>
<path d="M761.4,2546.5v-15.5M761.4,2313.2v15.5M837.5,2546.5v-15.5M837.5,2313.2v15.5M913.6,2546.5v-15.5M913.6,2313.2v15.5M989.7,2546.5v-15.5M989.7,2313.2v15.5M685.3,2429.8h16M1065.8,2429.8h-16" stroke="#2b2b2b" stroke-width="2"/>
<text x="691.1" y="2600.1" font-size="42" text-anchor="middle">0</text>
<text x="767.2" y="2600.1" font-size="42" text-anchor="middle">20</text>
<text x="843.3" y="2600.1" font-size="42" text-anchor="middle">40</text>
<text x="919.4" y="2600.1" font-size="42" text-anchor="middle">60</text>
<text x="995.5" y="2600.1" font-size="42" text-anchor="middle">80</text>
<text x="1071.6" y="2600.1" font-size="42" text-anchor="middle">100</text>
<text x="668" y="2325.8" font-size="42" text-anchor="end">18</text>
<text x="668" y="2442.4" font-size="42" text-anchor="end">12</text>
<text x="668" y="2559.1" font-size="42" text-anchor="end">6</text>
<text x="777.4" y="2666.3" font-size="52">Time (ns)</text>
<g transform="translate(590,2491.3) rotate(-90)"><text x="0" y="0" font-size="50" font-style="italic">R</text><text x="29.5" y="17.5" font-size="28.5">g</text><text x="59.5" y="0" font-size="50">(Å)</text></g>
<path d="M1543.3,2734.3v-16.5M1543.3,2275.8v16.5M1744,2734.3v-16.5M1744,2275.8v16.5M1944.6,2734.3v-16.5M1944.6,2275.8v16.5M2145.3,2734.3v-16.5M2145.3,2275.8v16.5" stroke="#2b2b2b" stroke-width="2"/>
<path d="M1547.8,2734.3L1547.8,2730L1558,2730L1558,2725.6L1568.1,2725.6L1568.1,2716.9L1578.2,2716.9L1578.2,2700.4L1588.4,2700.4L1588.4,2677.2L1598.5,2677.2L1598.5,2654.6L1608.7,2654.6L1608.7,2639.5L1618.8,2639.5L1618.8,2642.4L1628.9,2642.4L1628.9,2640.7L1639.1,2640.7L1639.1,2630.9L1649.2,2630.9L1649.2,2619.8L1659.4,2619.8L1659.4,2616.9L1669.5,2616.9L1669.5,2614L1679.7,2614L1679.7,2608.2L1689.8,2608.2L1689.8,2596.1L1699.9,2596.1L1699.9,2579.3L1708.6,2579.3L1708.6,2574.1L1718.8,2574.1L1718.8,2581.6L1730.4,2581.6L1730.4,2600.1L1740.5,2600.1L1740.5,2611.7L1750.7,2611.7L1750.7,2629.1L1760.8,2629.1L1760.8,2641.6L1770.9,2641.6L1770.9,2656.1L1781.1,2656.1L1781.1,2664.8L1791.2,2664.8L1791.2,2666.8L1801.4,2666.8L1801.4,2671.4L1811.5,2671.4L1811.5,2678.4L1821.6,2678.4L1821.6,2685.9L1831.8,2685.9L1831.8,2690L1841.9,2690L1841.9,2691.7L1852.1,2691.7L1852.1,2698.7L1862.2,2698.7L1862.2,2703.3L1872.4,2703.3L1872.4,2706.2L1882.5,2706.2L1882.5,2710.2L1892.6,2710.2L1892.6,2712.6L1902.8,2712.6L1902.8,2713.1L1911.5,2713.1L1911.5,2717.8L1921.6,2717.8L1921.6,2720.7L1931.8,2720.7L1931.8,2723.6L1950,2723.6L1950,2724.3L1960,2724.3L1960,2725.3L1970,2725.3L1970,2729.1L1980,2729.1L1980,2729.3L1990,2729.3L1990,2732.3L2000,2732.3L2000,2732.3L2010,2732.3L2010,2732.8L2020,2732.8L2020,2733.5L2040,2733.5L2040,2733.7L2060,2733.7L2060,2734.3Z" fill="#0000ff"/>
<rect x="1342.6" y="2275.8" width="1003.4" height="458.5" fill="none" stroke="#2b2b2b" stroke-width="2.6"/>
<text x="1351.1" y="2792.8" font-size="61" text-anchor="middle" textLength="28.5" lengthAdjust="spacingAndGlyphs">6</text>
<text x="1551.8" y="2792.8" font-size="61" text-anchor="middle" textLength="28.5" lengthAdjust="spacingAndGlyphs">8</text>
<text x="1752.5" y="2792.8" font-size="61" text-anchor="middle" textLength="57" lengthAdjust="spacingAndGlyphs">10</text>
<text x="1953.1" y="2792.8" font-size="61" text-anchor="middle" textLength="57" lengthAdjust="spacingAndGlyphs">12</text>
<text x="2153.8" y="2792.8" font-size="61" text-anchor="middle" textLength="57" lengthAdjust="spacingAndGlyphs">14</text>
<text x="2354.5" y="2792.8" font-size="61" text-anchor="middle" textLength="57" lengthAdjust="spacingAndGlyphs">16</text>
<text x="1799.4" y="2895.8" font-size="65" font-style="italic">R</text>
<text x="1836.5" y="2917.3" font-size="38" textLength="20.5" lengthAdjust="spacingAndGlyphs">g</text>
<text x="1872.2" y="2895.8" font-size="65" textLength="86.2" lengthAdjust="spacingAndGlyphs">(Å)</text>
<text transform="translate(1283.6,2733.7) rotate(-90)" font-size="63.7">Normalized Counts</text>
<text x="1377.6" y="2331" font-size="40.5" textLength="191.8" lengthAdjust="spacingAndGlyphs">poly(EtGE)</text>
<text x="1377.7" y="2381.7" font-size="40.5" textLength="93.6" lengthAdjust="spacingAndGlyphs">343K</text>
<rect x="1907.5" y="2313.5" width="381.3" height="233.3" fill="#fff" stroke="none"/>
<path d="M1908.8,2480.8L1909.6,2477.0L1910.4,2480.0L1911.2,2476.1L1912.0,2476.0L1912.8,2472.8L1913.6,2469.4L1914.4,2470.4L1915.2,2473.7L1916.0,2473.7L1916.8,2467.5L1917.6,2470.0L1918.4,2469.3L1919.2,2468.2L1920.0,2457.4L1920.8,2468.3L1921.6,2459.4L1922.4,2455.4L1923.2,2457.7L1924.0,2457.3L1924.8,2464.6L1925.6,2467.0L1926.4,2468.5L1927.2,2473.3L1928.0,2470.6L1928.8,2466.0L1929.6,2462.6L1930.4,2455.9L1931.2,2450.3L1932.0,2449.0L1932.8,2449.5L1933.6,2443.1L1934.4,2444.8L1935.2,2458.1L1936.0,2460.0L1936.8,2466.4L1937.6,2470.3L1938.4,2472.3L1939.2,2459.9L1940.0,2466.3L1940.8,2468.7L1941.6,2467.2L1942.4,2465.6L1943.2,2462.6L1944.0,2461.3L1944.8,2461.8L1945.6,2454.4L1946.4,2462.1L1947.2,2462.9L1948.0,2461.3L1948.8,2465.5L1949.6,2464.8L1950.4,2474.8L1951.2,2473.8L1952.0,2476.1L1952.8,2473.3L1953.6,2460.2L1954.4,2472.8L1955.2,2478.6L1956.0,2473.9L1956.8,2476.3L1957.6,2476.4L1958.4,2477.2L1959.2,2478.9L1960.0,2475.6L1960.8,2476.9L1961.6,2473.8L1962.4,2473.9L1963.2,2473.3L1964.0,2478.1L1964.8,2480.3L1965.6,2481.6L1966.4,2481.4L1967.2,2480.8L1968.0,2478.4L1968.8,2484.3L1969.6,2488.2L1970.4,2485.4L1971.2,2488.7L1972.0,2490.6L1972.8,2490.5L1973.6,2490.7L1974.4,2485.4L1975.2,2482.8L1976.0,2481.3L1976.8,2480.9L1977.6,2485.1L1978.4,2479.5L1979.2,2477.4L1980.0,2475.6L1980.8,2478.0L1981.6,2475.7L1982.4,2472.7L1983.2,2469.2L1984.0,2465.8L1984.8,2462.0L1985.6,2448.9L1986.4,2457.8L1987.2,2461.3L1988.0,2456.1L1988.8,2461.3L1989.6,2464.9L1990.4,2470.0L1991.2,2471.0L1992.0,2467.9L1992.8,2465.0L1993.6,2472.3L1994.4,2466.9L1995.2,2469.4L1996.0,2466.7L1996.8,2469.9L1997.6,2465.7L1998.4,2464.8L1999.2,2459.9L2000.0,2458.6L2000.8,2460.1L2001.6,2462.4L2002.4,2456.9L2003.2,2453.7L2004.0,2460.6L2004.8,2460.4L2005.6,2466.7L2006.4,2469.0L2007.2,2475.2L2008.0,2478.3L2008.8,2481.3L2009.6,2473.3L2010.4,2476.2L2011.2,2474.2L2012.0,2471.8L2012.8,2469.7L2013.6,2472.1L2014.4,2465.8L2015.2,2460.9L2016.0,2461.0L2016.8,2461.2L2017.6,2455.2L2018.4,2458.9L2019.2,2457.4L2020.0,2459.7L2020.8,2458.4L2021.6,2458.8L2022.4,2462.2L2023.2,2462.3L2024.0,2465.2L2024.8,2465.7L2025.6,2461.2L2026.4,2466.8L2027.2,2467.2L2028.0,2464.5L2028.8,2458.6L2029.6,2437.1L2030.4,2459.7L2031.2,2458.7L2032.0,2456.3L2032.8,2454.6L2033.6,2453.3L2034.4,2453.6L2035.2,2447.2L2036.0,2446.0L2036.8,2450.8L2037.6,2454.1L2038.4,2447.1L2039.2,2456.1L2040.0,2456.3L2040.8,2456.5L2041.6,2461.1L2042.4,2457.6L2043.2,2461.9L2044.0,2452.8L2044.8,2456.2L2045.6,2460.0L2046.4,2462.5L2047.2,2459.9L2048.0,2450.8L2048.8,2449.4L2049.6,2445.1L2050.4,2442.7L2051.2,2446.7L2052.0,2433.0L2052.8,2447.3L2053.6,2442.6L2054.4,2443.4L2055.2,2439.1L2056.0,2433.6L2056.8,2433.1L2057.6,2431.7L2058.4,2437.0L2059.2,2433.0L2060.0,2430.4L2060.8,2435.2L2061.6,2439.5L2062.4,2438.7L2063.2,2438.3L2064.0,2430.6L2064.8,2420.0L2065.6,2414.6L2066.4,2406.3L2067.2,2412.5L2068.0,2411.8L2068.8,2416.1L2069.6,2425.7L2070.4,2427.3L2071.2,2435.0L2072.0,2438.5L2072.8,2451.9L2073.6,2455.3L2074.4,2456.3L2075.2,2460.1L2076.0,2470.6L2076.8,2474.7L2077.6,2473.1L2078.4,2472.2L2079.2,2476.8L2080.0,2478.9L2080.8,2482.2L2081.6,2482.3L2082.4,2475.9L2083.2,2476.0L2084.0,2482.2L2084.8,2477.4L2085.6,2479.2L2086.4,2478.3L2087.2,2477.2L2088.0,2470.6L2088.8,2475.3L2089.6,2472.5L2090.4,2471.9L2091.2,2469.2L2092.0,2462.6L2092.8,2461.0L2093.6,2459.6L2094.4,2448.7L2095.2,2455.7L2096.0,2456.7L2096.8,2458.5L2097.6,2456.9L2098.4,2451.4L2099.2,2454.5L2100.0,2450.7L2100.8,2450.6L2101.6,2446.1L2102.4,2443.8L2103.2,2436.5L2104.0,2432.0L2104.8,2430.7L2105.6,2429.8L2106.4,2431.6L2107.2,2432.7L2108.0,2432.9L2108.8,2431.4L2109.6,2433.3L2110.4,2437.3L2111.2,2435.7L2112.0,2435.2L2112.8,2433.3L2113.6,2429.5L2114.4,2433.2L2115.2,2432.0L2116.0,2429.0L2116.8,2431.6L2117.6,2432.7L2118.4,2433.4L2119.2,2430.7L2120.0,2438.0L2120.8,2437.6L2121.6,2438.9L2122.4,2442.1L2123.2,2439.6L2124.0,2436.9L2124.8,2438.7L2125.6,2443.9L2126.4,2450.4L2127.2,2452.0L2128.0,2457.2L2128.8,2458.2L2129.6,2469.0L2130.4,2468.6L2131.2,2461.8L2132.0,2470.1L2132.8,2460.2L2133.6,2458.7L2134.4,2450.9L2135.2,2444.6L2136.0,2439.1L2136.8,2439.7L2137.6,2441.2L2138.4,2438.9L2139.2,2436.1L2140.0,2436.2L2140.8,2431.2L2141.6,2431.2L2142.4,2434.5L2143.2,2438.0L2144.0,2433.7L2144.8,2440.8L2145.6,2432.8L2146.4,2443.8L2147.2,2448.2L2148.0,2449.0L2148.8,2458.5L2149.6,2461.9L2150.4,2465.9L2151.2,2468.7L2152.0,2466.4L2152.8,2469.7L2153.6,2473.5L2154.4,2464.6L2155.2,2464.4L2156.0,2462.8L2156.8,2457.9L2157.6,2461.0L2158.4,2461.5L2159.2,2464.3L2160.0,2464.0L2160.8,2469.8L2161.6,2464.7L2162.4,2464.0L2163.2,2468.8L2164.0,2466.1L2164.8,2447.3L2165.6,2469.2L2166.4,2463.9L2167.2,2461.9L2168.0,2463.9L2168.8,2463.4L2169.6,2457.1L2170.4,2464.9L2171.2,2465.9L2172.0,2469.5L2172.8,2463.7L2173.6,2465.7L2174.4,2465.1L2175.2,2463.8L2176.0,2455.0L2176.8,2469.5L2177.6,2469.4L2178.4,2472.4L2179.2,2465.9L2180.0,2467.6L2180.8,2465.7L2181.6,2468.5L2182.4,2468.9L2183.2,2460.7L2184.0,2475.6L2184.8,2475.0L2185.6,2462.9L2186.4,2473.7L2187.2,2478.3L2188.0,2477.1L2188.8,2477.7L2189.6,2478.0L2190.4,2479.3L2191.2,2475.8L2192.0,2474.4L2192.8,2476.1L2193.6,2477.4L2194.4,2480.7L2195.2,2477.8L2196.0,2472.6L2196.8,2473.7L2197.6,2469.0L2198.4,2471.7L2199.2,2470.3L2200.0,2464.5L2200.8,2468.5L2201.6,2471.4L2202.4,2474.0L2203.2,2470.8L2204.0,2457.0L2204.8,2471.7L2205.6,2468.4L2206.4,2471.3L2207.2,2463.8L2208.0,2467.3L2208.8,2469.6L2209.6,2473.4L2210.4,2471.2L2211.2,2465.2L2212.0,2464.4L2212.8,2462.7L2213.6,2463.8L2214.4,2462.3L2215.2,2465.9L2216.0,2465.3L2216.8,2462.6L2217.6,2468.5L2218.4,2469.2L2219.2,2471.5L2220.0,2475.6L2220.8,2477.9L2221.6,2482.9L2222.4,2477.5L2223.2,2473.2L2224.0,2477.1L2224.8,2476.6L2225.6,2472.6L2226.4,2472.4L2227.2,2468.1L2228.0,2469.8L2228.8,2461.1L2229.6,2453.7L2230.4,2454.9L2231.2,2449.9L2232.0,2450.9L2232.8,2450.4L2233.6,2447.5L2234.4,2448.1L2235.2,2447.6L2236.0,2449.0L2236.8,2450.6L2237.6,2451.8L2238.4,2456.1L2239.2,2459.5L2240.0,2458.7L2240.8,2457.1L2241.6,2459.6L2242.4,2456.4L2243.2,2463.8L2244.0,2460.4L2244.8,2461.2L2245.6,2457.8L2246.4,2462.9L2247.2,2467.6L2248.0,2470.8L2248.8,2469.5L2249.6,2470.7L2250.4,2465.5L2251.2,2467.4L2252.0,2471.7L2252.8,2471.1L2253.6,2471.6L2254.4,2468.4L2255.2,2469.5L2256.0,2460.2L2256.8,2458.7L2257.6,2457.9L2258.4,2455.2L2259.2,2451.8L2260.0,2447.8L2260.8,2444.4L2261.6,2444.5L2262.4,2443.3L2263.2,2450.7L2264.0,2453.9L2264.8,2454.4L2265.6,2458.3L2266.4,2460.5L2267.2,2461.9L2268.0,2462.0L2268.8,2463.7L2269.6,2469.5L2270.4,2465.7L2271.2,2459.5L2272.0,2457.8L2272.8,2459.6L2273.6,2454.5L2274.4,2457.5L2275.2,2454.8L2276.0,2448.6L2276.8,2447.1L2277.6,2446.3L2278.4,2435.9L2279.2,2438.9L2280.0,2436.2L2280.8,2444.8L2281.6,2451.7L2282.4,2449.8L2283.2,2450.1L2284.0,2449.5L2284.0,2470.6L2283.2,2467.3L2282.4,2468.8L2281.6,2466.2L2280.8,2460.7L2280.0,2457.7L2279.2,2455.3L2278.4,2459.9L2277.6,2463.3L2276.8,2466.4L2276.0,2474.5L2275.2,2475.9L2274.4,2477.9L2273.6,2478.2L2272.8,2478.7L2272.0,2479.8L2271.2,2478.1L2270.4,2482.9L2269.6,2494.6L2268.8,2479.9L2268.0,2482.1L2267.2,2482.0L2266.4,2479.5L2265.6,2481.3L2264.8,2477.4L2264.0,2471.0L2263.2,2466.0L2262.4,2468.5L2261.6,2462.5L2260.8,2465.3L2260.0,2478.0L2259.2,2467.9L2258.4,2474.0L2257.6,2475.8L2256.8,2474.1L2256.0,2483.4L2255.2,2486.3L2254.4,2486.5L2253.6,2491.3L2252.8,2488.3L2252.0,2491.0L2251.2,2485.1L2250.4,2486.9L2249.6,2485.2L2248.8,2484.6L2248.0,2484.8L2247.2,2485.9L2246.4,2483.3L2245.6,2484.9L2244.8,2473.4L2244.0,2478.1L2243.2,2478.3L2242.4,2473.4L2241.6,2477.2L2240.8,2477.0L2240.0,2476.3L2239.2,2474.1L2238.4,2479.2L2237.6,2471.3L2236.8,2468.6L2236.0,2467.0L2235.2,2462.8L2234.4,2468.8L2233.6,2466.1L2232.8,2467.2L2232.0,2468.1L2231.2,2468.4L2230.4,2481.1L2229.6,2481.6L2228.8,2488.0L2228.0,2491.8L2227.2,2491.3L2226.4,2490.0L2225.6,2490.7L2224.8,2494.5L2224.0,2495.4L2223.2,2496.2L2222.4,2496.4L2221.6,2503.8L2220.8,2501.5L2220.0,2492.2L2219.2,2489.1L2218.4,2487.1L2217.6,2487.2L2216.8,2479.3L2216.0,2485.2L2215.2,2483.2L2214.4,2479.7L2213.6,2475.8L2212.8,2480.5L2212.0,2479.4L2211.2,2484.0L2210.4,2488.4L2209.6,2491.0L2208.8,2488.7L2208.0,2486.4L2207.2,2483.3L2206.4,2483.6L2205.6,2488.0L2204.8,2491.1L2204.0,2489.4L2203.2,2489.9L2202.4,2488.1L2201.6,2486.5L2200.8,2494.1L2200.0,2485.2L2199.2,2488.5L2198.4,2490.7L2197.6,2487.8L2196.8,2493.2L2196.0,2490.1L2195.2,2494.8L2194.4,2497.8L2193.6,2508.6L2192.8,2506.2L2192.0,2494.9L2191.2,2495.6L2190.4,2494.1L2189.6,2495.3L2188.8,2493.7L2188.0,2497.6L2187.2,2493.1L2186.4,2494.1L2185.6,2492.7L2184.8,2491.2L2184.0,2491.3L2183.2,2487.7L2182.4,2487.1L2181.6,2498.0L2180.8,2483.3L2180.0,2485.3L2179.2,2482.8L2178.4,2486.1L2177.6,2489.5L2176.8,2484.4L2176.0,2488.8L2175.2,2483.8L2174.4,2484.2L2173.6,2478.7L2172.8,2495.4L2172.0,2488.6L2171.2,2483.9L2170.4,2479.8L2169.6,2478.7L2168.8,2481.5L2168.0,2481.0L2167.2,2478.7L2166.4,2483.4L2165.6,2487.9L2164.8,2485.1L2164.0,2487.6L2163.2,2481.1L2162.4,2485.5L2161.6,2486.4L2160.8,2486.0L2160.0,2484.1L2159.2,2481.4L2158.4,2481.3L2157.6,2477.3L2156.8,2478.9L2156.0,2481.3L2155.2,2482.8L2154.4,2484.9L2153.6,2485.9L2152.8,2484.2L2152.0,2484.9L2151.2,2484.9L2150.4,2487.8L2149.6,2480.7L2148.8,2479.3L2148.0,2475.0L2147.2,2469.0L2146.4,2464.4L2145.6,2459.9L2144.8,2459.4L2144.0,2453.6L2143.2,2455.4L2142.4,2450.7L2141.6,2451.3L2140.8,2453.5L2140.0,2452.6L2139.2,2454.7L2138.4,2460.6L2137.6,2458.8L2136.8,2457.5L2136.0,2464.3L2135.2,2469.8L2134.4,2475.2L2133.6,2479.9L2132.8,2482.5L2132.0,2489.8L2131.2,2498.2L2130.4,2499.7L2129.6,2491.3L2128.8,2485.2L2128.0,2482.6L2127.2,2474.9L2126.4,2467.2L2125.6,2465.2L2124.8,2457.3L2124.0,2457.2L2123.2,2457.9L2122.4,2460.0L2121.6,2459.6L2120.8,2452.9L2120.0,2456.9L2119.2,2449.7L2118.4,2449.5L2117.6,2448.4L2116.8,2451.8L2116.0,2448.8L2115.2,2455.3L2114.4,2450.2L2113.6,2451.7L2112.8,2450.7L2112.0,2450.5L2111.2,2453.0L2110.4,2453.4L2109.6,2453.7L2108.8,2445.5L2108.0,2451.8L2107.2,2447.1L2106.4,2448.2L2105.6,2448.9L2104.8,2450.9L2104.0,2455.3L2103.2,2456.8L2102.4,2464.6L2101.6,2480.4L2100.8,2479.3L2100.0,2471.0L2099.2,2467.3L2098.4,2465.8L2097.6,2470.5L2096.8,2471.9L2096.0,2475.8L2095.2,2473.8L2094.4,2479.6L2093.6,2486.0L2092.8,2479.3L2092.0,2481.0L2091.2,2490.3L2090.4,2500.1L2089.6,2487.7L2088.8,2489.6L2088.0,2492.3L2087.2,2495.0L2086.4,2499.1L2085.6,2494.7L2084.8,2495.4L2084.0,2496.2L2083.2,2492.1L2082.4,2491.4L2081.6,2500.5L2080.8,2495.0L2080.0,2494.2L2079.2,2493.2L2078.4,2490.5L2077.6,2490.6L2076.8,2491.8L2076.0,2488.1L2075.2,2484.5L2074.4,2485.0L2073.6,2479.6L2072.8,2473.8L2072.0,2463.3L2071.2,2462.7L2070.4,2454.2L2069.6,2444.8L2068.8,2436.6L2068.0,2437.0L2067.2,2427.8L2066.4,2434.3L2065.6,2441.6L2064.8,2443.9L2064.0,2452.3L2063.2,2456.2L2062.4,2456.6L2061.6,2459.3L2060.8,2454.8L2060.0,2448.2L2059.2,2450.9L2058.4,2469.1L2057.6,2446.1L2056.8,2451.7L2056.0,2451.7L2055.2,2455.5L2054.4,2455.9L2053.6,2461.4L2052.8,2466.1L2052.0,2467.3L2051.2,2463.0L2050.4,2461.8L2049.6,2464.8L2048.8,2465.3L2048.0,2473.2L2047.2,2479.6L2046.4,2479.5L2045.6,2476.3L2044.8,2478.7L2044.0,2484.9L2043.2,2483.6L2042.4,2479.2L2041.6,2476.2L2040.8,2476.3L2040.0,2471.2L2039.2,2470.0L2038.4,2463.7L2037.6,2466.3L2036.8,2468.6L2036.0,2466.6L2035.2,2469.2L2034.4,2467.4L2033.6,2468.6L2032.8,2472.0L2032.0,2474.6L2031.2,2476.8L2030.4,2476.9L2029.6,2475.0L2028.8,2478.9L2028.0,2484.0L2027.2,2481.9L2026.4,2483.6L2025.6,2493.3L2024.8,2483.0L2024.0,2479.1L2023.2,2479.9L2022.4,2480.4L2021.6,2473.6L2020.8,2475.5L2020.0,2477.3L2019.2,2473.3L2018.4,2477.5L2017.6,2472.9L2016.8,2479.7L2016.0,2478.7L2015.2,2480.4L2014.4,2487.0L2013.6,2492.9L2012.8,2490.5L2012.0,2490.5L2011.2,2495.4L2010.4,2497.0L2009.6,2494.2L2008.8,2499.8L2008.0,2499.4L2007.2,2493.7L2006.4,2488.2L2005.6,2484.1L2004.8,2480.6L2004.0,2478.7L2003.2,2477.0L2002.4,2473.1L2001.6,2479.1L2000.8,2477.8L2000.0,2479.7L1999.2,2480.8L1998.4,2485.6L1997.6,2485.4L1996.8,2486.6L1996.0,2485.0L1995.2,2485.3L1994.4,2485.7L1993.6,2489.1L1992.8,2486.2L1992.0,2487.4L1991.2,2486.6L1990.4,2487.4L1989.6,2481.7L1988.8,2478.8L1988.0,2478.4L1987.2,2481.8L1986.4,2479.1L1985.6,2476.7L1984.8,2482.5L1984.0,2487.4L1983.2,2483.6L1982.4,2492.8L1981.6,2494.1L1980.8,2492.2L1980.0,2492.6L1979.2,2497.4L1978.4,2499.4L1977.6,2502.8L1976.8,2496.8L1976.0,2499.2L1975.2,2500.6L1974.4,2504.4L1973.6,2512.7L1972.8,2508.7L1972.0,2512.3L1971.2,2509.5L1970.4,2503.2L1969.6,2502.9L1968.8,2502.8L1968.0,2497.1L1967.2,2501.3L1966.4,2499.4L1965.6,2496.9L1964.8,2496.9L1964.0,2495.1L1963.2,2496.8L1962.4,2490.7L1961.6,2495.8L1960.8,2497.2L1960.0,2497.8L1959.2,2496.6L1958.4,2496.6L1957.6,2496.4L1956.8,2491.3L1956.0,2493.2L1955.2,2490.3L1954.4,2496.1L1953.6,2488.8L1952.8,2490.6L1952.0,2492.5L1951.2,2491.0L1950.4,2486.6L1949.6,2485.5L1948.8,2483.1L1948.0,2481.5L1947.2,2479.3L1946.4,2481.0L1945.6,2474.1L1944.8,2476.6L1944.0,2476.8L1943.2,2480.0L1942.4,2483.1L1941.6,2482.8L1940.8,2486.2L1940.0,2487.1L1939.2,2488.8L1938.4,2491.5L1937.6,2487.2L1936.8,2486.2L1936.0,2485.1L1935.2,2482.8L1934.4,2479.4L1933.6,2464.3L1932.8,2465.8L1932.0,2468.3L1931.2,2474.9L1930.4,2481.2L1929.6,2484.3L1928.8,2490.8L1928.0,2492.0L1927.2,2496.5L1926.4,2493.5L1925.6,2491.4L1924.8,2487.7L1924.0,2481.0L1923.2,2475.6L1922.4,2471.7L1921.6,2475.3L1920.8,2487.3L1920.0,2485.9L1919.2,2486.4L1918.4,2493.0L1917.6,2491.5L1916.8,2490.9L1916.0,2487.6L1915.2,2490.1L1914.4,2482.8L1913.6,2484.7L1912.8,2487.4L1912.0,2492.8L1911.2,2492.5L1910.4,2494.3L1909.6,2495.9L1908.8,2499.6Z" fill="#0000ff" stroke="#0000ff" stroke-width="0.6"/>
<rect x="1907.5" y="2313.5" width="381.3" height="233.3" fill="none" stroke="#2b2b2b" stroke-width="2.4"/>
<path d="M1983.8,2546.8v-15.5M1983.8,2313.5v15.5M2060,2546.8v-15.5M2060,2313.5v15.5M2136.3,2546.8v-15.5M2136.3,2313.5v15.5M2212.5,2546.8v-15.5M2212.5,2313.5v15.5M1907.5,2430.2h16M2288.8,2430.2h-16" stroke="#2b2b2b" stroke-width="2"/>
<text x="1913.3" y="2600.4" font-size="42" text-anchor="middle">0</text>
<text x="1989.6" y="2600.4" font-size="42" text-anchor="middle">20</text>
<text x="2065.8" y="2600.4" font-size="42" text-anchor="middle">40</text>
<text x="2142.1" y="2600.4" font-size="42" text-anchor="middle">60</text>
<text x="2218.3" y="2600.4" font-size="42" text-anchor="middle">80</text>
<text x="2294.6" y="2600.4" font-size="42" text-anchor="middle">100</text>
<text x="1890.2" y="2326.1" font-size="42" text-anchor="end">18</text>
<text x="1890.2" y="2442.8" font-size="42" text-anchor="end">12</text>
<text x="1890.2" y="2559.4" font-size="42" text-anchor="end">6</text>
<text x="1999.6" y="2666.6" font-size="52">Time (ns)</text>
<g transform="translate(1812.2,2491.6) rotate(-90)"><text x="0" y="0" font-size="50" font-style="italic">R</text><text x="29.5" y="17.5" font-size="28.5">g</text><text x="59.5" y="0" font-size="50">(Å)</text></g>
<path d="M321.7,3473.5v-16.5M321.7,3014.2v16.5M522.4,3473.5v-16.5M522.4,3014.2v16.5M723,3473.5v-16.5M723,3014.2v16.5M923.7,3473.5v-16.5M923.7,3014.2v16.5" stroke="#2b2b2b" stroke-width="2"/>
<path d="M315.9,3473.5L315.9,3469.4L326.1,3469.4L326.1,3464.2L336.2,3464.2L336.2,3454.1L346.4,3454.1L346.4,3440.5L356.5,3440.5L356.5,3433.8L366.6,3433.8L366.6,3428L376.8,3428L376.8,3424.2L386.9,3424.2L386.9,3419.3L397.1,3419.3L397.1,3415.5L407.2,3415.5L407.2,3410.9L417.4,3410.9L417.4,3409.8L427.5,3409.8L427.5,3410.6L436.8,3410.6L436.8,3395.3L447.2,3395.3L447.2,3386L457.3,3386L457.3,3366.3L467.5,3366.3L467.5,3354.7L477.3,3354.7L477.3,3344L487.8,3344L487.8,3343.1L497.6,3343.1L497.6,3341.1L508.1,3341.1L508.1,3339L517.9,3339L517.9,3326.6L527.5,3326.6L527.5,3327.5L537.6,3327.5L537.6,3330.9L547.8,3330.9L547.8,3336.1L557.3,3336.1L557.3,3355.6L567.2,3355.6L567.2,3371.5L577.6,3371.5L577.6,3383.7L587.7,3383.7L587.7,3399L597.9,3399L597.9,3401.1L608,3401.1L608,3404.8L618.2,3404.8L618.2,3412.1L628.3,3412.1L628.3,3419.3L638.5,3419.3L638.5,3428L647.7,3428L647.7,3435.8L657.9,3435.8L657.9,3442.5L668,3442.5L668,3449.7L678.2,3449.7L678.2,3454.1L688.3,3454.1L688.3,3457L698.4,3457L698.4,3459.9L708.6,3459.9L708.6,3461.9L718.7,3461.9L718.7,3464.8L728.9,3464.8L728.9,3467.1L739,3467.1L739,3468.6L750,3468.6L750,3469L760,3469L760,3469.5L770,3469.5L770,3470.5L780,3470.5L780,3471L790,3471L790,3471.5L800,3471.5L800,3472L820,3472L820,3472.5L850,3472.5L850,3472.8L880,3472.8L880,3473.5Z" fill="#ff0000"/>
<rect x="121" y="3014.2" width="1003.4" height="459.3" fill="none" stroke="#2b2b2b" stroke-width="2.6"/>
<text x="129.5" y="3532" font-size="61" text-anchor="middle" textLength="28.5" lengthAdjust="spacingAndGlyphs">6</text>
<text x="330.2" y="3532" font-size="61" text-anchor="middle" textLength="28.5" lengthAdjust="spacingAndGlyphs">8</text>
<text x="530.9" y="3532" font-size="61" text-anchor="middle" textLength="57" lengthAdjust="spacingAndGlyphs">10</text>
<text x="731.5" y="3532" font-size="61" text-anchor="middle" textLength="57" lengthAdjust="spacingAndGlyphs">12</text>
<text x="932.2" y="3532" font-size="61" text-anchor="middle" textLength="57" lengthAdjust="spacingAndGlyphs">14</text>
<text x="1132.9" y="3532" font-size="61" text-anchor="middle" textLength="57" lengthAdjust="spacingAndGlyphs">16</text>
<text x="577.8" y="3635" font-size="65" font-style="italic">R</text>
<text x="614.9" y="3656.5" font-size="38" textLength="20.5" lengthAdjust="spacingAndGlyphs">g</text>
<text x="650.6" y="3635" font-size="65" textLength="86.2" lengthAdjust="spacingAndGlyphs">(Å)</text>
<text transform="translate(62,3472.1) rotate(-90)" font-size="63.7">Normalized Counts</text>
<text x="154.9" y="3071.8" font-size="40.5" textLength="210.1" lengthAdjust="spacingAndGlyphs">poly(MeGE)</text>
<text x="155" y="3122.3" font-size="40.5" textLength="93.6" lengthAdjust="spacingAndGlyphs">368K</text>
<rect x="685.3" y="3051.9" width="380.5" height="233.3" fill="#fff" stroke="none"/>
<path d="M686.6,3209.9L687.4,3209.5L688.2,3210.7L689.0,3214.2L689.8,3210.7L690.6,3212.0L691.4,3215.2L692.2,3201.0L693.0,3213.8L693.8,3208.6L694.6,3211.2L695.4,3208.8L696.2,3213.0L697.0,3209.9L697.8,3210.8L698.6,3205.1L699.4,3203.3L700.2,3189.4L701.0,3198.7L701.8,3197.8L702.6,3195.9L703.4,3192.1L704.2,3193.1L705.0,3191.2L705.8,3186.7L706.6,3179.3L707.4,3168.4L708.2,3144.1L709.0,3152.7L709.8,3152.5L710.6,3145.4L711.4,3164.1L712.2,3170.5L713.0,3192.8L713.8,3203.4L714.6,3207.4L715.4,3198.8L716.2,3196.3L717.0,3191.7L717.8,3189.1L718.6,3179.7L719.4,3178.0L720.2,3166.9L721.0,3173.9L721.8,3177.0L722.6,3176.8L723.4,3172.1L724.2,3176.9L725.0,3177.0L725.8,3172.9L726.6,3173.6L727.4,3176.8L728.2,3170.3L729.0,3173.8L729.8,3170.0L730.6,3166.2L731.4,3169.5L732.2,3179.0L733.0,3178.7L733.8,3177.6L734.6,3182.4L735.4,3186.1L736.2,3191.3L737.0,3191.6L737.8,3198.8L738.6,3201.3L739.4,3199.1L740.2,3203.4L741.0,3206.7L741.8,3200.9L742.6,3195.6L743.4,3194.2L744.2,3184.3L745.0,3185.7L745.8,3183.8L746.6,3175.4L747.4,3181.3L748.2,3183.6L749.0,3181.3L749.8,3182.0L750.6,3186.1L751.4,3185.3L752.2,3186.3L753.0,3190.9L753.8,3190.4L754.6,3183.2L755.4,3178.2L756.2,3171.2L757.0,3167.5L757.8,3161.2L758.6,3156.2L759.4,3156.1L760.2,3160.2L761.0,3160.8L761.8,3172.6L762.6,3183.0L763.4,3181.5L764.2,3188.1L765.0,3194.2L765.8,3194.2L766.6,3193.1L767.4,3193.0L768.2,3193.6L769.0,3198.4L769.8,3198.5L770.6,3202.0L771.4,3202.9L772.2,3194.2L773.0,3207.0L773.8,3208.7L774.6,3213.1L775.4,3205.0L776.2,3204.9L777.0,3204.5L777.8,3198.5L778.6,3195.6L779.4,3198.0L780.2,3197.2L781.0,3195.5L781.8,3199.7L782.6,3200.5L783.4,3199.0L784.2,3196.9L785.0,3195.9L785.8,3197.1L786.6,3201.4L787.4,3197.6L788.2,3199.5L789.0,3194.8L789.8,3197.8L790.6,3194.1L791.4,3197.1L792.2,3203.6L793.0,3200.1L793.8,3201.2L794.6,3197.9L795.4,3207.6L796.2,3204.5L797.0,3191.5L797.8,3201.4L798.6,3200.3L799.4,3207.9L800.2,3202.4L801.0,3201.1L801.8,3201.3L802.6,3198.5L803.4,3204.0L804.2,3201.8L805.0,3202.9L805.8,3206.5L806.6,3203.3L807.4,3205.9L808.2,3205.2L809.0,3208.2L809.8,3204.0L810.6,3208.5L811.4,3209.9L812.2,3210.1L813.0,3208.7L813.8,3208.4L814.6,3206.9L815.4,3202.8L816.2,3206.8L817.0,3208.6L817.8,3207.4L818.6,3204.1L819.4,3195.9L820.2,3199.1L821.0,3195.1L821.8,3193.0L822.6,3201.0L823.4,3200.2L824.2,3199.0L825.0,3198.4L825.8,3197.1L826.6,3198.4L827.4,3197.7L828.2,3197.3L829.0,3198.4L829.8,3199.5L830.6,3200.2L831.4,3201.9L832.2,3203.2L833.0,3202.2L833.8,3202.3L834.6,3200.8L835.4,3204.2L836.2,3199.1L837.0,3196.5L837.8,3195.8L838.6,3198.9L839.4,3199.2L840.2,3194.3L841.0,3194.4L841.8,3195.6L842.6,3195.5L843.4,3193.9L844.2,3191.6L845.0,3190.0L845.8,3189.0L846.6,3187.5L847.4,3190.1L848.2,3186.8L849.0,3180.3L849.8,3180.4L850.6,3174.4L851.4,3175.5L852.2,3178.0L853.0,3175.7L853.8,3175.5L854.6,3180.2L855.4,3186.1L856.2,3188.0L857.0,3185.0L857.8,3189.0L858.6,3175.9L859.4,3169.6L860.2,3162.1L861.0,3151.6L861.8,3143.6L862.6,3138.4L863.4,3144.0L864.2,3148.1L865.0,3145.6L865.8,3150.7L866.6,3155.8L867.4,3159.0L868.2,3158.5L869.0,3166.6L869.8,3168.5L870.6,3176.3L871.4,3182.2L872.2,3192.7L873.0,3199.1L873.8,3201.9L874.6,3203.0L875.4,3207.0L876.2,3208.8L877.0,3207.2L877.8,3213.1L878.6,3207.9L879.4,3206.1L880.2,3200.9L881.0,3198.6L881.8,3201.4L882.6,3194.0L883.4,3191.8L884.2,3194.7L885.0,3200.9L885.8,3206.2L886.6,3212.7L887.4,3219.8L888.2,3226.1L889.0,3224.5L889.8,3221.4L890.6,3216.0L891.4,3209.1L892.2,3202.9L893.0,3194.4L893.8,3193.4L894.6,3177.1L895.4,3190.5L896.2,3189.5L897.0,3180.0L897.8,3180.7L898.6,3181.3L899.4,3187.0L900.2,3185.5L901.0,3190.4L901.8,3198.9L902.6,3205.9L903.4,3209.7L904.2,3211.4L905.0,3208.7L905.8,3205.6L906.6,3198.5L907.4,3202.7L908.2,3201.0L909.0,3198.6L909.8,3198.2L910.6,3203.1L911.4,3208.1L912.2,3206.4L913.0,3200.7L913.8,3204.2L914.6,3208.9L915.4,3216.7L916.2,3213.5L917.0,3221.2L917.8,3227.6L918.6,3229.9L919.4,3230.0L920.2,3216.8L921.0,3222.9L921.8,3218.7L922.6,3214.9L923.4,3215.7L924.2,3217.5L925.0,3211.2L925.8,3216.6L926.6,3216.7L927.4,3212.4L928.2,3199.8L929.0,3212.5L929.8,3209.2L930.6,3211.6L931.4,3213.0L932.2,3213.3L933.0,3215.1L933.8,3219.1L934.6,3221.4L935.4,3213.6L936.2,3217.7L937.0,3215.1L937.8,3217.0L938.6,3217.7L939.4,3215.2L940.2,3216.1L941.0,3212.5L941.8,3212.1L942.6,3209.8L943.4,3206.3L944.2,3210.5L945.0,3206.0L945.8,3208.5L946.6,3197.0L947.4,3199.6L948.2,3200.8L949.0,3195.2L949.8,3193.9L950.6,3188.7L951.4,3181.1L952.2,3175.1L953.0,3180.5L953.8,3176.3L954.6,3178.2L955.4,3176.0L956.2,3176.8L957.0,3171.1L957.8,3179.1L958.6,3170.7L959.4,3172.5L960.2,3177.3L961.0,3177.4L961.8,3184.3L962.6,3183.9L963.4,3190.2L964.2,3199.4L965.0,3202.0L965.8,3200.5L966.6,3204.3L967.4,3208.2L968.2,3200.4L969.0,3203.3L969.8,3199.4L970.6,3201.5L971.4,3197.8L972.2,3196.7L973.0,3199.1L973.8,3196.0L974.6,3205.0L975.4,3204.8L976.2,3210.0L977.0,3218.2L977.8,3218.0L978.6,3224.9L979.4,3229.2L980.2,3209.6L981.0,3220.8L981.8,3226.3L982.6,3226.8L983.4,3218.5L984.2,3222.8L985.0,3225.2L985.8,3223.0L986.6,3220.8L987.4,3217.7L988.2,3212.5L989.0,3210.5L989.8,3209.3L990.6,3199.2L991.4,3198.7L992.2,3194.3L993.0,3190.6L993.8,3183.4L994.6,3187.0L995.4,3180.7L996.2,3176.2L997.0,3173.0L997.8,3167.3L998.6,3163.6L999.4,3162.3L1000.2,3160.2L1001.0,3156.0L1001.8,3156.9L1002.6,3156.8L1003.4,3138.3L1004.2,3156.5L1005.0,3155.1L1005.8,3164.9L1006.6,3174.8L1007.4,3190.6L1008.2,3192.8L1009.0,3192.7L1009.8,3190.3L1010.6,3192.8L1011.4,3185.7L1012.2,3183.2L1013.0,3180.9L1013.8,3179.2L1014.6,3177.2L1015.4,3178.1L1016.2,3183.0L1017.0,3184.6L1017.8,3185.8L1018.6,3185.0L1019.4,3179.5L1020.2,3175.9L1021.0,3186.3L1021.8,3188.9L1022.6,3185.7L1023.4,3192.7L1024.2,3195.4L1025.0,3198.9L1025.8,3197.3L1026.6,3199.5L1027.4,3191.3L1028.2,3192.0L1029.0,3187.5L1029.8,3180.9L1030.6,3168.9L1031.4,3169.0L1032.2,3167.9L1033.0,3168.3L1033.8,3164.8L1034.6,3144.9L1035.4,3157.8L1036.2,3158.0L1037.0,3146.4L1037.8,3165.1L1038.6,3170.9L1039.4,3180.8L1040.2,3196.6L1041.0,3202.8L1041.8,3213.3L1042.6,3217.6L1043.4,3220.9L1044.2,3225.9L1045.0,3225.0L1045.8,3220.3L1046.6,3223.2L1047.4,3222.1L1048.2,3221.8L1049.0,3220.0L1049.8,3214.5L1050.6,3215.5L1051.4,3214.1L1052.2,3213.2L1053.0,3209.8L1053.8,3208.6L1054.6,3200.5L1055.4,3205.6L1056.2,3206.8L1057.0,3202.3L1057.8,3193.3L1058.6,3194.5L1059.4,3195.2L1060.2,3186.6L1061.0,3171.6L1061.8,3185.7L1062.6,3192.8L1063.4,3192.1L1064.2,3196.7L1064.2,3214.7L1063.4,3213.0L1062.6,3213.5L1061.8,3208.8L1061.0,3202.6L1060.2,3210.6L1059.4,3214.2L1058.6,3211.0L1057.8,3214.6L1057.0,3223.3L1056.2,3223.4L1055.4,3226.1L1054.6,3225.2L1053.8,3228.2L1053.0,3227.4L1052.2,3228.4L1051.4,3236.0L1050.6,3230.0L1049.8,3235.1L1049.0,3235.0L1048.2,3242.0L1047.4,3238.3L1046.6,3241.4L1045.8,3240.9L1045.0,3242.9L1044.2,3245.5L1043.4,3255.7L1042.6,3236.0L1041.8,3234.1L1041.0,3232.6L1040.2,3225.2L1039.4,3211.3L1038.6,3197.6L1037.8,3193.8L1037.0,3188.3L1036.2,3179.8L1035.4,3177.7L1034.6,3185.0L1033.8,3184.7L1033.0,3184.5L1032.2,3185.2L1031.4,3191.5L1030.6,3195.6L1029.8,3208.8L1029.0,3210.8L1028.2,3213.5L1027.4,3217.9L1026.6,3220.1L1025.8,3218.0L1025.0,3217.0L1024.2,3216.8L1023.4,3211.5L1022.6,3209.1L1021.8,3206.8L1021.0,3206.4L1020.2,3199.2L1019.4,3201.8L1018.6,3203.8L1017.8,3208.0L1017.0,3205.9L1016.2,3204.6L1015.4,3197.1L1014.6,3193.4L1013.8,3200.6L1013.0,3205.4L1012.2,3204.5L1011.4,3203.3L1010.6,3212.2L1009.8,3214.7L1009.0,3216.1L1008.2,3221.6L1007.4,3215.1L1006.6,3200.3L1005.8,3189.6L1005.0,3183.9L1004.2,3181.4L1003.4,3176.2L1002.6,3187.4L1001.8,3174.3L1001.0,3179.6L1000.2,3180.0L999.4,3181.5L998.6,3182.4L997.8,3189.8L997.0,3194.7L996.2,3201.7L995.4,3204.8L994.6,3206.3L993.8,3210.1L993.0,3214.5L992.2,3214.7L991.4,3219.6L990.6,3220.6L989.8,3226.0L989.0,3232.4L988.2,3235.0L987.4,3239.5L986.6,3239.0L985.8,3241.9L985.0,3241.1L984.2,3244.9L983.4,3239.0L982.6,3243.3L981.8,3242.2L981.0,3237.7L980.2,3242.4L979.4,3246.8L978.6,3245.2L977.8,3242.8L977.0,3244.9L976.2,3234.5L975.4,3231.9L974.6,3227.3L973.8,3217.7L973.0,3214.5L972.2,3217.1L971.4,3218.0L970.6,3214.8L969.8,3221.8L969.0,3217.2L968.2,3220.8L967.4,3222.2L966.6,3223.0L965.8,3221.0L965.0,3220.4L964.2,3217.7L963.4,3212.2L962.6,3207.6L961.8,3203.3L961.0,3201.2L960.2,3196.6L959.4,3196.7L958.6,3191.9L957.8,3197.1L957.0,3196.8L956.2,3194.3L955.4,3195.0L954.6,3204.8L953.8,3197.6L953.0,3197.5L952.2,3195.9L951.4,3205.4L950.6,3214.7L949.8,3216.6L949.0,3215.8L948.2,3218.1L947.4,3222.4L946.6,3230.0L945.8,3223.9L945.0,3229.5L944.2,3225.8L943.4,3229.1L942.6,3229.2L941.8,3230.2L941.0,3231.7L940.2,3230.9L939.4,3232.2L938.6,3232.0L937.8,3230.6L937.0,3231.7L936.2,3234.6L935.4,3234.7L934.6,3238.3L933.8,3237.4L933.0,3236.4L932.2,3231.6L931.4,3229.4L930.6,3240.1L929.8,3228.6L929.0,3233.6L928.2,3232.0L927.4,3233.5L926.6,3232.9L925.8,3249.0L925.0,3230.2L924.2,3247.3L923.4,3236.8L922.6,3234.5L921.8,3239.7L921.0,3246.6L920.2,3248.0L919.4,3247.0L918.6,3248.3L917.8,3246.0L917.0,3238.1L916.2,3237.9L915.4,3236.0L914.6,3231.4L913.8,3228.4L913.0,3220.2L912.2,3225.7L911.4,3224.3L910.6,3224.4L909.8,3218.7L909.0,3218.1L908.2,3221.1L907.4,3218.2L906.6,3222.1L905.8,3221.8L905.0,3228.0L904.2,3233.8L903.4,3234.8L902.6,3230.8L901.8,3224.3L901.0,3212.5L900.2,3208.8L899.4,3206.9L898.6,3203.3L897.8,3202.0L897.0,3201.0L896.2,3205.9L895.4,3209.8L894.6,3207.8L893.8,3214.1L893.0,3218.6L892.2,3229.2L891.4,3232.9L890.6,3238.5L889.8,3242.9L889.0,3252.2L888.2,3254.9L887.4,3257.8L886.6,3242.6L885.8,3231.1L885.0,3227.5L884.2,3216.6L883.4,3225.5L882.6,3214.4L881.8,3219.5L881.0,3221.3L880.2,3224.2L879.4,3226.2L878.6,3228.5L877.8,3228.1L877.0,3227.6L876.2,3226.7L875.4,3221.6L874.6,3226.0L873.8,3226.4L873.0,3225.0L872.2,3213.8L871.4,3209.4L870.6,3198.5L869.8,3196.6L869.0,3187.3L868.2,3183.7L867.4,3183.0L866.6,3177.7L865.8,3172.7L865.0,3165.9L864.2,3168.5L863.4,3159.7L862.6,3164.4L861.8,3169.2L861.0,3181.1L860.2,3187.8L859.4,3191.8L858.6,3201.2L857.8,3205.0L857.0,3204.4L856.2,3203.5L855.4,3207.4L854.6,3199.5L853.8,3198.0L853.0,3195.5L852.2,3202.9L851.4,3196.5L850.6,3195.2L849.8,3202.5L849.0,3211.3L848.2,3217.8L847.4,3204.4L846.6,3208.0L845.8,3206.8L845.0,3209.7L844.2,3208.0L843.4,3213.7L842.6,3211.5L841.8,3210.1L841.0,3213.3L840.2,3219.7L839.4,3215.4L838.6,3215.0L837.8,3213.6L837.0,3217.4L836.2,3213.9L835.4,3221.3L834.6,3224.8L833.8,3222.5L833.0,3233.0L832.2,3226.1L831.4,3221.4L830.6,3221.5L829.8,3214.5L829.0,3217.4L828.2,3216.1L827.4,3217.0L826.6,3222.4L825.8,3215.0L825.0,3216.2L824.2,3217.5L823.4,3219.6L822.6,3218.2L821.8,3213.0L821.0,3208.9L820.2,3214.8L819.4,3220.3L818.6,3221.7L817.8,3227.1L817.0,3226.1L816.2,3222.4L815.4,3222.9L814.6,3223.2L813.8,3226.2L813.0,3227.8L812.2,3230.1L811.4,3227.5L810.6,3241.1L809.8,3222.0L809.0,3224.6L808.2,3223.9L807.4,3222.2L806.6,3225.3L805.8,3224.7L805.0,3216.9L804.2,3217.5L803.4,3219.3L802.6,3215.5L801.8,3220.3L801.0,3217.4L800.2,3221.5L799.4,3227.2L798.6,3220.9L797.8,3236.5L797.0,3229.2L796.2,3225.0L795.4,3227.4L794.6,3221.9L793.8,3226.3L793.0,3227.3L792.2,3223.7L791.4,3222.6L790.6,3219.6L789.8,3212.6L789.0,3216.1L788.2,3215.4L787.4,3215.6L786.6,3218.4L785.8,3217.6L785.0,3218.9L784.2,3218.2L783.4,3219.2L782.6,3222.3L781.8,3223.6L781.0,3216.3L780.2,3219.8L779.4,3217.7L778.6,3216.5L777.8,3222.3L777.0,3225.0L776.2,3230.0L775.4,3227.5L774.6,3231.1L773.8,3227.6L773.0,3225.8L772.2,3225.5L771.4,3219.8L770.6,3218.0L769.8,3218.2L769.0,3214.5L768.2,3208.2L767.4,3213.2L766.6,3215.6L765.8,3210.3L765.0,3210.9L764.2,3208.5L763.4,3207.3L762.6,3204.0L761.8,3197.6L761.0,3195.6L760.2,3183.5L759.4,3177.8L758.6,3174.9L757.8,3183.8L757.0,3191.6L756.2,3195.0L755.4,3197.1L754.6,3208.4L753.8,3208.2L753.0,3209.2L752.2,3205.8L751.4,3204.9L750.6,3205.3L749.8,3197.9L749.0,3200.7L748.2,3213.0L747.4,3200.2L746.6,3200.5L745.8,3205.8L745.0,3205.8L744.2,3208.2L743.4,3215.2L742.6,3215.4L741.8,3226.5L741.0,3224.2L740.2,3218.1L739.4,3217.2L738.6,3217.4L737.8,3219.3L737.0,3211.1L736.2,3211.4L735.4,3207.4L734.6,3213.8L733.8,3198.4L733.0,3196.7L732.2,3199.2L731.4,3186.1L730.6,3191.5L729.8,3191.3L729.0,3189.9L728.2,3188.3L727.4,3196.3L726.6,3193.4L725.8,3192.1L725.0,3193.1L724.2,3194.9L723.4,3191.9L722.6,3203.8L721.8,3192.0L721.0,3195.1L720.2,3190.0L719.4,3195.5L718.6,3204.4L717.8,3208.0L717.0,3212.9L716.2,3217.4L715.4,3221.0L714.6,3228.2L713.8,3233.0L713.0,3222.5L712.2,3206.6L711.4,3198.0L710.6,3179.9L709.8,3172.2L709.0,3181.0L708.2,3182.7L707.4,3192.0L706.6,3202.1L705.8,3208.3L705.0,3212.2L704.2,3211.9L703.4,3212.1L702.6,3220.3L701.8,3219.5L701.0,3214.6L700.2,3219.8L699.4,3221.0L698.6,3228.2L697.8,3231.9L697.0,3233.4L696.2,3234.1L695.4,3228.1L694.6,3229.6L693.8,3230.7L693.0,3232.8L692.2,3233.2L691.4,3235.2L690.6,3232.6L689.8,3228.4L689.0,3231.2L688.2,3230.6L687.4,3231.3L686.6,3232.5Z" fill="#ff0000" stroke="#ff0000" stroke-width="0.6"/>
<rect x="685.3" y="3051.9" width="380.5" height="233.3" fill="none" stroke="#2b2b2b" stroke-width="2.4"/>
<path d="M761.4,3285.2v-15.5M761.4,3051.9v15.5M837.5,3285.2v-15.5M837.5,3051.9v15.5M913.6,3285.2v-15.5M913.6,3051.9v15.5M989.7,3285.2v-15.5M989.7,3051.9v15.5M685.3,3168.5h16M1065.8,3168.5h-16" stroke="#2b2b2b" stroke-width="2"/>
<text x="691.1" y="3338.8" font-size="42" text-anchor="middle">0</text>
<text x="767.2" y="3338.8" font-size="42" text-anchor="middle">20</text>
<text x="843.3" y="3338.8" font-size="42" text-anchor="middle">40</text>
<text x="919.4" y="3338.8" font-size="42" text-anchor="middle">60</text>
<text x="995.5" y="3338.8" font-size="42" text-anchor="middle">80</text>
<text x="1071.6" y="3338.8" font-size="42" text-anchor="middle">100</text>
<text x="668" y="3064.5" font-size="42" text-anchor="end">18</text>
<text x="668" y="3181.1" font-size="42" text-anchor="end">12</text>
<text x="668" y="3297.8" font-size="42" text-anchor="end">6</text>
<text x="777.4" y="3405" font-size="52">Time (ns)</text>
<g transform="translate(590,3230) rotate(-90)"><text x="0" y="0" font-size="50" font-style="italic">R</text><text x="29.5" y="17.5" font-size="28.5">g</text><text x="59.5" y="0" font-size="50">(Å)</text></g>
<path d="M1543.3,3473.6v-16.5M1543.3,3014.3v16.5M1744,3473.6v-16.5M1744,3014.3v16.5M1944.6,3473.6v-16.5M1944.6,3014.3v16.5M2145.3,3473.6v-16.5M2145.3,3014.3v16.5" stroke="#2b2b2b" stroke-width="2"/>
<path d="M1558,3473.6L1558,3470.7L1568.1,3470.7L1568.1,3457.1L1578.2,3457.1L1578.2,3441.1L1588.4,3441.1L1588.4,3416.5L1598.5,3416.5L1598.5,3386.1L1608.7,3386.1L1608.7,3356.5L1618.8,3356.5L1618.8,3334.5L1628.9,3334.5L1628.9,3326.7L1639.1,3326.7L1639.1,3319.4L1649.2,3319.4L1649.2,3319.4L1659.4,3319.4L1659.4,3319.4L1669.5,3319.4L1669.5,3325.2L1679.7,3325.2L1679.7,3326.7L1689.8,3326.7L1689.8,3328.7L1699.9,3328.7L1699.9,3339.7L1710.1,3339.7L1710.1,3347L1720.2,3347L1720.2,3354.2L1730.4,3354.2L1730.4,3359.4L1740.5,3359.4L1740.5,3365.8L1750.7,3365.8L1750.7,3373.9L1760.8,3373.9L1760.8,3387.5L1770.9,3387.5L1770.9,3399.1L1781.1,3399.1L1781.1,3406.4L1791.2,3406.4L1791.2,3417.4L1801.4,3417.4L1801.4,3421.4L1811.5,3421.4L1811.5,3425.2L1821.6,3425.2L1821.6,3429.6L1831.8,3429.6L1831.8,3433.9L1841.9,3433.9L1841.9,3439.7L1852.1,3439.7L1852.1,3445.5L1862.2,3445.5L1862.2,3448.4L1872.4,3448.4L1872.4,3453.3L1882.5,3453.3L1882.5,3456.2L1892.6,3456.2L1892.6,3460L1902.8,3460L1902.8,3462.9L1912.9,3462.9L1912.9,3464.9L1923.1,3464.9L1923.1,3467.2L1933.2,3467.2L1933.2,3469.5L1950,3469.5L1950,3470.1L1960,3470.1L1960,3470.6L1970,3470.6L1970,3471.1L1980,3471.1L1980,3471.6L1990,3471.6L1990,3472.1L2000,3472.1L2000,3472.4L2020,3472.4L2020,3472.8L2050,3472.8L2050,3473.1L2080,3473.1L2080,3473.6Z" fill="#0000ff"/>
<rect x="1342.6" y="3014.3" width="1003.4" height="459.3" fill="none" stroke="#2b2b2b" stroke-width="2.6"/>
<text x="1351.1" y="3532.1" font-size="61" text-anchor="middle" textLength="28.5" lengthAdjust="spacingAndGlyphs">6</text>
<text x="1551.8" y="3532.1" font-size="61" text-anchor="middle" textLength="28.5" lengthAdjust="spacingAndGlyphs">8</text>
<text x="1752.5" y="3532.1" font-size="61" text-anchor="middle" textLength="57" lengthAdjust="spacingAndGlyphs">10</text>
<text x="1953.1" y="3532.1" font-size="61" text-anchor="middle" textLength="57" lengthAdjust="spacingAndGlyphs">12</text>
<text x="2153.8" y="3532.1" font-size="61" text-anchor="middle" textLength="57" lengthAdjust="spacingAndGlyphs">14</text>
<text x="2354.5" y="3532.1" font-size="61" text-anchor="middle" textLength="57" lengthAdjust="spacingAndGlyphs">16</text>
<text x="1799.4" y="3635.1" font-size="65" font-style="italic">R</text>
<text x="1836.5" y="3656.6" font-size="38" textLength="20.5" lengthAdjust="spacingAndGlyphs">g</text>
<text x="1872.2" y="3635.1" font-size="65" textLength="86.2" lengthAdjust="spacingAndGlyphs">(Å)</text>
<text transform="translate(1283.6,3472.2) rotate(-90)" font-size="63.7">Normalized Counts</text>
<text x="1377.6" y="3071.8" font-size="40.5" textLength="191.8" lengthAdjust="spacingAndGlyphs">poly(EtGE)</text>
<text x="1377.7" y="3122.3" font-size="40.5" textLength="93.6" lengthAdjust="spacingAndGlyphs">368K</text>
<rect x="1907.5" y="3052" width="381.3" height="233.3" fill="#fff" stroke="none"/>
<path d="M1908.8,3225.8L1909.6,3222.7L1910.4,3222.5L1911.2,3218.1L1912.0,3216.0L1912.8,3217.4L1913.6,3211.4L1914.4,3215.1L1915.2,3214.9L1916.0,3216.1L1916.8,3215.1L1917.6,3211.6L1918.4,3209.8L1919.2,3210.5L1920.0,3212.2L1920.8,3216.3L1921.6,3218.4L1922.4,3217.3L1923.2,3220.6L1924.0,3206.8L1924.8,3218.4L1925.6,3218.1L1926.4,3219.5L1927.2,3216.8L1928.0,3217.8L1928.8,3214.7L1929.6,3213.4L1930.4,3212.9L1931.2,3214.8L1932.0,3212.1L1932.8,3217.9L1933.6,3209.4L1934.4,3217.8L1935.2,3215.8L1936.0,3211.1L1936.8,3212.9L1937.6,3214.5L1938.4,3204.5L1939.2,3200.5L1940.0,3195.0L1940.8,3184.6L1941.6,3184.9L1942.4,3187.4L1943.2,3190.3L1944.0,3190.3L1944.8,3190.9L1945.6,3193.7L1946.4,3195.0L1947.2,3191.4L1948.0,3191.4L1948.8,3195.6L1949.6,3196.8L1950.4,3185.3L1951.2,3169.3L1952.0,3153.8L1952.8,3147.5L1953.6,3139.8L1954.4,3138.1L1955.2,3161.2L1956.0,3182.9L1956.8,3206.2L1957.6,3215.0L1958.4,3210.0L1959.2,3214.2L1960.0,3210.4L1960.8,3213.5L1961.6,3214.9L1962.4,3215.6L1963.2,3207.8L1964.0,3207.7L1964.8,3207.4L1965.6,3207.1L1966.4,3213.9L1967.2,3214.6L1968.0,3207.0L1968.8,3197.5L1969.6,3196.7L1970.4,3194.5L1971.2,3191.9L1972.0,3176.6L1972.8,3193.6L1973.6,3199.5L1974.4,3201.6L1975.2,3202.5L1976.0,3198.3L1976.8,3194.9L1977.6,3200.1L1978.4,3203.6L1979.2,3195.7L1980.0,3196.0L1980.8,3174.2L1981.6,3187.5L1982.4,3186.9L1983.2,3183.8L1984.0,3176.9L1984.8,3180.2L1985.6,3186.9L1986.4,3193.0L1987.2,3195.8L1988.0,3209.1L1988.8,3218.4L1989.6,3211.3L1990.4,3207.7L1991.2,3201.0L1992.0,3194.2L1992.8,3186.1L1993.6,3177.9L1994.4,3174.3L1995.2,3170.0L1996.0,3172.5L1996.8,3176.9L1997.6,3172.8L1998.4,3181.5L1999.2,3183.6L2000.0,3180.5L2000.8,3185.8L2001.6,3186.7L2002.4,3192.1L2003.2,3197.0L2004.0,3201.4L2004.8,3205.7L2005.6,3212.7L2006.4,3216.0L2007.2,3220.0L2008.0,3211.4L2008.8,3210.4L2009.6,3211.9L2010.4,3205.4L2011.2,3204.3L2012.0,3200.7L2012.8,3198.5L2013.6,3200.8L2014.4,3195.4L2015.2,3195.8L2016.0,3191.4L2016.8,3186.2L2017.6,3187.9L2018.4,3187.7L2019.2,3183.0L2020.0,3184.7L2020.8,3184.9L2021.6,3179.3L2022.4,3175.0L2023.2,3175.0L2024.0,3166.9L2024.8,3174.6L2025.6,3189.2L2026.4,3195.6L2027.2,3208.8L2028.0,3213.2L2028.8,3212.2L2029.6,3217.2L2030.4,3211.6L2031.2,3214.7L2032.0,3224.6L2032.8,3216.1L2033.6,3214.8L2034.4,3213.2L2035.2,3204.7L2036.0,3208.5L2036.8,3212.4L2037.6,3209.7L2038.4,3207.2L2039.2,3208.5L2040.0,3209.1L2040.8,3213.9L2041.6,3215.8L2042.4,3219.0L2043.2,3221.9L2044.0,3217.9L2044.8,3215.1L2045.6,3211.5L2046.4,3208.8L2047.2,3211.4L2048.0,3210.5L2048.8,3215.3L2049.6,3206.0L2050.4,3200.8L2051.2,3209.2L2052.0,3211.1L2052.8,3203.6L2053.6,3205.3L2054.4,3208.2L2055.2,3205.1L2056.0,3207.9L2056.8,3214.6L2057.6,3222.2L2058.4,3216.9L2059.2,3223.8L2060.0,3214.6L2060.8,3194.8L2061.6,3209.3L2062.4,3209.0L2063.2,3206.0L2064.0,3209.0L2064.8,3203.4L2065.6,3209.9L2066.4,3201.0L2067.2,3201.5L2068.0,3202.0L2068.8,3204.6L2069.6,3204.3L2070.4,3197.7L2071.2,3203.3L2072.0,3205.7L2072.8,3198.7L2073.6,3207.0L2074.4,3213.1L2075.2,3210.2L2076.0,3211.7L2076.8,3204.4L2077.6,3195.3L2078.4,3202.8L2079.2,3207.2L2080.0,3202.3L2080.8,3204.6L2081.6,3207.3L2082.4,3208.2L2083.2,3200.4L2084.0,3205.7L2084.8,3202.2L2085.6,3206.8L2086.4,3207.2L2087.2,3210.3L2088.0,3208.9L2088.8,3209.6L2089.6,3205.5L2090.4,3209.3L2091.2,3191.4L2092.0,3205.5L2092.8,3212.8L2093.6,3212.9L2094.4,3216.5L2095.2,3220.4L2096.0,3221.3L2096.8,3216.9L2097.6,3208.2L2098.4,3202.7L2099.2,3192.8L2100.0,3181.5L2100.8,3178.7L2101.6,3180.2L2102.4,3176.9L2103.2,3173.8L2104.0,3174.0L2104.8,3173.5L2105.6,3172.0L2106.4,3176.2L2107.2,3173.4L2108.0,3183.4L2108.8,3186.2L2109.6,3186.7L2110.4,3192.7L2111.2,3191.4L2112.0,3193.1L2112.8,3195.3L2113.6,3189.6L2114.4,3189.9L2115.2,3181.0L2116.0,3183.8L2116.8,3182.2L2117.6,3183.1L2118.4,3183.7L2119.2,3191.6L2120.0,3192.2L2120.8,3193.4L2121.6,3188.4L2122.4,3187.8L2123.2,3184.0L2124.0,3170.5L2124.8,3165.9L2125.6,3161.3L2126.4,3167.5L2127.2,3161.0L2128.0,3165.6L2128.8,3158.3L2129.6,3177.7L2130.4,3172.4L2131.2,3175.1L2132.0,3176.8L2132.8,3173.1L2133.6,3174.6L2134.4,3174.5L2135.2,3175.0L2136.0,3175.9L2136.8,3173.8L2137.6,3178.0L2138.4,3183.3L2139.2,3188.3L2140.0,3196.1L2140.8,3205.1L2141.6,3210.2L2142.4,3208.4L2143.2,3208.0L2144.0,3213.0L2144.8,3214.3L2145.6,3213.0L2146.4,3211.6L2147.2,3215.4L2148.0,3211.4L2148.8,3219.1L2149.6,3215.6L2150.4,3215.3L2151.2,3215.7L2152.0,3214.7L2152.8,3214.6L2153.6,3218.0L2154.4,3219.6L2155.2,3222.0L2156.0,3217.7L2156.8,3226.8L2157.6,3227.6L2158.4,3225.3L2159.2,3225.4L2160.0,3218.8L2160.8,3216.9L2161.6,3212.8L2162.4,3215.3L2163.2,3209.4L2164.0,3209.6L2164.8,3209.7L2165.6,3207.7L2166.4,3202.2L2167.2,3205.3L2168.0,3207.4L2168.8,3207.2L2169.6,3216.3L2170.4,3216.8L2171.2,3216.8L2172.0,3212.5L2172.8,3205.1L2173.6,3204.3L2174.4,3188.1L2175.2,3202.6L2176.0,3188.6L2176.8,3193.2L2177.6,3195.2L2178.4,3192.2L2179.2,3197.2L2180.0,3198.7L2180.8,3200.3L2181.6,3189.5L2182.4,3205.1L2183.2,3199.1L2184.0,3189.9L2184.8,3193.0L2185.6,3190.3L2186.4,3176.2L2187.2,3180.6L2188.0,3181.6L2188.8,3182.8L2189.6,3180.6L2190.4,3184.8L2191.2,3183.6L2192.0,3180.6L2192.8,3179.4L2193.6,3179.5L2194.4,3179.6L2195.2,3175.9L2196.0,3171.9L2196.8,3175.3L2197.6,3177.9L2198.4,3178.1L2199.2,3171.0L2200.0,3184.1L2200.8,3187.2L2201.6,3184.7L2202.4,3184.0L2203.2,3181.7L2204.0,3176.4L2204.8,3178.2L2205.6,3176.7L2206.4,3177.5L2207.2,3183.8L2208.0,3193.2L2208.8,3203.2L2209.6,3197.3L2210.4,3202.5L2211.2,3205.8L2212.0,3201.3L2212.8,3206.0L2213.6,3204.3L2214.4,3206.5L2215.2,3206.5L2216.0,3206.2L2216.8,3204.1L2217.6,3198.5L2218.4,3203.6L2219.2,3193.1L2220.0,3193.0L2220.8,3186.1L2221.6,3193.0L2222.4,3192.6L2223.2,3190.6L2224.0,3201.3L2224.8,3203.7L2225.6,3205.2L2226.4,3209.2L2227.2,3213.7L2228.0,3201.8L2228.8,3205.3L2229.6,3202.3L2230.4,3200.9L2231.2,3203.6L2232.0,3206.2L2232.8,3209.5L2233.6,3204.6L2234.4,3205.6L2235.2,3203.0L2236.0,3204.1L2236.8,3200.2L2237.6,3196.1L2238.4,3198.0L2239.2,3198.1L2240.0,3198.5L2240.8,3197.7L2241.6,3201.1L2242.4,3204.8L2243.2,3196.4L2244.0,3199.8L2244.8,3207.2L2245.6,3199.2L2246.4,3200.5L2247.2,3195.2L2248.0,3194.4L2248.8,3193.7L2249.6,3187.7L2250.4,3191.3L2251.2,3188.9L2252.0,3180.3L2252.8,3189.9L2253.6,3198.0L2254.4,3199.3L2255.2,3200.7L2256.0,3201.9L2256.8,3211.7L2257.6,3205.7L2258.4,3204.7L2259.2,3210.2L2260.0,3204.9L2260.8,3210.9L2261.6,3208.8L2262.4,3212.3L2263.2,3212.5L2264.0,3213.8L2264.8,3221.3L2265.6,3215.9L2266.4,3214.8L2267.2,3216.4L2268.0,3222.4L2268.8,3219.4L2269.6,3213.4L2270.4,3219.5L2271.2,3217.6L2272.0,3214.4L2272.8,3211.8L2273.6,3212.3L2274.4,3209.3L2275.2,3208.8L2276.0,3208.9L2276.8,3208.2L2277.6,3203.3L2278.4,3202.5L2279.2,3197.3L2280.0,3197.9L2280.8,3197.8L2281.6,3188.0L2282.4,3189.9L2283.2,3188.0L2284.0,3181.0L2284.8,3172.4L2285.6,3171.2L2286.4,3171.3L2286.4,3194.3L2285.6,3207.4L2284.8,3193.9L2284.0,3196.0L2283.2,3206.2L2282.4,3207.7L2281.6,3209.2L2280.8,3213.1L2280.0,3217.8L2279.2,3222.0L2278.4,3219.1L2277.6,3221.4L2276.8,3225.2L2276.0,3224.6L2275.2,3229.5L2274.4,3230.9L2273.6,3230.5L2272.8,3233.9L2272.0,3236.2L2271.2,3238.2L2270.4,3247.6L2269.6,3233.7L2268.8,3238.6L2268.0,3239.9L2267.2,3238.4L2266.4,3232.0L2265.6,3232.8L2264.8,3241.0L2264.0,3235.1L2263.2,3229.5L2262.4,3228.0L2261.6,3230.8L2260.8,3243.3L2260.0,3226.8L2259.2,3225.9L2258.4,3225.6L2257.6,3228.1L2256.8,3227.0L2256.0,3219.9L2255.2,3223.7L2254.4,3215.8L2253.6,3221.4L2252.8,3209.3L2252.0,3210.2L2251.2,3211.1L2250.4,3210.1L2249.6,3212.6L2248.8,3214.5L2248.0,3215.8L2247.2,3220.4L2246.4,3230.1L2245.6,3218.0L2244.8,3221.0L2244.0,3219.2L2243.2,3219.6L2242.4,3222.0L2241.6,3218.8L2240.8,3218.3L2240.0,3217.3L2239.2,3219.2L2238.4,3217.1L2237.6,3219.0L2236.8,3218.2L2236.0,3222.4L2235.2,3219.5L2234.4,3222.5L2233.6,3233.7L2232.8,3242.1L2232.0,3221.4L2231.2,3221.6L2230.4,3222.1L2229.6,3218.4L2228.8,3219.1L2228.0,3224.9L2227.2,3229.4L2226.4,3229.4L2225.6,3228.2L2224.8,3227.3L2224.0,3220.9L2223.2,3210.4L2222.4,3214.9L2221.6,3212.0L2220.8,3212.0L2220.0,3210.3L2219.2,3216.1L2218.4,3222.5L2217.6,3223.3L2216.8,3222.6L2216.0,3222.9L2215.2,3224.2L2214.4,3226.4L2213.6,3219.6L2212.8,3223.9L2212.0,3217.4L2211.2,3221.1L2210.4,3221.6L2209.6,3224.1L2208.8,3226.5L2208.0,3218.8L2207.2,3212.6L2206.4,3205.3L2205.6,3196.0L2204.8,3195.5L2204.0,3200.3L2203.2,3200.2L2202.4,3207.7L2201.6,3206.9L2200.8,3210.9L2200.0,3208.4L2199.2,3208.0L2198.4,3201.3L2197.6,3194.6L2196.8,3191.3L2196.0,3191.2L2195.2,3197.5L2194.4,3198.3L2193.6,3198.7L2192.8,3199.1L2192.0,3204.4L2191.2,3205.6L2190.4,3201.2L2189.6,3214.5L2188.8,3201.2L2188.0,3197.3L2187.2,3202.9L2186.4,3203.8L2185.6,3208.4L2184.8,3211.7L2184.0,3217.7L2183.2,3221.7L2182.4,3222.0L2181.6,3220.6L2180.8,3222.7L2180.0,3216.7L2179.2,3212.7L2178.4,3214.8L2177.6,3212.3L2176.8,3207.3L2176.0,3211.1L2175.2,3224.1L2174.4,3217.9L2173.6,3225.8L2172.8,3230.6L2172.0,3236.3L2171.2,3235.8L2170.4,3238.8L2169.6,3234.9L2168.8,3227.0L2168.0,3225.0L2167.2,3220.0L2166.4,3224.0L2165.6,3222.7L2164.8,3226.3L2164.0,3233.2L2163.2,3230.4L2162.4,3232.6L2161.6,3233.8L2160.8,3232.8L2160.0,3235.7L2159.2,3238.8L2158.4,3243.4L2157.6,3241.4L2156.8,3240.5L2156.0,3237.2L2155.2,3239.3L2154.4,3240.8L2153.6,3242.1L2152.8,3229.9L2152.0,3229.1L2151.2,3231.8L2150.4,3228.8L2149.6,3230.9L2148.8,3235.2L2148.0,3231.6L2147.2,3231.8L2146.4,3235.6L2145.6,3232.7L2144.8,3227.4L2144.0,3229.7L2143.2,3232.2L2142.4,3229.2L2141.6,3228.2L2140.8,3227.6L2140.0,3218.6L2139.2,3212.5L2138.4,3205.7L2137.6,3204.2L2136.8,3193.7L2136.0,3193.2L2135.2,3206.9L2134.4,3194.9L2133.6,3193.3L2132.8,3192.7L2132.0,3194.2L2131.2,3199.0L2130.4,3193.4L2129.6,3198.7L2128.8,3198.1L2128.0,3192.2L2127.2,3186.2L2126.4,3182.6L2125.6,3183.3L2124.8,3192.5L2124.0,3194.5L2123.2,3205.1L2122.4,3208.0L2121.6,3214.1L2120.8,3209.2L2120.0,3216.3L2119.2,3210.3L2118.4,3205.7L2117.6,3205.1L2116.8,3203.3L2116.0,3199.0L2115.2,3202.2L2114.4,3207.3L2113.6,3206.4L2112.8,3215.6L2112.0,3211.6L2111.2,3214.4L2110.4,3215.8L2109.6,3206.6L2108.8,3203.3L2108.0,3199.3L2107.2,3194.2L2106.4,3197.6L2105.6,3190.8L2104.8,3194.0L2104.0,3194.0L2103.2,3193.8L2102.4,3197.9L2101.6,3209.8L2100.8,3203.7L2100.0,3206.7L2099.2,3216.2L2098.4,3227.0L2097.6,3232.2L2096.8,3239.3L2096.0,3235.8L2095.2,3237.6L2094.4,3236.7L2093.6,3232.7L2092.8,3230.0L2092.0,3224.1L2091.2,3229.4L2090.4,3231.1L2089.6,3228.3L2088.8,3226.4L2088.0,3227.1L2087.2,3231.6L2086.4,3225.1L2085.6,3225.4L2084.8,3223.7L2084.0,3224.0L2083.2,3220.4L2082.4,3222.9L2081.6,3222.1L2080.8,3223.5L2080.0,3224.5L2079.2,3225.8L2078.4,3221.1L2077.6,3227.5L2076.8,3227.1L2076.0,3225.2L2075.2,3225.5L2074.4,3229.6L2073.6,3224.0L2072.8,3219.5L2072.0,3221.5L2071.2,3217.7L2070.4,3221.4L2069.6,3224.1L2068.8,3225.1L2068.0,3217.5L2067.2,3219.3L2066.4,3222.3L2065.6,3223.6L2064.8,3221.5L2064.0,3227.7L2063.2,3226.4L2062.4,3225.1L2061.6,3227.9L2060.8,3232.3L2060.0,3235.2L2059.2,3239.5L2058.4,3241.2L2057.6,3241.2L2056.8,3233.0L2056.0,3228.3L2055.2,3227.7L2054.4,3223.4L2053.6,3221.9L2052.8,3226.1L2052.0,3226.0L2051.2,3224.4L2050.4,3225.9L2049.6,3225.5L2048.8,3230.2L2048.0,3232.8L2047.2,3229.5L2046.4,3231.2L2045.6,3231.1L2044.8,3238.5L2044.0,3239.7L2043.2,3237.5L2042.4,3235.4L2041.6,3245.7L2040.8,3230.9L2040.0,3232.8L2039.2,3234.2L2038.4,3226.8L2037.6,3223.2L2036.8,3232.4L2036.0,3228.7L2035.2,3227.3L2034.4,3233.4L2033.6,3232.9L2032.8,3253.3L2032.0,3239.6L2031.2,3233.9L2030.4,3231.6L2029.6,3232.7L2028.8,3231.6L2028.0,3234.5L2027.2,3233.7L2026.4,3224.1L2025.6,3215.9L2024.8,3211.0L2024.0,3206.8L2023.2,3202.2L2022.4,3196.9L2021.6,3202.4L2020.8,3207.4L2020.0,3200.4L2019.2,3205.2L2018.4,3204.6L2017.6,3208.4L2016.8,3208.4L2016.0,3210.2L2015.2,3214.4L2014.4,3219.1L2013.6,3218.2L2012.8,3218.3L2012.0,3216.6L2011.2,3222.5L2010.4,3223.3L2009.6,3225.7L2008.8,3227.6L2008.0,3231.2L2007.2,3234.9L2006.4,3237.0L2005.6,3233.0L2004.8,3231.7L2004.0,3225.9L2003.2,3230.2L2002.4,3217.4L2001.6,3212.1L2000.8,3208.0L2000.0,3201.3L1999.2,3199.9L1998.4,3196.2L1997.6,3203.5L1996.8,3197.0L1996.0,3193.3L1995.2,3195.0L1994.4,3199.3L1993.6,3204.9L1992.8,3214.2L1992.0,3222.3L1991.2,3225.0L1990.4,3229.3L1989.6,3238.5L1988.8,3237.3L1988.0,3232.2L1987.2,3224.8L1986.4,3215.6L1985.6,3223.9L1984.8,3201.5L1984.0,3200.9L1983.2,3201.5L1982.4,3205.4L1981.6,3215.0L1980.8,3209.6L1980.0,3216.5L1979.2,3219.0L1978.4,3222.4L1977.6,3217.2L1976.8,3216.6L1976.0,3219.4L1975.2,3222.1L1974.4,3220.1L1973.6,3217.3L1972.8,3216.0L1972.0,3212.7L1971.2,3212.8L1970.4,3216.9L1969.6,3220.7L1968.8,3223.9L1968.0,3232.4L1967.2,3228.5L1966.4,3229.0L1965.6,3223.8L1964.8,3226.3L1964.0,3227.1L1963.2,3229.6L1962.4,3229.7L1961.6,3231.9L1960.8,3228.4L1960.0,3228.2L1959.2,3227.4L1958.4,3227.9L1957.6,3232.9L1956.8,3227.3L1956.0,3228.7L1955.2,3204.6L1954.4,3179.8L1953.6,3167.4L1952.8,3176.7L1952.0,3187.4L1951.2,3199.0L1950.4,3213.9L1949.6,3215.8L1948.8,3218.2L1948.0,3210.5L1947.2,3210.3L1946.4,3212.9L1945.6,3210.1L1944.8,3214.9L1944.0,3210.9L1943.2,3209.5L1942.4,3208.6L1941.6,3203.8L1940.8,3213.2L1940.0,3219.4L1939.2,3226.3L1938.4,3228.5L1937.6,3234.4L1936.8,3241.0L1936.0,3231.6L1935.2,3236.4L1934.4,3236.9L1933.6,3230.6L1932.8,3233.1L1932.0,3233.5L1931.2,3233.5L1930.4,3229.8L1929.6,3234.7L1928.8,3247.4L1928.0,3234.6L1927.2,3231.6L1926.4,3238.6L1925.6,3237.2L1924.8,3234.5L1924.0,3236.5L1923.2,3239.2L1922.4,3241.5L1921.6,3241.6L1920.8,3243.1L1920.0,3231.1L1919.2,3232.7L1918.4,3229.4L1917.6,3229.6L1916.8,3230.7L1916.0,3238.3L1915.2,3232.9L1914.4,3232.9L1913.6,3232.9L1912.8,3238.4L1912.0,3233.4L1911.2,3236.3L1910.4,3236.1L1909.6,3242.4L1908.8,3245.5Z" fill="#0000ff" stroke="#0000ff" stroke-width="0.6"/>
<rect x="1907.5" y="3052" width="381.3" height="233.3" fill="none" stroke="#2b2b2b" stroke-width="2.4"/>
<path d="M1983.8,3285.3v-15.5M1983.8,3052v15.5M2060,3285.3v-15.5M2060,3052v15.5M2136.3,3285.3v-15.5M2136.3,3052v15.5M2212.5,3285.3v-15.5M2212.5,3052v15.5M1907.5,3168.7h16M2288.8,3168.7h-16" stroke="#2b2b2b" stroke-width="2"/>
<text x="1913.3" y="3338.9" font-size="42" text-anchor="middle">0</text>
<text x="1989.6" y="3338.9" font-size="42" text-anchor="middle">20</text>
<text x="2065.8" y="3338.9" font-size="42" text-anchor="middle">40</text>
<text x="2142.1" y="3338.9" font-size="42" text-anchor="middle">60</text>
<text x="2218.3" y="3338.9" font-size="42" text-anchor="middle">80</text>
<text x="2294.6" y="3338.9" font-size="42" text-anchor="middle">100</text>
<text x="1890.2" y="3064.6" font-size="42" text-anchor="end">18</text>
<text x="1890.2" y="3181.2" font-size="42" text-anchor="end">12</text>
<text x="1890.2" y="3297.9" font-size="42" text-anchor="end">6</text>
<text x="1999.6" y="3405.1" font-size="52">Time (ns)</text>
<g transform="translate(1812.2,3230.1) rotate(-90)"><text x="0" y="0" font-size="50" font-style="italic">R</text><text x="29.5" y="17.5" font-size="28.5">g</text><text x="59.5" y="0" font-size="50">(Å)</text></g>
</svg>
</body></html>
